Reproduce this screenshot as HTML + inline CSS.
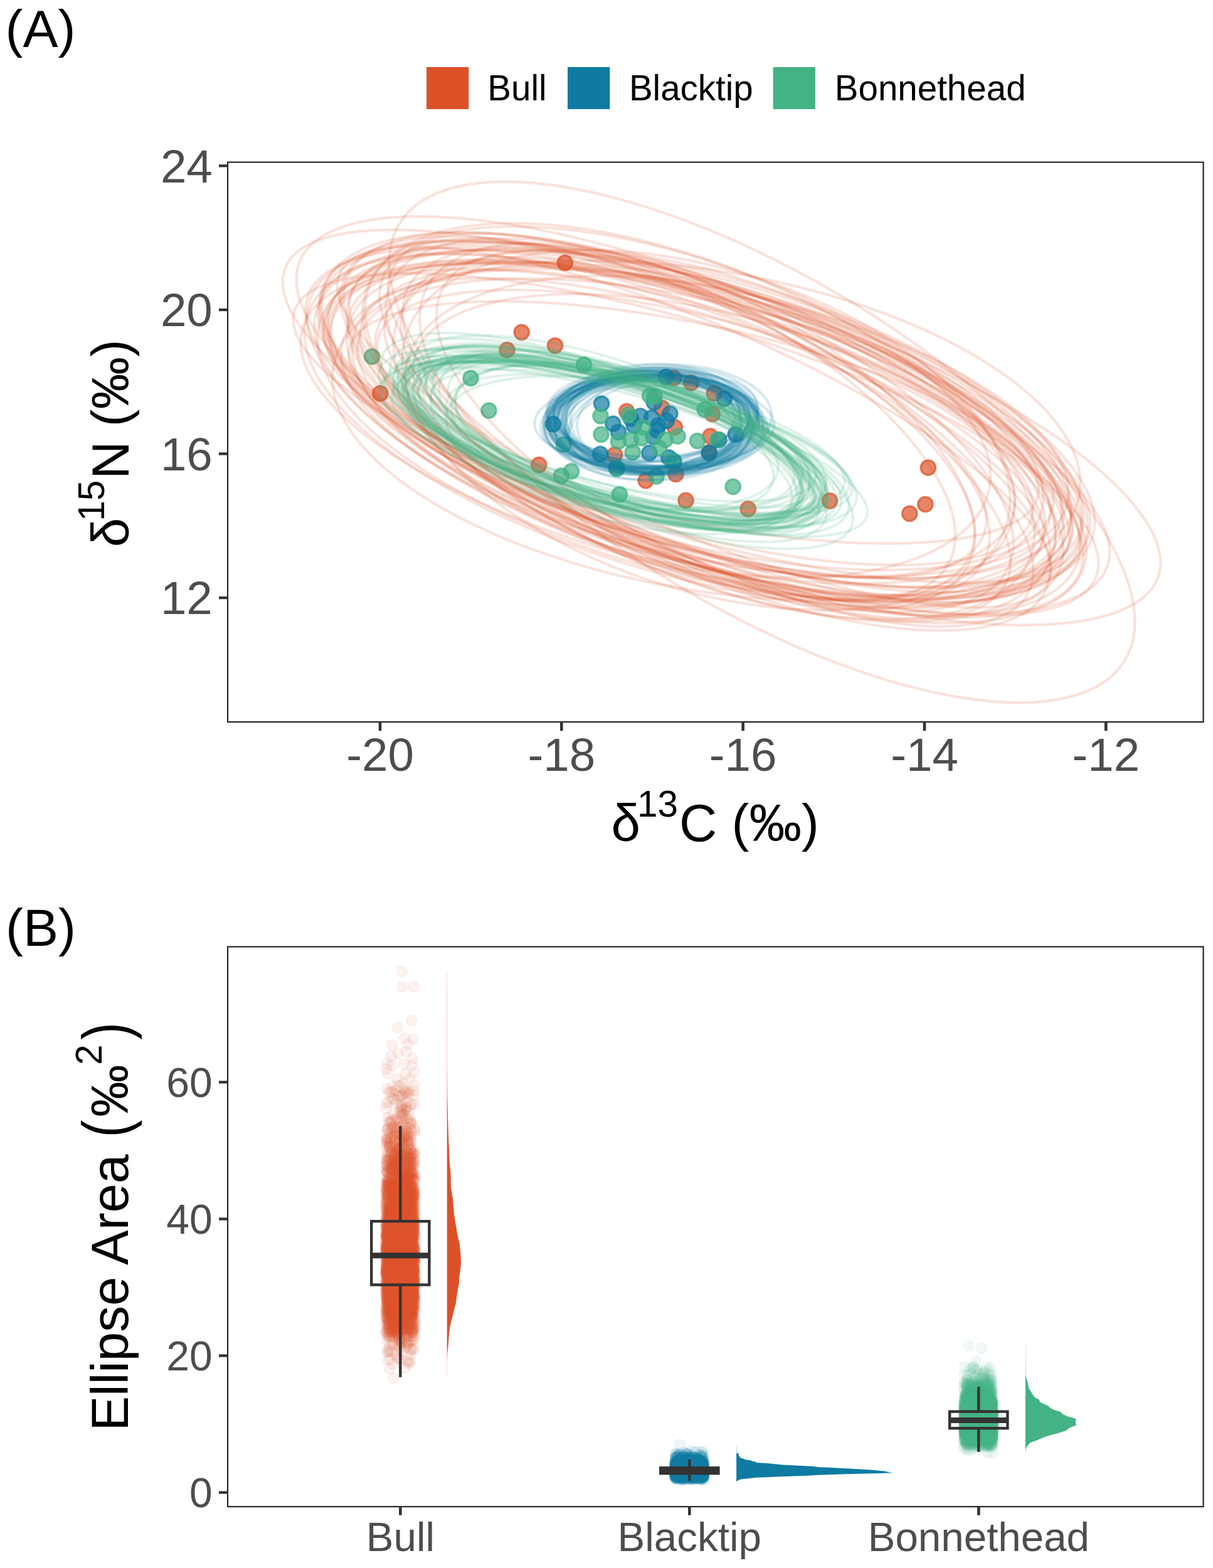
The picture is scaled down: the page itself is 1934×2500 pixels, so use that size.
<!DOCTYPE html><html><head><meta charset="utf-8"><title>Figure</title><style>html,body{margin:0;padding:0;background:#fff;overflow:hidden;}svg{display:block;}</style></head><body>
<svg width="1934" height="2500" viewBox="0 0 1934 2500" font-family="'Liberation Sans', Arial, Helvetica, sans-serif">
<rect x="0" y="0" width="1934" height="2500" fill="#fff"/>
<defs><clipPath id="clipA"><rect x="363.0" y="258.6" width="1555.6" height="892.4999999999999"/></clipPath><clipPath id="clipB"><rect x="363.0" y="1509.5" width="1555.6" height="892.6999999999998"/></clipPath></defs>
<g clip-path="url(#clipA)">
<g fill="#DD5129" fill-opacity="0.7" stroke="#DD5129" stroke-opacity="0.7" stroke-width="3.2"><circle cx="900.8" cy="419.1" r="11.8"/><circle cx="831.7" cy="529.8" r="11.8"/><circle cx="885" cy="551.1" r="11.8"/><circle cx="808.5" cy="558" r="11.8"/><circle cx="606.2" cy="627.3" r="11.8"/><circle cx="859.2" cy="741.2" r="11.8"/><circle cx="999.2" cy="655.8" r="11.8"/><circle cx="1055.1" cy="650.1" r="11.8"/><circle cx="1075.9" cy="681.3" r="11.8"/><circle cx="1074" cy="602.7" r="11.8"/><circle cx="1102" cy="610.3" r="11.8"/><circle cx="1138.7" cy="627.2" r="11.8"/><circle cx="1135.8" cy="660" r="11.8"/><circle cx="1132.5" cy="695.5" r="11.8"/><circle cx="1130.5" cy="721.5" r="11.8"/><circle cx="980" cy="725" r="11.8"/><circle cx="1029.6" cy="766.3" r="11.8"/><circle cx="1077.6" cy="756" r="11.8"/><circle cx="1093.5" cy="798" r="11.8"/><circle cx="1192.7" cy="811.5" r="11.8"/><circle cx="1323" cy="798.5" r="11.8"/><circle cx="1479.9" cy="745.6" r="11.8"/><circle cx="1475.4" cy="804.1" r="11.8"/><circle cx="1450.3" cy="818.9" r="11.8"/></g>
<g fill="#0F7BA2" fill-opacity="0.7" stroke="#0F7BA2" stroke-opacity="0.7" stroke-width="3.2"><circle cx="881.9" cy="676.2" r="11.8"/><circle cx="959.1" cy="643.6" r="11.8"/><circle cx="977.4" cy="675.6" r="11.8"/><circle cx="986" cy="688.9" r="11.8"/><circle cx="1021" cy="663.3" r="11.8"/><circle cx="1039" cy="666.2" r="11.8"/><circle cx="1010.6" cy="678.5" r="11.8"/><circle cx="1049.4" cy="678.5" r="11.8"/><circle cx="1047.5" cy="686" r="11.8"/><circle cx="1068.3" cy="659.5" r="11.8"/><circle cx="1062.7" cy="670.9" r="11.8"/><circle cx="1042.8" cy="641.6" r="11.8"/><circle cx="1061.7" cy="600.8" r="11.8"/><circle cx="1154.8" cy="635.8" r="11.8"/><circle cx="1172.8" cy="692.6" r="11.8"/><circle cx="1146.3" cy="701.1" r="11.8"/><circle cx="957.2" cy="724" r="11.8"/><circle cx="983.1" cy="746.7" r="11.8"/><circle cx="1035.3" cy="722.2" r="11.8"/><circle cx="1066.4" cy="729.6" r="11.8"/><circle cx="1074.3" cy="735.5" r="11.8"/><circle cx="1130.8" cy="722" r="11.8"/><circle cx="1041.8" cy="696.5" r="11.8"/><circle cx="1006" cy="667.4" r="11.8"/></g>
<g fill="#43B284" fill-opacity="0.7" stroke="#43B284" stroke-opacity="0.7" stroke-width="3.2"><circle cx="593.1" cy="568.6" r="11.8"/><circle cx="750.5" cy="603" r="11.8"/><circle cx="931.1" cy="581.7" r="11.8"/><circle cx="779.4" cy="654.6" r="11.8"/><circle cx="957.5" cy="663.3" r="11.8"/><circle cx="958.5" cy="692.7" r="11.8"/><circle cx="1002" cy="661.4" r="11.8"/><circle cx="986" cy="704" r="11.8"/><circle cx="1005.8" cy="701.2" r="11.8"/><circle cx="1024.8" cy="681.3" r="11.8"/><circle cx="1022.9" cy="698.4" r="11.8"/><circle cx="1036.1" cy="631.1" r="11.8"/><circle cx="1043.7" cy="632.1" r="11.8"/><circle cx="1008.7" cy="721.1" r="11.8"/><circle cx="1060.8" cy="701.2" r="11.8"/><circle cx="1051.3" cy="714.5" r="11.8"/><circle cx="1080.6" cy="695.5" r="11.8"/><circle cx="1111.9" cy="703.1" r="11.8"/><circle cx="1072.1" cy="735.3" r="11.8"/><circle cx="1046.6" cy="759.5" r="11.8"/><circle cx="898.8" cy="708.8" r="11.8"/><circle cx="911" cy="751.5" r="11.8"/><circle cx="895" cy="758.6" r="11.8"/><circle cx="987.8" cy="788.3" r="11.8"/><circle cx="1168.7" cy="776" r="11.8"/><circle cx="1144.1" cy="701.2" r="11.8"/><circle cx="1123.6" cy="652.8" r="11.8"/><circle cx="983.8" cy="747" r="11.8"/></g>
<g fill="none" stroke="#DD5129" stroke-opacity="0.17" stroke-width="4.2"><ellipse cx="1093.5" cy="684.5" rx="632" ry="219.6" transform="rotate(14.6 1093.5 684.5)"/><ellipse cx="1109.5" cy="678.4" rx="459" ry="195.2" transform="rotate(28.6 1109.5 678.4)"/><ellipse cx="1108.3" cy="683.3" rx="553.5" ry="197" transform="rotate(26.5 1108.3 683.3)"/><ellipse cx="1107.7" cy="669.9" rx="628.5" ry="219.4" transform="rotate(18.2 1107.7 669.9)"/><ellipse cx="1138.3" cy="694.6" rx="493.4" ry="195.2" transform="rotate(14.5 1138.3 694.6)"/><ellipse cx="1124.2" cy="681.6" rx="540.3" ry="172.1" transform="rotate(15.4 1124.2 681.6)"/><ellipse cx="1124.1" cy="680" rx="627.3" ry="215.5" transform="rotate(17.8 1124.1 680)"/><ellipse cx="1124.8" cy="676.5" rx="569.3" ry="194.1" transform="rotate(13.8 1124.8 676.5)"/><ellipse cx="1133.2" cy="685.6" rx="568.8" ry="197.8" transform="rotate(27.1 1133.2 685.6)"/><ellipse cx="1107.3" cy="674.6" rx="627.1" ry="191.9" transform="rotate(18.5 1107.3 674.6)"/><ellipse cx="1115.6" cy="682.5" rx="596.1" ry="184.5" transform="rotate(21.5 1115.6 682.5)"/><ellipse cx="1130.2" cy="676.2" rx="586.6" ry="245.1" transform="rotate(21.8 1130.2 676.2)"/><ellipse cx="1121.3" cy="675.6" rx="613.9" ry="213.1" transform="rotate(22.3 1121.3 675.6)"/><ellipse cx="1125.5" cy="684.9" rx="597.5" ry="199.5" transform="rotate(18.2 1125.5 684.9)"/><ellipse cx="1104.3" cy="671.3" rx="607.8" ry="199" transform="rotate(15.4 1104.3 671.3)"/><ellipse cx="1111.9" cy="679.9" rx="485.1" ry="214.4" transform="rotate(27.1 1111.9 679.9)"/><ellipse cx="1094.6" cy="668.8" rx="600.8" ry="199.3" transform="rotate(16.1 1094.6 668.8)"/><ellipse cx="1106.3" cy="678.3" rx="640.9" ry="241.9" transform="rotate(15.6 1106.3 678.3)"/><ellipse cx="1101" cy="673.8" rx="691.6" ry="197.6" transform="rotate(20.8 1101 673.8)"/><ellipse cx="1107.1" cy="678.4" rx="619.6" ry="237.3" transform="rotate(15.2 1107.1 678.4)"/><ellipse cx="1112.4" cy="674.3" rx="565.9" ry="221" transform="rotate(14.4 1112.4 674.3)"/><ellipse cx="1108.5" cy="691.1" rx="612.3" ry="209.7" transform="rotate(24.0 1108.5 691.1)"/><ellipse cx="1142.6" cy="689.4" rx="623.3" ry="225.4" transform="rotate(20.5 1142.6 689.4)"/><ellipse cx="1122.4" cy="675.5" rx="515.6" ry="237.7" transform="rotate(18.3 1122.4 675.5)"/><ellipse cx="1146.9" cy="686.8" rx="568.8" ry="215.1" transform="rotate(16.5 1146.9 686.8)"/><ellipse cx="1106" cy="673.5" rx="561.4" ry="156.6" transform="rotate(12.1 1106 673.5)"/><ellipse cx="1099.8" cy="664.8" rx="669.5" ry="217.6" transform="rotate(21.7 1099.8 664.8)"/><ellipse cx="1128.2" cy="687.4" rx="672.7" ry="208" transform="rotate(18.6 1128.2 687.4)"/><ellipse cx="1096.6" cy="683.9" rx="493" ry="202.1" transform="rotate(24.2 1096.6 683.9)"/><ellipse cx="1109.9" cy="676.2" rx="508.1" ry="200.9" transform="rotate(25.1 1109.9 676.2)"/><ellipse cx="1126.2" cy="674.7" rx="619.5" ry="204.2" transform="rotate(16.1 1126.2 674.7)"/><ellipse cx="1115.5" cy="677.9" rx="542" ry="213.3" transform="rotate(24.7 1115.5 677.9)"/><ellipse cx="1092.8" cy="675.8" rx="507.2" ry="182.3" transform="rotate(20.3 1092.8 675.8)"/><ellipse cx="1117.7" cy="676.6" rx="639.1" ry="224.3" transform="rotate(20.3 1117.7 676.6)"/><ellipse cx="1123.8" cy="674.3" rx="591.9" ry="215.1" transform="rotate(12.4 1123.8 674.3)"/><ellipse cx="1115.8" cy="671.8" rx="569.7" ry="245" transform="rotate(22.8 1115.8 671.8)"/><ellipse cx="1109.7" cy="689.2" rx="579.8" ry="218" transform="rotate(17.5 1109.7 689.2)"/><ellipse cx="1132.4" cy="676.7" rx="635.3" ry="223.2" transform="rotate(16.3 1132.4 676.7)"/><ellipse cx="1086.5" cy="677.5" rx="625.1" ry="225.5" transform="rotate(18.6 1086.5 677.5)"/><ellipse cx="1117.5" cy="678.9" rx="639.9" ry="228.3" transform="rotate(16.7 1117.5 678.9)"/><ellipse cx="1116.7" cy="683.6" rx="617.2" ry="191.3" transform="rotate(16.6 1116.7 683.6)"/><ellipse cx="1125.9" cy="685.7" rx="501.8" ry="255.6" transform="rotate(17.6 1125.9 685.7)"/><ellipse cx="1131.8" cy="684.9" rx="627.1" ry="215.5" transform="rotate(15.8 1131.8 684.9)"/><ellipse cx="1118.7" cy="690" rx="569.6" ry="182.2" transform="rotate(17.9 1118.7 690)"/><ellipse cx="1107" cy="680.8" rx="616.1" ry="164.9" transform="rotate(23.4 1107 680.8)"/><ellipse cx="1112.7" cy="680.3" rx="474.8" ry="223.2" transform="rotate(12.3 1112.7 680.3)"/><ellipse cx="1126.1" cy="686.6" rx="603.3" ry="254.6" transform="rotate(9.7 1126.1 686.6)"/><ellipse cx="1094.2" cy="682.5" rx="652.1" ry="168.4" transform="rotate(16.6 1094.2 682.5)"/><ellipse cx="1215" cy="705" rx="675" ry="265" transform="rotate(31.0 1215 705)"/><ellipse cx="1180" cy="690" rx="705" ry="215" transform="rotate(19.0 1180 690)"/></g>
<g fill="none" stroke="#0F7BA2" stroke-opacity="0.17" stroke-width="4.2"><ellipse cx="1042.6" cy="662.3" rx="152.6" ry="81.6" transform="rotate(-0.0 1042.6 662.3)"/><ellipse cx="1040.4" cy="667.4" rx="170" ry="76.4" transform="rotate(3.8 1040.4 667.4)"/><ellipse cx="1047.5" cy="680.5" rx="173.1" ry="77.6" transform="rotate(2.6 1047.5 680.5)"/><ellipse cx="1044.5" cy="682.2" rx="171.1" ry="73.9" transform="rotate(2.5 1044.5 682.2)"/><ellipse cx="1054.1" cy="675.5" rx="171.9" ry="68.2" transform="rotate(5.5 1054.1 675.5)"/><ellipse cx="1035.1" cy="673" rx="160.1" ry="72.7" transform="rotate(-4.6 1035.1 673)"/><ellipse cx="1031.3" cy="677.8" rx="165" ry="69.2" transform="rotate(-2.2 1031.3 677.8)"/><ellipse cx="1043.9" cy="679.5" rx="139" ry="76.7" transform="rotate(-6.7 1043.9 679.5)"/><ellipse cx="1045.4" cy="663" rx="162" ry="66.7" transform="rotate(-0.4 1045.4 663)"/><ellipse cx="1048.3" cy="677.4" rx="138.9" ry="77.1" transform="rotate(5.1 1048.3 677.4)"/><ellipse cx="1056.5" cy="667.9" rx="153.4" ry="79.3" transform="rotate(-0.1 1056.5 667.9)"/><ellipse cx="1035.8" cy="673.1" rx="156.8" ry="81.9" transform="rotate(2.1 1035.8 673.1)"/><ellipse cx="1034.7" cy="665.8" rx="173.8" ry="70" transform="rotate(-6.4 1034.7 665.8)"/><ellipse cx="1034.4" cy="685.6" rx="165.1" ry="71" transform="rotate(0.5 1034.4 685.6)"/><ellipse cx="1038" cy="667.5" rx="143.1" ry="65.2" transform="rotate(-3.9 1038 667.5)"/><ellipse cx="1039.3" cy="672.6" rx="166.5" ry="68.3" transform="rotate(6.3 1039.3 672.6)"/><ellipse cx="1053.2" cy="677.3" rx="165" ry="71.6" transform="rotate(3.2 1053.2 677.3)"/><ellipse cx="1049.1" cy="672.7" rx="167.8" ry="74.8" transform="rotate(3.4 1049.1 672.7)"/><ellipse cx="1044.1" cy="669.3" rx="148.3" ry="73.6" transform="rotate(-0.3 1044.1 669.3)"/><ellipse cx="1030.8" cy="682.7" rx="165" ry="82.9" transform="rotate(2.4 1030.8 682.7)"/><ellipse cx="1039.1" cy="677.6" rx="172.3" ry="74.6" transform="rotate(2.3 1039.1 677.6)"/><ellipse cx="1040.3" cy="672" rx="154.5" ry="81.7" transform="rotate(-1.5 1040.3 672)"/><ellipse cx="1041.5" cy="665.6" rx="166.9" ry="79" transform="rotate(-1.9 1041.5 665.6)"/><ellipse cx="1042.1" cy="674.4" rx="169.9" ry="76.8" transform="rotate(-0.4 1042.1 674.4)"/><ellipse cx="1049.4" cy="674.9" rx="147.9" ry="71.2" transform="rotate(-2.6 1049.4 674.9)"/><ellipse cx="1050.9" cy="673.9" rx="131" ry="74.1" transform="rotate(-3.3 1050.9 673.9)"/><ellipse cx="1042.7" cy="662.6" rx="159.6" ry="65.4" transform="rotate(-1.0 1042.7 662.6)"/><ellipse cx="1038.4" cy="680.2" rx="153.4" ry="84.5" transform="rotate(-3.3 1038.4 680.2)"/><ellipse cx="1043.7" cy="676.4" rx="158.1" ry="77.7" transform="rotate(3.1 1043.7 676.4)"/><ellipse cx="1041" cy="669.1" rx="157.8" ry="77.9" transform="rotate(-6.5 1041 669.1)"/><ellipse cx="1059.1" cy="674.2" rx="164.3" ry="70.5" transform="rotate(3.0 1059.1 674.2)"/><ellipse cx="1054.6" cy="675.1" rx="153.2" ry="75.7" transform="rotate(-2.6 1054.6 675.1)"/><ellipse cx="1040.3" cy="661.2" rx="138.2" ry="75" transform="rotate(-2.7 1040.3 661.2)"/><ellipse cx="1043.4" cy="664.6" rx="166.2" ry="78.8" transform="rotate(-5.1 1043.4 664.6)"/><ellipse cx="1024.9" cy="678.6" rx="156.6" ry="78.5" transform="rotate(-0.6 1024.9 678.6)"/><ellipse cx="1048.4" cy="675.6" rx="168.6" ry="77.6" transform="rotate(-0.9 1048.4 675.6)"/><ellipse cx="1043" cy="672.2" rx="146.6" ry="78" transform="rotate(0.9 1043 672.2)"/><ellipse cx="1046" cy="673.2" rx="163.1" ry="73.9" transform="rotate(-2.0 1046 673.2)"/><ellipse cx="1043.2" cy="676.1" rx="191.1" ry="69.9" transform="rotate(0.3 1043.2 676.1)"/><ellipse cx="1023" cy="676.9" rx="151.8" ry="71.3" transform="rotate(7.5 1023 676.9)"/><ellipse cx="1037.5" cy="676.7" rx="137.1" ry="77" transform="rotate(2.1 1037.5 676.7)"/><ellipse cx="1052" cy="668.1" rx="178.4" ry="87" transform="rotate(-2.1 1052 668.1)"/><ellipse cx="1048.9" cy="676.2" rx="150.1" ry="80.3" transform="rotate(4.3 1048.9 676.2)"/><ellipse cx="1036.7" cy="669.6" rx="164.7" ry="78.7" transform="rotate(-0.5 1036.7 669.6)"/><ellipse cx="1043.2" cy="661" rx="160.7" ry="74.4" transform="rotate(2.3 1043.2 661)"/><ellipse cx="1038.6" cy="673" rx="161.3" ry="79.9" transform="rotate(2.5 1038.6 673)"/><ellipse cx="1038.5" cy="664.1" rx="149" ry="72.1" transform="rotate(-1.7 1038.5 664.1)"/><ellipse cx="1039" cy="679.6" rx="133.1" ry="71" transform="rotate(-10.0 1039 679.6)"/><ellipse cx="1052.7" cy="671.4" rx="153.6" ry="73.7" transform="rotate(-1.4 1052.7 671.4)"/><ellipse cx="1035.6" cy="672" rx="143.1" ry="80" transform="rotate(2.7 1035.6 672)"/></g>
<g fill="none" stroke="#43B284" stroke-opacity="0.17" stroke-width="4.2"><ellipse cx="1009.2" cy="708.8" rx="359.2" ry="102.2" transform="rotate(17.2 1009.2 708.8)"/><ellipse cx="974.3" cy="703.6" rx="325.8" ry="99" transform="rotate(15.2 974.3 703.6)"/><ellipse cx="971.6" cy="703.7" rx="333.8" ry="86.9" transform="rotate(16.5 971.6 703.7)"/><ellipse cx="990" cy="700.6" rx="334.7" ry="101.5" transform="rotate(12.7 990 700.6)"/><ellipse cx="965.1" cy="691.8" rx="331.7" ry="107.4" transform="rotate(16.7 965.1 691.8)"/><ellipse cx="976.2" cy="691.5" rx="347" ry="114.9" transform="rotate(18.9 976.2 691.5)"/><ellipse cx="989.8" cy="702.4" rx="303.2" ry="112.3" transform="rotate(18.3 989.8 702.4)"/><ellipse cx="986.9" cy="701.4" rx="339.1" ry="97.5" transform="rotate(20.6 986.9 701.4)"/><ellipse cx="985.1" cy="699.5" rx="311.5" ry="90" transform="rotate(18.5 985.1 699.5)"/><ellipse cx="988.9" cy="703.4" rx="284.1" ry="88.7" transform="rotate(12.7 988.9 703.4)"/><ellipse cx="970.8" cy="704.2" rx="328.3" ry="110.3" transform="rotate(12.8 970.8 704.2)"/><ellipse cx="968.8" cy="694.4" rx="354.7" ry="105.2" transform="rotate(16.3 968.8 694.4)"/><ellipse cx="979.4" cy="698.7" rx="262.1" ry="96.5" transform="rotate(15.5 979.4 698.7)"/><ellipse cx="959" cy="699" rx="326.1" ry="79.9" transform="rotate(14.5 959 699)"/><ellipse cx="974.2" cy="695.9" rx="309.1" ry="92.5" transform="rotate(17.8 974.2 695.9)"/><ellipse cx="979.5" cy="700.9" rx="344.6" ry="102.2" transform="rotate(15.3 979.5 700.9)"/><ellipse cx="975.9" cy="706" rx="268" ry="97.9" transform="rotate(9.6 975.9 706)"/><ellipse cx="962.2" cy="688.3" rx="347" ry="80" transform="rotate(15.6 962.2 688.3)"/><ellipse cx="970.5" cy="699.4" rx="341.1" ry="82.4" transform="rotate(16.1 970.5 699.4)"/><ellipse cx="973" cy="702.9" rx="316.8" ry="113" transform="rotate(16.0 973 702.9)"/><ellipse cx="996.5" cy="705.4" rx="380.2" ry="100.5" transform="rotate(14.2 996.5 705.4)"/><ellipse cx="974.7" cy="690.2" rx="358.3" ry="86.9" transform="rotate(17.5 974.7 690.2)"/><ellipse cx="996.3" cy="697.4" rx="360.8" ry="98" transform="rotate(17.7 996.3 697.4)"/><ellipse cx="988.4" cy="702.7" rx="342.8" ry="93.8" transform="rotate(14.9 988.4 702.7)"/><ellipse cx="979.5" cy="696.6" rx="382.3" ry="92.3" transform="rotate(12.2 979.5 696.6)"/><ellipse cx="975.3" cy="696" rx="355.4" ry="113.1" transform="rotate(16.6 975.3 696)"/><ellipse cx="981.8" cy="709.5" rx="305.5" ry="119" transform="rotate(16.0 981.8 709.5)"/><ellipse cx="1000.3" cy="696.5" rx="322.3" ry="104.6" transform="rotate(17.6 1000.3 696.5)"/><ellipse cx="986" cy="694.1" rx="382.7" ry="92.8" transform="rotate(13.6 986 694.1)"/><ellipse cx="977" cy="706.7" rx="354.3" ry="91.9" transform="rotate(15.2 977 706.7)"/><ellipse cx="974.4" cy="692.1" rx="316.5" ry="94" transform="rotate(20.6 974.4 692.1)"/><ellipse cx="984" cy="709.1" rx="338.1" ry="102.6" transform="rotate(16.9 984 709.1)"/><ellipse cx="990.8" cy="707.4" rx="389.9" ry="111.5" transform="rotate(19.6 990.8 707.4)"/><ellipse cx="976.6" cy="695.6" rx="377.4" ry="98.7" transform="rotate(11.7 976.6 695.6)"/><ellipse cx="952.4" cy="694.4" rx="333.5" ry="102.4" transform="rotate(11.5 952.4 694.4)"/><ellipse cx="988.7" cy="707.2" rx="289.2" ry="93.6" transform="rotate(19.5 988.7 707.2)"/><ellipse cx="974.3" cy="697.4" rx="316.6" ry="103.6" transform="rotate(15.8 974.3 697.4)"/><ellipse cx="980.4" cy="698.8" rx="345.2" ry="91" transform="rotate(14.1 980.4 698.8)"/><ellipse cx="993.4" cy="706.6" rx="405.6" ry="97.1" transform="rotate(16.7 993.4 706.6)"/><ellipse cx="1005.6" cy="707.7" rx="292.3" ry="113.8" transform="rotate(13.3 1005.6 707.7)"/><ellipse cx="963.1" cy="697.5" rx="376.5" ry="110.2" transform="rotate(20.3 963.1 697.5)"/><ellipse cx="1000.8" cy="710.1" rx="284.4" ry="104.6" transform="rotate(16.1 1000.8 710.1)"/><ellipse cx="966.4" cy="707.9" rx="345.7" ry="100.2" transform="rotate(16.6 966.4 707.9)"/><ellipse cx="987.5" cy="691.3" rx="320.8" ry="83.4" transform="rotate(12.9 987.5 691.3)"/><ellipse cx="989.6" cy="701.6" rx="324.3" ry="89.9" transform="rotate(17.1 989.6 701.6)"/><ellipse cx="978.2" cy="708.7" rx="353.7" ry="97.2" transform="rotate(17.1 978.2 708.7)"/><ellipse cx="994.7" cy="708.6" rx="318.3" ry="89" transform="rotate(15.1 994.7 708.6)"/><ellipse cx="968.6" cy="701.4" rx="341.3" ry="103.2" transform="rotate(17.1 968.6 701.4)"/><ellipse cx="980.4" cy="705.5" rx="351.1" ry="107.8" transform="rotate(15.5 980.4 705.5)"/><ellipse cx="991.5" cy="708.4" rx="355" ry="95.6" transform="rotate(15.8 991.5 708.4)"/></g>
</g>
<g clip-path="url(#clipB)">
<path fill="#DD5129" fill-opacity="0.080" fill-rule="evenodd" d="M652.4 1748.7l-3.4-.6 -1.6 .6 -4.4-.4 -2.6-1.3 -2.4-2.6 -2 1.9 -2.6 1.4 -4 .3 -2.4-.7 -2.3-1.6 -2.5-3.2 -.7-2 .4-4.7 2.8-4.1 4-2 5.3 .3 2.4 1.3 2 2.4 3-2.4 2.6-1 4 .4 4-.7 2.4 .7 2.6-1 3-.4 4.7 1.7 2.5 2.5 1.3 3 0 4.3 -1.3 3 -2.5 2.5 -3 1.4 -3 .3 -2-.7zM660.7 2159.7l-3.7 0 -2-.7 -3.6-2.7 -3.7 1.7 -3 0 -2.3-1 -3 1 -3 0 -4-1.7 -3.7-4 -2.3 .4 -3 1.6 -4.4 0 -2.6-1 -3.2-3.1 -1-2 -.4-3.4 -1.9-2 -1-2 0-6.6 -2.7-7.7 0-4.7 1.6-4.3 -1.6-3.3 0-3.4 .9-2.6 -.9-2.4 0-3.6 .7-2.4 -1-3.6 .5-2.7 -.2-10 .6-5 .9-2.7 -1.6-8.6 .7-5 -.6-7 .7-2 -.8-5.4 .7-12 -.6-2.3 -.1-14.3 .8-7.7 -.7-1.7 .2-13.6 -.5-4 .6-14.7 -.4-12 .1-2 .9-2 -1-4 .1-5.3 .6-2 -.6-2.4 0-3.3 1-6 -.3-8.3 -1-4 .9-4.4 -.7-5.6 1.1-3.4 -.7-1.6 .6-4.7 -.7-2.3 .4-4.7 -.6-1.3 0-4 .6-1.7 -.3-3.7 1.3-3 -.6-4.3 .3-3.3 1.9-3.7 -2.9-7.7 0-2.6 .9-2.4 -.3-4.6 .7-2 0-2 -.9-2 -.4-3 .7-2.7 1-1.7 0-4 .7-1.3 -.1-4.7 -1.6-2.3 -.7-2.7 1.3-6.6 -1.3-3.4 0-3.3 2.7-5.3 -.4-4.7 -.9-2.3 0-3.4 1-2.6 2.2-2.7 -1.6-4.3 .4-3.4 .9-2 -.3-4.6 1.4-3 2.5-2.5 1.6-1 2.7-.7 4.3 .7 3 2 4.4-2.4 4.6 0 1.4 .7 2.6-.7 3 0 3 1.3 5-.3 2.7 1 3 2.7 2 .3 1.7 1 4.8 5.5 2 4.7 -.4 2.7 2.4 2.3 2.3 6.3 -1.3 8.7 -1.4 2.3 -2.1 2.2 -1.9 .8 1.4 4 -1.3 6.7 1.9 3.3 .5 2.7 3.2 4 1 3 -.3 4 -1.4 3 .7 1.7 .7 7.3 -.7 3.3 -2 5 2 8 .3 4 -.5 2.4 .9 3 -.4 4.3 -2.3 4 1.3 2 1.7 4.7 0 2.3 -.7 1.7 .7 6 -1 4.6 .7 2.4 -.6 5.3 .6 9 -.7 2.7 .7 3.3 -.6 4 .6 2.3 0 10.4 -.6 2.6 .2 8.7 -.5 1.3 .9 3 .1 4 -.1 3.4 -1.4 5.3 .2 5.7 1.2 3 .3 3.3 0 8.7 -.6 3 .6 10.3 -.3 7.3 -.6 1.4 .9 9.6 0 14 -.7 9.7 .7 1.7 0 2 -.9 2.6 0 2 .9 2.7 0 14.3 -.6 4 .3 2.4 -1.3 4.6 -.6 7.4 1.9 11 0 2.3 -.9 2.7 .5 3 -1.2 5 .9 4.6 1 2.4 0 2.6 -1.2 3.4 -.8 4.3 -3.6 5 1.9 2.3 1 2.4 .4 3 -.7 2.6 -1 2 -2.1 2.2z"/><path fill="#DD5129" fill-opacity="0.098" fill-rule="evenodd" d="M653.0 1748.0l-9 0 -3-1.4 -3.3-2.9 -1.7 1.9 -3.6 1.7 -3.4 0 -2-.7 -2.8-2.1 -1.6-2.7 0-6 1-2 2.1-2.1 1.7-1 3-.6 4.3 1 3.3 3.3 1 0 2.4-2.3 2.3-1 10.7 0 4-1 2.3 0 4.3 2 2.5 3.4 .6 3 -.6 3.3 -1.4 2.4 -4.1 2.8 -6.6 .1zM632.6 1746.5l2.8-1.1 2.1-2.2 -.9-4 1.2-4.4 -3.1-3.2 -3-1 -2 0 -3 1 -2.2 1.9 -1.7 3.3 0 4 1.3 2.7 2.9 2.6 2 .6zM661.2 1746.5l2.8-1.1 2.2-2.2 1.4-3.7 -.4-3.3 -1-2 -2.2-2.2 -3-1.4 -3 0 -1.3 .4 -.2 .5 2.6 2.3 1 1.7 .7 2 0 3.7 -1 2.6 -2 2.7zM646.9 1747.2l-2.7-2.4 -1.6-3.6 0-3.7 .6-2 1-1.7 2.4-2 -.2-.5 -1 0 -3.4 1 -2.6 2.3 .4 5.9 -1 3 2.2 2.6 2.7 1.3zM652.6 1732.5l.6-.7 -.2-.5 -2.5 .2 1.5 1.2zM653.6 1747.2l.8-.1 .2-.6 -1.6-1.1 -2.2 1.8zM661.0 2159.0l-5.3-.4 -2.7-1.6 -.6-1 -1.7 0 -2.7 1.3 -3.3 0 -1.7-.7 -7 .7 -2.6-1 -5-4.6 -6.7 2.3 -4.7-1 -3.1-2.8 -1.3-3 0-1.7 -3-4.7 -.7-2.6 .2-4.7 -2.8-9 .7-4.7 1.1-2.6 -1.2-3 0-3.7 .7-1.3 0-2 -.8-2.4 .4-6 -.6-1.6 0-15 .4-3.7 .8-2.7 -1.5-8.6 .7-5 -.5-7 .6-2 -.8-5.4 0-4 .6-2.3 -.3-4 .5-1.3 -.8-6 0-11 .8-6.4 0-2.3 -.8-2.3 .4-11.4 -.6-3.6 .1-7 .7-4.7 -.6-16 .9-3.3 -.9-5.7 .8-8 -.5-2 0-4.7 1.2-5 -.5-1.6 .1-3.7 -1.1-3.3 0-3.7 .7-2.7 -.7-5.6 1.2-3.7 -.1-6.3 -.8-2 .4-4.7 -.4-3.7 .6-7.3 .9-3.7 -.5-1.3 0-4.7 2-3.6 0-1.4 -2.4-6.6 .4-5.4 -.3-4.6 .7-2 -.8-7.4 1.2-3.3 .8-7 -.4-4.7 -1.6-3.6 .4-5.4 .5-.6 0-2 -.9-2 0-4 2.7-5.4 -1.4-6.3 0-2.7 .4-2.3 2.5-4.7 -1.2-3.3 0-2.3 1-4.4 0-4 1.7-3 1.5-1.4 4-1.7 2.6 0 2 .7 2.7 1.8 1.2 0 2.5-1.8 2.6-.7 3.4 .7 6.6-.3 2.4 .9 4-.3 3 .7 4.6 3.2 2.4 .8 4.1 4.1 2.6 4.3 .8 5.4 2.9 3.3 1 2.7 0 4 -1 5.6 -1.7 3 -1.4 1.5 -1.7 .7 -.8 1.2 1.3 3.3 0 2.7 -1 4.6 1.6 3 .5 2.4 2.5 2.6 1.7 4.4 0 3 -1.2 3 -.1 1.6 1.2 10 -2.6 7 0 1.7 .7 1 .7 4 .9 2.3 .1 3 -.6 1.4 1 4 -.3 3.3 -1.1 2.7 -1 1 -.4 1.6 2 2.7 .5 2 -.1 5 .6 4.3 0 3.7 -.9 4 .7 3.7 -.8 5.3 .5 2.7 -.3 7 .6 5.3 -.4 2.7 .2 5.6 -.5 1.4 .5 2.6 0 10.7 -.7 4 .7 2.3 .5 5 -1.6 8.7 .2 5.7 1.1 3 .4 3.6 -.6 11.4 .5 11.6 -.7 8.4 .6 8.6 -.3 27.7 -.4 2.3 .7 4.7 0 15.7 -.5 1.3 .2 5.3 -1.5 4.4 -.2 6 1.6 9.6 -.8 7 .5 4.4 -1.1 4 1.5 5.6 0 3.4 -.9 2.3 -.8 5 -1.4 2.7 -1.9 2 -.2 1 2.5 3.6 0 5.4 -2.4 3.8zM611.9 1783.5l2.8-2.4 2.9-.9 1.4-1.8 2-1.3 3.9-.9 -3.9-1.9 -3 0 -2 .7 -3.2 2.8 -1 2 -.3 3.7zM633.2 1777.2l2.2-2.6 -3.7-.3 -3 1 -1.2 1.2 2.5 .8zM641.2 1777.5l2.4-2.3 -1.2-.6 -3.7 0 -.2 .6 1.6 2 .6 .5zM649.6 1778.8l4-1.3 -2.2-1.5 -4.4-.7 -.2 .5 2 3zM660.2 1781.8l-2.5-2.2 -1.2-.1 .5 1.7zM664.9 1790.5l-.3-2.7 -1.2-1.8 1.1 2.8 0 1.7zM612.1 1793.2l1.1-1.4 -.1-1.6 -.4-1.9 -1.3-1.7 -.6 1.2 0 3 .7 2zM610.6 1809.5l.8-.7 -1.4-1.5 -.2 .9 .3 1.3zM663.2 1813.8l1.8-.7 2.2-2.3 1-2 -.2-.8 -1.3 1.3 -2.9 1.5 -1 2.7zM663.2 1816.2l-.4 0zM663.9 1819.5l-.5-2.5 -.6 .5 .7 2zM609.2 1832.2l.7-1.7 -1.9-2.9 -.2 1.9 1 2.7zM610.2 1835.8l-.2-.8 -.2 .8zM669.2 1841.5l-.2-.5 -.2 .5zM668.6 1843.2l.1-1.2 -.5 .8zM668.2 1847.2l-.2-.9zM608.2 1848.2l-.2-.9 -.2 .9zM667.2 1865.8l-.5-1.2 .1 1.2zM607.9 1890.5l-.4 0zM607.9 2097.5l-.5-2.1 -.3 2.1zM608.6 2115.8l.2-1.6 -1.1-4.2 -.2 4.5 .3 1zM668.9 2132.2l.3-4.4 -.5-.8 -1.5 2.5 1.3 2.7zM609.9 2132.8l-.5-.8 -.3 .5zM612.2 2143.2l.7-2.4 1.6-2 -4.5-3.2 -.5 .9 .3 3.7 1 2zM659.6 2158.5l2.4-.4 1.7-1 1.9-1.9 1-2 0-5.4 -2.2-3.1 -2.4 2.6 -4 1.7 -2.2 3.5 -3.2 3 3.1 2.6 2.7 .6zM622.2 2153.2l2.9-1 -2.7-1.2 -2.5-2.5 -.9-1.7 -3.6-.2 -2.3-.8 .4 2.4 2.2 3.2 3 1.7zM633.2 2155.2l-2.1-1.7zM648.2 2156.5l2.4-1 -5.9-.9 -1.5 1.6 1.2 .5zM636.6 2156.5l-3.1-1 2.2 1.2z"/><path fill="#DD5129" fill-opacity="0.133" fill-rule="evenodd" d="M648.7 1732.0l-.6-.5 1.2 0zM655.0 1732.0l-.6-.5 .9 0zM653.4 1744.6l-1 .2 0-1 -1.7-3.6 0-3 1.3-3.8 1 .2 0 .9 1.6 3.7 0 2.6zM653.1 1742.8l.6-2 0-3 -1.3-2.7 -.8 1.7 0 3.7 1 2.3zM638.4 1736.4l0-1.2 .4 .6zM638.0 1743.1l0-1.2 .5 .6zM656.4 1746.6l-.7-.4 .9 0zM649.7 1747.4l-1.5-.2 1.5-.3zM637.4 1775.4l-1.2-.2 1.2-.3zM645.4 1776.1l-.7-.6 .9 0zM642.0 2156.3l-1.9-.5 -.4-.3 .7-.4 -2.7-2.6 -1 .6 -4 .7 -4-2.3 .3-.9 .4 .2 -.4-.7 -.3 .3 -.3-.6 .2 1 -1.2 .2 0-.9 -1.7-1.3 -2 0 -2.7-1.4 -.3 .7 -1-1.3 -1.6-1 .3-.6 -1.3-2.4 -.4-2.3 -.6-1 -1.1-.1 0-.6 -3.3-3 .4-.3 -.7-2 -1-1 .3-1.3 -.3-1.1 -1.7-1.6 -.3 1.6 -.7-1.6 .4-3.3 -.4-1.1 .3 1.4 -.6 .6 -.6-2.3 .1-2.3 1.3-3 0-1.7 1.2-1.6 -.3-2 .6 0 -.3-.7 .6-.7 -2.3-3 1-3.3 -1-1.7 .3-1.6 -.3 .9 -.5-2.3 .1-1.3 1.1-2.3 -1.3-2.7 -.3-2.3 .6-6.7 -.3-4 1-6.7 -1.5-7.6 .8-5.7 -.8-3.7 .6-4.3 -.6-7 .6-9.3 -.8-11 1-13.4 -.7-5.3 .1-10.7 -.6-4.6 1-10.7 -.7-14.3 1.2-5 -1-3.7 -.2-3.3 .7-4.4 -.3-7.6 1.2-7 -1.6-11.7 .6-2 -.2-6.3 1.3-6.7 -1.1-5.7 0-4 .7-3.6 -.4-4 .7 0 .3-3 0-4.7 -.7-2.3 .5-3.7 .5-.9 0 3 1.7-4.1 -.6-1.3 .3-1.4 -2.2-4.6 -.3-2.7 .9-3.7 -.8-1.6 .7-6.7 -.5-3.3 .7-1.4 .3-3.3 -.5-1.7 .6-3.2 .7 .3 .7-.7 0-1 -1-.4 -.1-1.3 2.1-3 -.3-.7 1 0 .8-1.3 -1.2-2.1 -1 0 -.3-.6 -.2-.6 1.2-.6 0-1.1 -2.2-4.3 -.8-.7 -.3-4 .5-4.7 1.1-3.6 1-1.3 1-.4 0-1 -2.1-2 -.5-2.7 .6-.6 .3 1 .4-1 0-2.7 -.7-1.3 .7-3 1.3-2.5 1.7-1.2 .3-1.3 -.8-3 .7-2.7 3.1-4.3 2-1.3 4.4-.4 2.3-2 -.3-.3 .6-.8 5 1.5 1.7 .1 1.3-.6 .7 .8 2.3 .5 2.3 1.2 1.1-.4 0-1 .9 .1 0 1.2 2 3.1 4.1-2.1 1.3-1.2 1 .3 .3 .7 4 .1 .7 .5 1.6-.3 4.3 1.9 1.1 1.4 -.3-.7 .6-.3 1.5 4 -.2 3.6 .6 .4 -.2 .4 .6-.4 1.3 1.6 -.3 .6 -1-.6 1 .7 .3 1 -1.9 1.9 -.1 1.8 2.4 1 2.3 3 .6-.4 .4 2 -.6 1 -.4-.7 -.7 1.4 -3 2.3 -.7 1 .7 .7 -.7 1 -1.6 0 -1.4 1 1.7 1.3 .7 1.7 -.3 .9 -1.3 0 -.4 .8 1.4 .7 .4 1.9 -.1 .6 -.7 .1 -.7 4 .7 1.1 .7-.1 .4-1.7 .5 0 -.3 3.4 -.7 .3 .4 1 -.7-.3 -.3 2 3.4 1.7 2.4 3.3 1.2 3.3 -1 5 .3 3 -.3 .5 -.4-.5 -.1 1 .1 1.3 .4 .4 .4-.3 .5 1.6 .1 3.7 -.6 .9 -.4-.6 -.4 1 0 2.3 1 .4 0 1 -1.6 3.9 -.4-.3 .2 2.4 -.8 .3 0 .7 1.4 2.7 .6-.1 1 5.4 -.3 1.9 -.7-3.4 -.5 1.8 .5 1.7 .8 .6 .8 4 -.2 3.6 -2.6 4.8 .2 1.4 1 1.2 -.4 .4 .4-.3 .6 1.3 -.2 .6 -.8-1 .7 2 -.3 1 .4-.9 .4 1.3 -.1 3.3 .3-.3 .3 .6 .6 6.4 -1 4 .7 5.6 -1.3 5.4 1 2.6 -.3 5.7 .6 6 -.6 10.3 .6 5.4 -.7 11.3 1.1 7.3 -1.7 8.7 .3 6.3 1 2.4 .5 5 -.5 7.6 .6 14 -1 6.4 .7 20 -.1 13.6 -.9 3 1.1 15 -.7 12 .3 3 -1.4 5.4 -.3 6.6 .4 4 -.7 .7 .1 .7 .7-1.3 1.1 6.6 -.5 2.9 -.3-.2 -.1 3.6 -1 .4 .4 3 .4-2.4 .6 0 -.6 5.4 -.4 1.6 -.3-.3 -.1 1.3 1 1.7 -.2 .3 -.9-1 -.9 6 1 3.4 .4-1 .6 .6 -.6 2 -2.6 1.3 .2 .4 -.6 .7 .3 2.6 1.7-2.2 .3 .6 -3.3 4.9 -.6 .3 -.4-.6 -3 1.3 -3 4 -1.3 0 -.7 .7 -.7 2 .4-.2 .3 .6 -3 2.9 -1.6-.6 0-2.7 -1-1 -2.4 0 -1.4 3zM655.4 1779.1l-1-.6 .9 0zM639.1 1780.8l-.5-.3zM649.7 1781.8l1-.3 -1-.4zM645.1 1784.5l.9-2.4 -1.7 1.4 0 .7zM642.1 1783.8l-.1-1zM611.7 1785.6l0-1 .4 .6zM663.4 1789.8l0-1.2zM667.7 1796.4l0-.5zM668.0 1797.1l0-.5zM610.0 1797.8l0-.8zM669.0 1800.1l-.9-2.6 .3-.6 .9 2.3zM664.4 1806.8l2.7-2.3 .6-1.3 -.6-1.4 -3.1-2.7 1 2.7 0 3.7zM612.4 1807.8l0-2 -1.7-1.7 -.1 1.7zM668.7 1806.1l0-1.5zM661.4 1819.2l0-1.4 -1.4-1zM608.4 1825.4l0-1.8zM609.7 1834.1l0-1.2zM667.4 1839.5l0-3 -1-2.4 .9 2.7zM611.1 1836.8l.3-.4zM611.1 1839.5l1.9-1.3 -.3-1.4 -.7 0 -1 1.4 -.4 1zM609.4 1841.4l0-1.5zM667.4 1849.2l0-.4zM668.7 1857.1l-.3-.6 .6-2.3 .1 2zM608.7 1860.2l.4-1 -.4-1.1 -.4 1.7zM666.7 1860.5l.3-.4zM609.4 1861.5l0-.7zM665.7 1863.5l0-.4zM610.0 1876.4l-.6-.2 .6-.3zM609.4 1877.1l0-.9zM609.0 1877.8l0-.9zM668.7 1893.4l0-.8zM607.7 1902.2l0-.4zM669.1 1902.5l-.4-.7zM668.4 1914.8l0-1.4zM607.7 1917.2l0-1.4zM668.4 2087.2l0-.8zM608.4 2105.8l0-.6zM608.4 2119.8l0-.3zM608.7 2124.5l.4-2.3 -.4-1.4 -.7 1.4zM668.0 2123.8l0-.6zM607.7 2128.1l0-.9zM667.4 2132.1l0-.5zM667.7 2133.4l0-.8zM665.7 2136.2l1.4-1.4 -.4-1.4zM610.0 2134.8l0-1.1zM667.7 2137.4l0-.8zM667.4 2138.8l0-.9zM664.1 2141.8l.3-1.4 -.8 1.4zM618.1 2142.8l.3-2 -.7 0zM625.4 2147.8l-.7-2 .3-2.7 -1 1.3 -3.4 2.1 2.8 1.4zM613.0 2145.1l-.3-1.2 .6 .6zM621.0 2148.4l0-.5zM628.1 2149.2l-.5 0zM652.1 2153.5l1-.7 1-2.6 -3.1 .9 .3 2.1zM635.4 2152.5l2-1 -.7-.4 -4.3 0 -.8 .4 1.1 1.1zM626.7 2151.6l-.6-.1 .6-.3zM641.4 2154.8l2-1.3 -2-2 -1 0 -1.1 1.3zM642.1 2155.5l.3-.4z"/><path fill="#DD5129" fill-opacity="0.174" fill-rule="evenodd" d="M626.7 1777.7l-.7 0 0-.7zM630.0 1778.7l-1.9-.9 2.8 .4zM625.4 1779.1l-.6-.3 .9-.8 .2 .5zM638.7 2152.1l-1.7-1.7 -1.6 0 .4-.6 -.8-.4 -1.3 0 -.1 .8 -1.6 .4 -.5-.4 .2-.5 -1.3 0 -1.7-1 -2-6.3 -1.3 0 -1.4-1 -4.6-.3 -.7-.8 -1.3-.2 -1.9-1.3 -.1-1.1 -.7 .4 -1.6-1.6 -.1-1.2 .8 1.2 1.3 .3 -2-2.6 .1 .6 -.7 .4 -.4-1.4 -1.3-1.6 .4-.7 -.4-2 -1.3-2.3 .2-.6 .4 .2 -.3-1 -.6 .4 .2 .5 -.8-.5 .8-1.7 .1-2 -.4-3.3 -.6-1 2-4.4 -1.1-5.3 -.4 .6 -.8-1.3 .5-.3 0-1.2 .3 .2 0-1.7 -1.5-4 1.1-3.6 -1.5-4.7 .6-1.9 .4 .6 -.1-1.1 -.3 .3 -.4-.9 .7-4.3 -.7-3 1.1-3.4 -.5-.6 .3-3.4 -1.3-7.3 .7-6 -.7-4 .6-5.7 -.6-2 0-4.6 .8 .4 -.6-1.8 .3-5 .4-.6 -1.2-9 .1-8 .9-8.4 -.5-5.6 .6-.7 -.8-1 .1-7.7 -.5-5.6 1.1-12 -1-13 1.3-5 -1.1-7 1.1-10.4 -.6-3 1.2-5.6 -.4-1.7 .4-1.3 -.6-.4 .1-1.6 -.7-2 .4-.8 .3 .6 .1-1.8 .7 0 .4-1 -1.2-2.4 -.1 2.4 -.5-.5 -.4 .7 -.2-1.9 1.6-9 -.8-1 .9-5.3 -.9-3 .6-3 -.7-3 1.1-11 -.4-7.4 .5-.2 .4 .9 .7-3.7 1.6-2 -1-1.1 .1-1.9 -1.5-2 -.9-3 .6-5.8 1-1 .2-1.2 -.4-1.3 .6-3 -.4-.8 -1.2 1.1 -.2-1.3 .3-3.7 .4-.8 .4 .5 -.5-2.3 .6-2.4 -.5-4 .4-.5 .3 .7 .5-.2 -.6 1 .4 1.2 2.1-1.8 .6-.8 -1.3-.3 0-.6 -.4 .2 -.2-.5 .6-.8 1 .6 1.3-.4 .2-1.1 -.4-.7 .6-1.6 -1.9-1.4 1.2-1 -.2-1.6 -1.3-2 -.4-3.7 -1-2 .9 0 -.7-.4 -.3 .3 -1.9-3.9 .7-3 -.1-4 1.3-3.7 1.3-.9 0 .7 .4-.4 0-2 1 0 .3-.9 1.1 .2 -.5-1.1 -.3 .5 -.5-.4 -.7-2 .5-.4 -1.3-1.7 0 1 -.8-.9 .8-1.9 .4 .6 3.6-2.7 -.7-1.4 -2-1.3 -.6 .3 -1-.6 .5-1.3 1.1-.9 0 1.6 1.4-.7 -.6-.4 .3-.6 -.5-.7 .4-1.5 .7 0 .2-.8 -.5-1.1 -.4 .6 -.3-.3 -.3-1.2 .8-2.7 3.2-4.4 1.3-.7 1.7 .2 3-.9 0 .5 2.3 0 1-1 0-1.2 1.5 .8 -.3 1.7 1.1 2 3.7-3.5 2.2 .5 .3 .3 -.6 .4 1.6 2 .4 1.3 1.8 1.5 .6-.7 .4 .2 -.4-2.4 .4 .5 .5-.4 .4 2.6 .4-.2 .3 .6 1 0 .7-.6 .3 .6 .4-.6 1.3 .6 1.7 0 1.1-.4 1.5-2.5 .4 .7 .5-.2 -.9 1.5 4.4-2 -.6-.5 .6-.4 2 .5 1-.3 1.8 .9 -.8 .1 -.4 .9 4.2 4 .5 1.1 .2-1.4 -.4-1.4 .9 .2 .2 4.8 .5 1 -.1 .6 -.4-.2 .4 1.3 -.4 .7 .5 2.3 -.6 .7 .7 3 -.6-.4 -1 2.7 1.3 3.3 .9 .4 .1 1.3 -.5 1.1 -1.4 .5 .1-.6 -.4-.1 -1.1 1.1 1.3 .3 -1.7 1.4 -1.2 2.6 .9 1 -.2 .5 1.7-1.1 -.6-1 .2-.6 1.3 1.9 -1.6 .6 -1.2 1.4 1.7 4 -.1 2 -.4-.4 -.2 1.1 1 1.6 -.5 .5 .8 .5 -.9 1 0 1 1.7 2.4 2.7 1.3 1.3 1.7 -1.1 0 .3 1.6 -.8 1.7 1 1.8 .4-.3 1.2 3.5 0 1.7 -1.3 1.3 0 1 1.1 2 -.4 .6 -.4-.3 .6 3 -.6-.3 0 2.3 .6 0 -.2 1 .5 .4 -.1 2 -.8 1 0 2.3 -1.4 2 .4 1 -.7 .7 .1 .6 .9 .4 .1 3.3 .9 1 -.5 .6 -.4-.3 .4 2.8 .7-.8 -.3-2 .9-.2 .4 .6 -1.1 4.3 1.8 3.3 .5 3.4 -.4 3.3 -2.2 3.3 -.2 1.4 2.5 11.3 -.4 4 .8 .1 .2 1.6 -.8 5.6 -1 2 .2 2.8 .7 0 .4 .9 -1 3.7 .9 2.6 -.7 5.4 .8 3.3 -1.2 0 -.2 1.7 1.2 1.6 .2 1.4 -.6 4 .2 1.1 .4-1.1 -.3 4.6 .6 3.7 -.6 13.7 .9 6.3 -1.6 9 .2 5.7 1.6 7 -.6 7.3 .7 14.7 -1.4 5.6 .7 5 .2 6 -.5 4 .7 6.4 -.4 9.3 .3 4.3 -1 4.4 .9 7 -.1 11 -.4 2.6 .5 1.4 -.4 8 -1.1 4.6 -.2 7.4 -.8-.1 0 .4 .6 1 -.5 2 .5 1.3 -.6 1.4 .7 .1 -.2-1.1 .5-.2 1.1 3.2 -.7 3.5 -.6-.9 .8-2.3 -.6-1.7 -.1 1.7 -.9-.1 -.2 1.4 .2 1.2 .9 .2 -.2 .8 .3-.4 .4 .6 .1 2.3 -1.2 1 .9 6 -1.7 7.3 -.3 4 -.8-.4 -1.5 1.1 .1 1.7 .9 1 .2 2 -.5 1 -3.2 .9 -.8 1.1 .6 2 1.2-.2 .6 .8 -3.4 2.4 -1 0 -1.1 1.3 .1 1.7 -1.2 .1 -2 1.6 -.4-.5 -1.6 .7 -1.4-.4 -.1 .8 -.5 .2 -.7-1 -.9-.2 -.1-.8 -1-.3 -.7 .4 .6 1 -1.6 1.3 -1-1 -2 0 -.8 .4 .2 .6 -1.4-.4 -2 .7 .1-.6 -.4 0zM633.4 1778.7l-.5-.2 .5-.2zM637.0 1780.1l-1.5-.6 1.2-.1zM627.5 1781.2l-.5-1.1 -.8 .4zM640.7 1780.4l0-.4zM648.7 1781.4l-1.2-.2 1.2-1.1zM634.5 1784.2l1.5-.2 -.2-1.2 -1.8-2.4 -1 0zM641.0 1781.7l-1.2-1.2 1.1 .3zM617.8 1782.8l2.3-1.3 -2.1 .6zM631.5 1785.2l-.1-3.8 -1.8 1.4 0 .7zM647.4 1781.7l0-.4zM614.8 1788.5l1.9-5.4 -2.2 3.1 -.4 1.6zM659.0 1783.7l0-.4zM643.4 1784.4l-.4-.8 .6 .2zM659.7 1784.1l0-.5zM660.0 1784.4l0-.4zM661.4 1785.7l-1-1.4 1.1 .9zM638.1 1785.8l.3-.4 -.8 .1zM661.1 1790.5l.3-1 -.6-1.3 -2.4-2.5 .5 1.5 .1 3.3zM616.8 1789.5l-.8-2.4 -.4 2.1zM661.7 1792.5l0-.4 -.4 .4zM613.4 1793.4l0-.4zM663.7 1794.1l-.6-.3 .3-.5zM613.7 1794.4l-.6-.2 .6-.2zM615.8 1796.5l.2-.7 -.9-1 -1.2 .4 .8 1.1zM610.7 1798.4l-.2-.6 .9-2.2 .5 .9zM610.4 1799.1l0-.8zM661.1 1801.8l1-2.6 -.4-.7 -2.5 1.3zM613.5 1803.5l1.2-2.3 0-1.1 -2.4 1.7zM611.0 1802.1l0-.8zM612.0 1804.1l0-.8zM612.4 1804.4l0-.4zM610.0 1806.1l0-.8zM662.7 1807.5l-.7-2.1 -.1 2.1zM612.5 1812.5l.9-1 -.4-.7 -1.4 1 .4 .8zM610.1 1815.5l1.4-1.3 -.5-1.7 -.9 1zM610.8 1816.2l.9-1.5zM660.5 1820.5l-.1-.4zM659.5 1822.5l.2-1.8zM666.7 1833.9l0-.6zM613.0 1835.1l0-.5zM666.8 1841.5l-.6-.3zM613.1 1841.8l-.1-.4zM610.4 1842.7l0-.4zM667.4 1844.4l0-.8zM667.0 1846.1l0-.5zM609.7 1847.8l0-.5zM666.1 1850.2l-.1-.4zM668.0 1852.7l-.5-.2 .5-2.1zM666.0 1863.1l0-.5zM666.4 1863.6l-.5-.1 .5-.5zM609.5 1866.2l-.5-.8zM667.0 1868.4l-.3-.8zM667.4 1884.5l1-2 .2-2.3 -.6-1.5zM669.0 1915.4l0-1.8zM607.4 1928.1l0-.8zM668.7 1928.1l0-.5zM608.0 1928.4l0-.4zM669.0 1934.7l0-2.7zM608.0 1979.8l0-.4zM607.0 2006.7l0-.4zM669.0 2018.4l0-.4zM607.8 2067.8l-.1-.4zM608.4 2082.2l0-.5zM668.6 2087.5l.2-1.3 -.4-.9 -.4 1.5 .1 .7zM608.2 2092.8l-.2-.7zM666.8 2101.2l-.1-.8 -.4 .4zM610.0 2114.4l0-.4zM609.7 2115.4l0-.4zM664.7 2142.1l0-.5zM628.7 2146.2l.4-1.7 -.7-2.3 -.7-.1 -.1 1.7zM664.4 2142.4l0-.4zM630.1 2143.2l-.1-.4zM663.4 2143.6l-.9-.1 .5-.5zM620.0 2146.4l-1-1.1 .9 .2zM656.8 2147.5l-.1-.4 -.5 .4zM632.8 2149.2l.2-.5 -1.5-1.2 -.8 .2 .7 1.3zM627.0 2148.7l-.9-.5 .6-.2zM653.5 2148.8l-.9 0zM642.7 2149.5l-.7 0zM630.7 2150.1l0-.5zM649.7 2150.4l0-.4zM630.7 2151.3l-.2-.5 .5-.2zM644.7 2153.6l-.6-.4 1.6-2.2 .1 .8zM629.7 2151.7l0-.4z"/><path fill="#DD5129" fill-opacity="0.218" fill-rule="evenodd" d="M622.0 1781.1l0-.4zM640.7 2149.6l-3.3-.4 -.3-1.7 .6 0 0-.7 -.6-.3 .3-.4 -1 0 -1.4 1.2 -.6-1.1 -1.4-.9 -.6 1.2 -.4-.3 0 .6 -1-.3 .4-2 -1.1 1.3 -.5 2.4 -.4 0 -.5-.7 .5-.9 .3 .2 .2-3 .6 .4 0-1.7 -.8-1 -.3 .3 -1.3-.6 0-1.7 -.7 .8 -1-.8 -.7 .3 -.3-.7 -1 .5 -.7-.5 -2 0 -.4 .4 .3 .3 1.4 .4 -.3 .6 -3-.5 -.8-.5 .5-1.3 1 0 -.4-.7 -2.3 .3 -.3 .9 -1-.8 1-1 -.3-.7 .6-.3 0-1 -2-2 .3-.4 -2-.3 -1-1.2 -1 .8 -.3-.3 -.2-1 .5-.6 -1.1-1.7 .6-.7 -.3-2 .5-2 -1-1.3 .3-.7 -1.5-3 1.3-2 -.4-1.3 .7-1 -.6-4.7 -1.4-3 .6-3.3 -.3 .3 -.7-1.3 .2-2.7 -.8 0 .7-2.6 -.6-8 .5-2.4 -.7 0 .8-4 .1-2 -.5-.3 .5-2.7 -.5-.6 -.8-8 .5-.4 .2-1.6 -1-3 .4-2.7 -.3-5.9 .3 .2 -.6-8.3 .9-2.7 -.5-3 .7-3.6 -1.4-9 1.4-21.7 -1-5 -.3-15.3 .5-5.4 .9-2.3 -1.4-10 1.1-5.3 -.2-4 .6-.4 -1.2-3.6 0-2.7 .9-1.7 -.4-2.3 .7-3.3 -.3-6 .3-1.6 .5-.1 -.5-.3 .8-3.4 -1.1-4.6 .6-.7 -.3-.7 1.1-2 .2-1.6 -2.2-3 1.2-4.7 0-2.7 -.6-1.3 .9-2.7 -.9-5 .5-1.6 -.7-5 .6-5 .5 0 0 .7 .2-1.1 -.6-1.3 .5-4.7 -.5-2 .3-1.6 1.1-1.3 -.3-1.1 .5-2.3 2.2-4 -1.5-1.3 -2.4-4.7 .2-.6 2.3 3.6 1.1 0 .3-2 -.7-2 -.3 .3 -1-1.3 .3-1.7 -.7-1 .4-2.3 -.8 1.7 -.6-.4 1.9-3.6 -.5-2 .7-.7 -.4-1 .3-.3 -.6-.7 .1-1.3 -.8-.7 0-3 .7-.6 .6 1.3 .7 0 .7-1 -1-.7 -.3-1.3 -1 0 -.2-2.4 2.2 0 -.2-1.6 1.1-1.8 1.4-.9 -.3-1 .5-1 -.5-1 .9-.9 .4 .6 .4-.4 -.1-1 -.7 .7 -.3-.3 0-2 -.7-.1 -.7-2.3 .4-.3 -.7-.2 -1-2.5 -.4-2.6 .7-1.4 -1.4-1.6 .8-.7 -.3-.9 .6-.1 -.3-1 -1 .5 -.6-.5 1-.7 .3-.9 .3 .3 -.3-3 1-2 -.2-1.7 1.5-1 .7-1.3 .7 0 -.4-.7 -1.7-.7 -.3-1.2 1.7 .3 1.3-1 .7 .3 1-.4 0-.3 -1.7 .3 -.3-2 .6-.2 .4 .6 1-.4 -.7-1 -.6 0 0-2 1.3-.6 0-1.4 -.7 0 .4-1.6 1.3-.2 .3-.8 -1-.7 .3-.3 -.6 .6 -.3-.3 -1.1-2.3 -.9-.7 -.4-1.9 1.3 .4 2.4-.1 .5-1.4 -2.2-1 1.3-.6 1.7 .1 1-1.1 .7 .3 1-1 .7-1 .3-4.4 -2.3-1.3 .9-.3 1.4 .7 1.3-1.4 4 2.1 2.6 3.9 .3 1.3 1.4 1.1 1.4 .1 3-1.8 .3 .7 1-.2 .7-.5 0-1.7 .6-.6 .8 .6 -.5 1 1.7-.3 .6 1 2 1 .4 1.2 -.3-1.2 1.4-.7 .3-1.3 2.3-1 .9 .3 -.3 .7 .7-.3 .3 .9 2.3 2.4 1.7 .3 -.6 1.3 1.3 2.4 1.7-1 1.3-1.6 1.6 1.2 -1.9 .7 -.4 .7 .7 .3 -.4 .3 2.1-1.6 1.6 1.3 -3.3 1 0 .7 1.4 .7 1-.3 1.3 2.5 -5.1 2.4 .4 .3 -1 .2 -.2 .5 2.2 3 1.3 .7 -1.3 2 1.3 .6 -.3 .7 -.7-.3 1.6 2.6 -.5 .3 -1.1 2.7 .4 .4 .3 1 -.5 .3 .8 2.3 -.6 4.7 .5 1.3 -.3 1.4 1.5 1.3 0 1 -.7 .2 -.4 .8 1.4 1.4 .7-.3 .6 .6 1.2 1.6 -.5 .7 1.3 2.7 .8 0 .4 3 -.5 .3 -.7-.7 -.7 1 .7 1.4 .4-.3 .6 .6 -.3 .4 .6-.1 -.3 2 .7 2.4 -1.4 1 .3 1.3 -.6 1.3 1 .7 -.4 1.7 1.4 2 -.5 1 .5 3.6 -1 .3 -1 1.4 .4 .9 .6-.5 .5 .3 -1.2 2 .2 1.6 .9 1 .3 7.7 2.6 4 .2 1.3 -.1 .3 -1-1 .1 1.7 -1 2.4 -1.8 2 0 .6 .6 0 .4 2.7 -.4 .3 1.1-.8 .4 .2 -.7 2 1.2 4.6 1 8.4 .2 8.6 -1.2 3.4 .7 8 -.7 1 .3 1 1 .3 -.6 2.7 .1 2.6 -.9 3.4 .3 2 1.3 2 0 1.6 -.8 .7 .3 .3 -.6 1 .6 .7 .8 7 -.5 14.7 .8 6 -.4 1.6 -.7-1 .4 1.7 -.3 2.3 -.4-.3 .3 1.7 -.8 6.3 .7 4.7 1 2 .5 3 -.2 3.3 -.9 2.3 .7 4.7 .4 11 -1.2 6.3 .8 11 -.8 4.7 .6 1.3 .4 5.4 -.3 13.3 -.9 3.7 1.1 11.3 -.7 3 0 5 -1.1 2.7 .1 .7 1 .6 .3-.6 .1 2.6 -.1 1 -1 .3 -.3 1.4 0 2.3 .6 1.3 -1 5 .1 4.7 -.7 .1 -.8 2.9 .9 1.7 -.6 2.6 .1 3.7 .8 1.7 -.8 2 .8 1.6 -.4 3.7 .3-.3 .9 2.3 -.5 1.3 -.4-.6 -.4 4.6 -.2 .7 -.7-.4 -.4 .4 0 1 .7 .7 -.3 2.3 -2 1.3 0 .5 -.7-.1 .3 .3 -1.3 1.3 -2.3-.3 .6 .3 -.3 .3 -1-.3 0 1.7 1.6 2.3 -.2 1 -1.4-.7 -.7 .4 .4 1.3 -.7 1.4 .4 .7 1.2 .3 -.6 .6 .3 .7 -.7 .3 0 .7 -1.6 1.6 -.6-.3 .3-1.3 -.3-.4 -1 .4 -.4 .3 .6 .4 -1.1 1.3 .2 1.6 -.7-.3 -2 .3 0-1 -1 .4 -.3-1.7 1-.3 -1-.4 0 .7 -1.7-.8 -1.3 .8 -.4 1.7 -1.9 1 -.4 1 -2.3-.9zM625.7 1781.8l-.4 0zM621.0 1782.8l-.3-.6 .7-.3 .2 .3zM627.0 1784.8l.4-1.3 -2.4-1zM654.7 1783.1l0-.5zM650.7 1785.1l-.7 0 0-.5 2.7-1.5 1.3 .1zM655.4 1783.3l0-.4zM656.7 1784.8l-1-.6 .7-.6 .6 .9zM629.7 1786.5l-1-2 -.4 1.7zM657.0 1785.1l0-.5zM633.0 1786.1l-.6-.3 .3-.6 1-.3 .3 .6zM649.7 1785.5l0-.5zM624.1 1786.8l.3-.6 -.7-.7 -.1 1.3zM644.0 1786.1l0-.5zM646.0 1786.1l-.6-.3 .9 0zM633.4 1787.5l0-1.6zM651.7 1789.5l-2-2 1 1.7zM640.4 1788.8l.3-.7 -.7 .4zM643.0 1789.2l-1-1zM643.7 1788.5l-.4-.3zM641.0 1790.5l0-.7 -1.4-.3 .4 1.1zM645.4 1790.8l-.4-.6zM645.0 1791.5l-.3-.7zM615.4 1791.8l0-.6zM614.7 1792.5l-.3-.9 .9 .2zM660.4 1792.1l0-.4zM638.4 1793.8l.6-1.7 -.7 .7zM645.1 1794.8l-1-2.6 -.7-.1 0 1.5 .6 .9 .4-.6zM645.1 1792.8l-.1-.7zM646.4 1794.5l-.4-2.2 -.4 .2 0 2 .4-.8zM655.7 1794.2l.7-1.1 -1 .7zM661.7 1795.5l-.6-1.3 .9-1zM642.4 1794.8l.3-.7 -.7 .7zM656.7 1797.5l2-1 -2.3-.7 -.4 .7 .3 1zM659.7 1797.5l0-.7 -.7 .4zM616.7 1797.5l0-.6zM659.7 1797.5l0-.6zM618.4 1799.5l-.4 0zM616.0 1801.8l-.5-.3 .5-.6zM660.4 1803.1l-1.3-1.3 .3-.2 1.1 .9zM619.1 1806.2l-.4-2 -1-1.4 -.4 1.4zM660.7 1804.1l-.6-.3 .9-.9 .3 .6zM616.7 1806.8l-.4 0zM659.0 1809.1l0-.5zM657.7 1810.5l-.3-.4zM659.7 1810.5l0-.6zM610.0 1820.1l-.3-.9 .7-1.3 .6 .6zM609.7 1820.3l0-.4zM610.0 1823.8l-.9-1.6 .9-.6zM613.7 1831.8l0-.6 .7 .3 0-1 -1.4-1.4zM665.0 1832.3l0-.4zM613.7 1834.6l0-.4zM615.0 1839.2l0-.4zM665.7 1842.5l-.6-.3 .6-.6zM613.7 1844.5l0-.4zM611.7 1844.8l0-.4zM611.4 1845.1l0-.4zM611.0 1845.5l0-.5zM665.7 1846.1l0-.9zM666.0 1847.0l-.3-.8 .6 .3zM666.7 1847.3l-.5-.1 .5-.6zM612.0 1847.5l-.3-.4zM610.0 1850.1l-.4-.3 .1-1.2 .6 1.2zM610.7 1850.1l0-.5zM609.0 1855.1l-.2-1.3 .9-.2 .3 .9zM666.4 1854.5l0-.6zM611.4 1859.5l.7-.7 -.4-.3zM665.7 1858.8l0-.6zM666.4 1873.5l0-.5zM610.7 1875.1l0-.4zM668.7 1878.8l0-.6zM665.0 1883.5l0-.6zM664.1 1884.8l-.1-.3zM664.7 1885.8l0-.3zM668.0 1917.1l0-.5zM668.0 1917.8l0-.6zM609.4 1919.2l.3-.4 -.3-.3zM667.4 1926.2l-.4-2.4 -.2 1.4zM668.4 1929.8l0-.4zM668.7 1935.8l0-.4zM668.0 1940.0l0-.4zM667.4 1941.5l.3-.7zM668.7 1942.5l0-.7zM608.0 1942.8l0-.6zM668.7 1943.5l0-.6zM607.7 1959.6l0-.7zM607.7 1978.6l0-1.7zM667.4 1979.2l0-.4zM669.0 1996.1l0-.5zM607.4 2004.1l0-.5zM607.7 2040.1l0-.7zM608.0 2087.6l0-.7zM608.4 2095.1l0-.5zM667.4 2113.3l0-.4zM610.4 2121.8l-.7-1 .3-.6 .6 1zM610.0 2124.1l0-.5zM665.7 2126.6l0-.4zM664.4 2128.8l.3-.3zM663.1 2130.5l.6-1 -1.1 .7zM611.7 2132.5l0-.6zM612.4 2133.0l0-.8zM614.4 2133.8l-.7-.6 .3-.3 .6 .3zM619.0 2136.2l-.3 0zM664.0 2137.1l0-1.2 .4 .6zM664.4 2137.6l0-.7zM621.7 2138.5l-.4-.3zM660.4 2139.8l-1-.3 .3-.6 .7 0zM651.1 2140.8l-.7-.7zM657.4 2141.8l0-1 -.4 .4zM660.0 2142.6l0-.4zM658.1 2143.8l-.1-.3zM650.1 2144.2l-.4-.4zM660.0 2144.3l-.6-.1 .6-.3zM651.4 2145.8l0-.6zM652.7 2146.8l.7-1 -1.1 .4zM639.7 2148.2l0-1 -.7-.7 -.7 1.3zM644.4 2147.5l.6-.3 -.3-.7 -1 1zM653.7 2147.2l0-.4zM634.7 2148.8l-.7 0 -1.3-1.3 .7-.3 1 .7 .6 .6zM651.0 2148.1l-.6-.3 .6-.2zM655.4 2148.1l-.3-.3zM650.7 2149.1l-.3-.3 .6-.6 .3 .3zM654.7 2148.9l0-.3zM646.7 2150.0l-.7 .1 -.3-.6 .9 0zM637.4 2150.1l0-.4zM638.0 2150.5l0-.6z"/><path fill="#DD5129" fill-opacity="0.269" fill-rule="evenodd" d="M628.0 1783.4l0-.4zM628.7 1784.2l-.3-.8 .4 .1zM626.7 1787.9l-1.1-.7 1.4-.8 .7 1.1zM641.4 2148.9l-1.1-.4 .7-1.4 .8 .1 -.1-.6 -.7-.5 -.3 .8 -1-.9 -1.8-.2 -.6-1 1.3-.3 -.6-.9 -1 0 .1 .6 -.7 .7 -2.4-1.2 -.3 .7 -1-.1 .1-.8 -.8-.6 -.6 .7 -.4-1.4 .5-.4 -.1-.7 .4 .1 -1.1-1.9 -.7-.6 -.6 1.2 -1-.9 -1.1 .5 .4-1.4 1-.9 -.3-1.3 -1 1 -.7-1 -1 1.6 -1.7-.5 -3.3 .4 -.8-.6 .4-.6 -1.6-1.3 .2-1.1 -.9-.4 -.4 .4 -1.2-1.4 -2.4-.8 -.1-.8 -.9-.3 .3-1 .8 0 .4-1.7 -.5-.5 -.4 .2 0-1.3 -.5-1 -.4 .1 -1.1-2.8 .5-1.3 -.1-2 -.6 0 0 .7 -.8-.4 1-1 -.5-2.7 .3-5 -.8-1.6 1.2-.4 -1.1-2.3 -.3 .7 -.8-.7 .7-2 -.3-4 .4 .6 0-.9 -.4-1.8 -.6 0 -.5-.9 .7-3 -1-3.3 .6-2.7 -.3-2.7 1-2.3 -.8-4.3 .5-1.4 -1-1.6 -.4-6 .5-.4 0-2.6 -.5-2.7 .4-1 -.2-.5 -.4 .5 -.2-.3 -.1-3.4 .6-4 -.7-7 .8 1.5 -.5-2.1 .5-1.7 -.1-3.3 -.5-1.4 .6-4.6 -.7-2 -.7-6 1.5-22.4 -1.2-6 -.2-13.6 1.7-8.7 -1.6-8.7 1.5-10 -1.3-4.6 1.4-6 -.8-.3 .4-1.5 .7 1.1 -.5-1.3 .5-2.4 -.4-.6 .7-.4 .2-1 -.2-1.5 -.7-.1 .7-1.1 .6 1.3 .1-.6 -1.1-3.6 .9-3 -1-3 1-.4 .6-2.6 -.1-1.5 -.5-.2 .4-1.7 -.6-2.5 -.7-.7 -.3 1.3 -.8-1.4 .6-1.3 .9-.1 .9-1.6 -1.3-2.7 .8-2 -.3-1.3 -.4 0 -.1 1.1 -.4-.4 .8-2.4 -.4-3 .5-1.3 -.2-1.3 .4 0 -.7-1.4 .5-4.3 -.7-2 1.6-2.7 -.7-.2 -.3-2 -.4 .2 -.2-2 1-2.3 -.6-1.7 .2-2.4 .7-.6 .4-2.6 .5 .2 1.6-2.6 -.2-.4 -1 .8 -.4 1.7 .3-2.1 .9-2.3 .9-.7 -1.7-2.4 1.4-.9 .6-2.1 .3 .1 0 1.3 1.5-1.3 -1.4-2.3 -.8 0 -1-1.7 -.6 .1 -.5-.8 -.1-1.3 .7-1.3 -1-1.7 .8-1.3 2-1.7 -.7-1.7 -.8-.6 .9-.7 .1 .7 .9 .2 .2-.9 -.2-.6 -.4 .3 -.3-1.6 -.8-.4 .3-2 .6-1 -1.1-1.4 .8-1 .6-2.4 1-1.2 0-.9 -1 .3 -.1-.4 2.2-2 -.8-.7 1.3-1.1 0 1.1 .9-1 -.6-.3 .3-1.7 -1.8-2.7 .7-.6 -.4-1.4 .9-1.6 -1 0 -.6-2.4 -.6-.6 0-2 -1.1-.4 .5-2.3 -.9-3.3 2.1-1.1 .6-1.7 .7 0 .2-.6 -.5-.5 -.8 .2 -.3-1.7 1.6 0 -.2-.4 -.8 .1 .3-1.3 -.6-.4 1.3-2 -.9-1 3.3-1.6 .6-1.7 .5 .3 1.6-.8 -.3-.5 .9-2 -.6-1.9 -1.5-.8 -.2-1.6 1-.4 .2-.6 -2.1-1 -1.7-1.7 -.1-.7 2 1 0-1 -.6 .5 -.4-.5 2.1-3.4 .7 .4 -1 1 1 1 1.5-.3 -.1-1.7 -2-1 1.2-.8 2 .1 1-1 .4 .5 .7-.1 -.7 .7 1.2 1.3 .8 .5 .3-.6 .7 .4 .2-1 -.9-1.2 -1.4 .2 1.1-.3 .6-1.4 .7 0 .3 .7 1.3-.3 .7-1.7 1.8 2 -.9 .7 .5 .6 1-1.1 2 1 1.3-1 3.7 1.8 -1.4 .5 -1.3-.8 -1.5 1 -.3 1.3 .8 .6 .4-.2 0 1 -1.3 .3 -.2 .7 .4 .8 .9 .2 -.3 1.3 .8 1.2 1.2-.5 .3-1.7 -.6-.7 1.1-1 1 .7 -.6 .7 .2 2.2 1-.4 .4-.9 3.3 0 .3 .5 1.4-.5 -.4-.9 -.3 .4 -.7-.3 -.1-.8 .5-.4 .6 .7 1.4-.6 .3 1.4 1 .2 .3-1.7 1 .9 .4-.6 .6 .9 .7-.3 1.7 1 .9-.8 -.9-.3 .5-.4 -.3-.3 1.8-1.1 .3 .1 -.3 .9 2.4-.3 -1.8 1.7 -.6-.3 -.8 1.3 4.2 2 -3.7-.7 1.7 .7 -.7 2 2 4.7 -.6 .6 .4 1.7 1.5 1.3 -1-.5 -1 .9 .6 1.4 .4-.1 -.3 1.3 .9 0 -.4 2.7 .8 .5 .3 1.2 -1 .4 -.3-.3 -.4 .6 -.6-.3 -.3 .6 .6 .6 .7-.3 .2 2 .4 .6 .4-.3 0 4.4 1.6 1.9 -1.2-.3 .1 2 2.1 2.3 1.1 .4 -.5 .3 1.4 2.4 .1 1.6 .3 .6 .7-.6 .3 1 -1.3 1 -.3 1.4 2.1 5 -.5 1.6 -.8 .7 .2 1.3 -.7 1.7 2 5.7 -.1 1 -1.2 1.6 -.4 2 .7 1.4 -1 4 1 1.3 -.1 1.3 1.3 2.7 -.2 1.3 1.6 3 -1.3 2 .4 1.7 .8-.3 .1-.8 .2 .4 -.5 2.8 -3 3.2 -.2 1 2.7 3 -.4 .4 .4 1.3 -.8 0 .3 .3 -.5 .7 1.2 .3 -.1 2.7 1 1.6 .7 3.1 -.6 2 .7 .6 .3 1.7 0 6.3 -1 3.7 .3 2.3 -.5 2.7 .8 3 -1.6 3.7 .8 3 .9 .3 -1.2 3.3 .5 3 -.2 4 .8 1.4 -.7 1.6 .1 1.4 1.2 2.3 .1 1.8 -.9 .9 1.3 3.6 -.7 5.4 .4 1 -.4 .3 .6 9.3 -1 1.4 0 9.6 -.8 2.4 1 2.6 .2 3.4 1.3 3.3 0 3.7 -.5 0 -.5 1.6 .7 5.7 .3 12.3 -1.2 4.4 .9 7.6 -.1 3 -.8 3.4 .1 3.3 .4 0 -.2 1.7 .7 2 -.1 7.3 -.4 7.7 -.3-1.3 -.6 .9 .6 1.7 -.5 3.7 .6 3.3 -.5-.2 -.1 1.2 .7 1.3 .5 4.7 -.9 3.7 -.1 5.3 -.8 1.3 .4 4 .7-1.5 .3 .5 -1.3 2.7 .5 5.3 -1.4 5.4 .5 1.6 -.4 0 -.8 4 .3 3.4 -1.2 2.6 .4 1 .7 .3 .1 2.7 -.4 .6 -.7-.5 -.3 .6 .7 .9 .3-.3 0 1.4 .8 1.3 -.6 4.4 .8 4 -3.3 6 -.7-.1 -1.3 1.5 -1.7 .3 -.3 .9 2.4 .4 -.4 .6 -2.7 .2 -.6 2.2 .3 .3 -.7-.3 -.8 1 .2 .6 -1.4 .5 -1 1.3 .7 .9 0 1.7 -1.7-1.7 -3.3-.2 -.9 .9 .3 1.3 -.8 1.4 -.3 .4 -.3-.6 -.7 .6 -.1-1.8 -.6-.8 -.8 2.8 .6 0 .1 .7 -1.1 1 .2 .9 .9 .1 -.2 1.1 -.8-.1 .1-.9 -.3 .3 -.7-.7 -1.6-.3 -.3 1.6zM630.1 1788.5l-.3 0zM636.7 1788.9l-.6-.1 .6-.5zM646.0 1790.3l-.7-.8 1.1-1.2 .4 1.2zM630.1 1789.5l-.1-.6 -.6 .3zM647.7 1789.5l-.4-.3zM648.7 1789.9l0-.5zM643.7 1791.2l-1.5-.7 1.8-.9zM650.0 1795.3l-3.2-3.5 .2-.7 .7 .7 .7-1.7 .7 1.1 .9-.1 -.3-1.3 2 1 .7-.3 -1.7 1.8 -.3-.7 -1 .6 -.2 1 .9 1zM622.6 1791.2l1.7-.7 -.6-.6 -1 .3 -.6 1zM633.1 1792.8l.8-1 -1-.3 .5-1.5 -1.3 1.2 0 1.6zM647.4 1790.6l-.4-.5zM653.0 1790.3l-.4-.1zM646.4 1791.9l0-.5zM637.4 1792.6l0-.5zM621.4 1792.6l-1.1-.1zM631.9 1793.2l-.2-.5 -.3 .5zM636.7 1793.3l.3-.5zM642.4 1793.3l0-.5zM637.7 1794.9l-.9-1.1 .6-.7zM647.7 1793.5l-.3-.4zM654.0 1793.9l0-.5zM624.3 1794.8l-1.6-1.2 -.5 .6 1.2 .8zM620.6 1796.5l.1-1.9 -1.3-.3 -.3 1.9zM651.0 1794.9l-.4-.4 .5 0zM624.9 1795.8l.1-.4 -.4 .4zM631.6 1796.8l-.9-1.1 -.9 1.1zM639.7 1796.3l0-.5zM638.5 1796.5l-.1-.6 -.3 .6zM640.4 1796.6l-.5-.1zM619.8 1797.2l-.4 0zM626.8 1797.5l-.4-.6 -.6 .6zM654.0 1797.6l0-.5zM642.9 1797.5l-.3 0zM646.6 1799.8l.4-.7 1.4-.2 -.1-.7 .6-.4 -.9-.5 -1.6 0 -.5 1.9 .5 .9zM645.5 1797.8l-.4 0zM623.6 1798.2l-1.8 0zM644.6 1799.8l.3-1 -.5-.9 -1.3 .9 0 1zM660.0 1798.2l-.4 0zM650.9 1799.8l1-1 -.5-.4 -1.7 .4 0 1.3zM629.1 1798.8l-.3 0zM639.6 1798.8l-.4 0zM652.9 1800.2l.4-.4 -.6-.4 -.3 .4zM654.3 1799.5l-.4 0zM652.3 1799.8l-.5 0zM635.1 1800.5l.3-.6 -.6 .6zM621.3 1800.5l-.5 0zM650.3 1800.5l-1.2 0zM633.8 1802.5l.5-.3 -.3-.5zM651.8 1803.5l0-1 -.8-.2 -.2 .2zM619.7 1803.9l-.3-1.1zM656.6 1805.5l-.4 0zM619.3 1808.2l-.3-.6 -.2 .6zM616.0 1808.9l-.4-.1zM656.3 1810.5l-.3-1.2 -.9-.1 0 1.3zM658.7 1812.3l-.7-.9 1 0zM656.6 1812.8l-.2 .3zM615.6 1815.8l-.5 0zM612.4 1817.6l.3-.8zM633.3 1819.5l-.9 0zM627.5 1819.8l-.4 0zM656.8 1821.5l-.4-.9 -.5 .6 .5 .6zM612.7 1827.6l0-.8zM612.7 1829.3l-.4-.1 .4-1.2zM662.8 1837.2l-.1-.9 -.3 .9zM618.5 1838.8l-.7 0zM617.5 1839.5l-.4 0zM663.3 1841.2l-.7-.4 .1 .5zM663.1 1841.8l-.3 0zM613.0 1846.3l0-.5zM611.0 1847.5l0-.4zM663.5 1853.5l-.5-.6zM612.6 1861.8l.5-.3 -.7-.4 -.2 .7zM611.8 1864.5l-.1-.8 -.3 .8zM664.7 1866.3l.3-.5zM613.0 1870.3l0-.5zM612.4 1880.8l.9-1.3 -.3-.6 -.9 .9zM666.0 1890.2l0-.6zM666.4 1891.6l0-.5zM667.0 1893.9l0-.5zM666.4 1915.5l0-.5zM610.1 1921.8l-.1-1.5 -.6 1.2zM609.4 1929.2l0-.4zM608.7 1943.6l0-.5zM668.7 1948.6l-.7-1.5zM608.0 1949.7l0-.4zM668.8 2012.5l.2-1.6 -.3 1.9zM666.8 2089.5l-.1-.6zM609.0 2098.9l0-.5zM609.4 2102.3l0-.5zM665.9 2110.2l-.3 0zM666.4 2111.9l0-.5zM666.4 2125.2l0-.4zM612.0 2127.5l0-1.1 .4 .8zM614.8 2126.8l-.1-.4 -.3 .4zM613.4 2128.2l-.4-.4zM612.7 2130.2l0-.4zM615.3 2130.8l-.3-.5 -.4 .5zM662.7 2132.2l-.7-.4 .7 0zM620.8 2132.8l-.7 0zM624.6 2135.2l1-1 -1.2-.8 -1 1.4zM619.6 2133.8l-.5 0zM623.1 2136.2l-.7-2.3 -1.4-.3 -1.6 .9 1 1.3zM656.3 2135.5l0-.7 -.9-.2zM623.1 2135.2l-.3 0zM626.3 2135.8l-.3-.5 -.2 .5zM625.3 2136.2l.3-.4 -.8 0zM655.1 2136.5l-.7-.3zM619.0 2137.5l-1-.3 1.8 0zM635.9 2138.5l-.8-.3zM650.3 2138.5l-.4 0zM657.7 2139.9l-.3-.5zM648.8 2140.2l-.1-.7zM629.4 2140.9l-.4-.5zM655.4 2143.5l-1.5 0 1.5-1.7 .6-.2 .9 .9zM653.4 2144.9l-1.4-.4 .7-.1 .3-.6 .6 .4z"/><path fill="#DD5129" fill-opacity="0.324" fill-rule="evenodd" d="M630.4 1791.4l-.5-.6 .5-.5zM629.0 1793.9l.2-1.1 .5-.2 -.1 .9zM626.7 1794.4l0-.6zM631.0 1795.2l-3.3 0 .3-.9 1 0 .7-.8 1.8 1zM626.0 1794.6l-.5-.1zM624.4 1797.4l-.7-.6 .6 0zM622.0 1797.3l-.9-.1zM650.0 1797.9l-1-.6 1-.3 .6 .5zM652.7 1798.6l-.6-.8 1 .4zM644.4 2144.2l-.8 0 .1-.7 -1.3-1.8 -1.6 .8 .3-1.7 -1 0 .3-.5 -1.4 .6 -.6-.4 2-.4 2-1.8 .3-1 .4 .2 -.3-2 -.8-.4 -1 .6 .5-1.2 -.8-.6 -1.7 .1 -2 1.3 -1.3 0 0 .4 1-.4 0 .8 -1 .6 -1.7 0 -.6 1.7 -1.4 .3 .4-1.5 -.6-.7 -4.7-1.7 -.7-1.9 -1.7 .3 -2.7-.4 -2.3-1.4 -1.3-.2 -2-1.8 -.6 .1 .6-.9 .3 .2 -.1-.6 -.6-.7 -.4 .3 0-1 -1.4-1.6 .3-.4 -.9 0 .8-.8 .3 .2 -.1-1 -.8-1.7 -.9-.7 .5-1.3 -.7-1.7 -.7-.3 -.4-2 .4-1.9 1.4-1 .3 .6 .1-.4 -.8-1.4 -1 1.1 -.1-2.3 .6-1 -1.2-3.7 -.7-.7 .2-1.6 1.1-1.4 -.2-1.3 -1.1-1.3 -.5-1.4 .3-.3 -.7 .2 -.4-.9 .1-.4 1-.2 -.6-4.4 -.4 .1 -.4-1.7 .8-.7 .2-1.7 -.5-1.3 .9-3 -.4-1.8 -.3 .5 .5-6.4 -.7-1 -.8-3.6 .4-4 .8-1 0-1.4 -.8-.6 -1-3 .5-1.4 -.3-2 .7-1.6 -.9-3 1-3 -.5-5.4 .4-2.6 -.1-6 -1.5-4.7 -.1-2.7 .4-2.6 -.2-3.7 1.5-8 -.6-1 .5-7.7 -1-4.3 -.1-10.3 -.5-2.7 .9-2.7 0-4 .9-3.3 -.1-2.3 -.6-1 -.9-4.7 1.5-10 -.7-3.3 .4-.6 .2 .9 .3-.3 -.7-5.4 1.1-3 -.4-3.6 1.6-4.7 -1-2.7 .6-.6 -.2-4.7 1.2-.7 -1.1-1 .8-2.3 -.6-2.3 .1-2 1.1-2.7 -1-2.7 .4-4 -.5-1 .5-2.3 -1.1 .1 .5-1.8 -.8-1.3 .8-4.3 -.6-4.4 .8-2 -.2-2 .5-2.3 0-.4 -.3 .7 -.8-.6 .7-2 -.7-1.4 .3-3 .5-.3 0-3.7 3.4-3 1-1.6 -.3-.7 .7-.7 -1.1 .3 -.7 1 -.7 0 -.4-.9 1.5-2.4 2-1 -.3-1.3 -.9-.7 .9-1 -.1-1 -1.6-4.6 -1-1.4 2.6-3.6 -1.2-1 .4-1 -1.2-1 2-1 -1.2-1 .5-.6 .4 .4 .1-.8 -.7-2.7 -.7-.3 0-1.7 2.5-.3 .5-1.4 -.6-.6 .9-.1 .1-1.6 .6 0 -1.1-1.7 -.4 .4 .4 .9 -2 0 -.4-.6 .4-2 1.1-1 1 0 .3-.9 .5 .6 -.3 .3 .5 0 .3-1.6 1.3 .7 -.2-.4 .7-1.4 .9-.3 0-1.3 -.4 .2 -.3-.6 1.1-.3 -.1-.8 -.7 .7 -2-.7 0-.4 .7-.1 -.9-1 .2-.6 -1 1.3 -.5-.4 .5-.8 -.7 .4 -1.1-.6 .5-.5 .6 .3 1.4-.8 1-1.7 -.7-.6 .3-1.1 -.9-.6 .6-.7 .1-1.3 1.6 .2 2-1.2 -.7-.4 -3 1 -3.3-.4 -.6-.5 .2-1.1 -.6 1 -.7-.7 .8-.2 -.9-1.7 2.8-1.3 -.9 0 2.2-2.5 1.8 .8 0-1.7 1.2-1.2 3.7 2 -2.3-2.4 -1.4 .2 -1.6-.9 1.4-1 .1-2.7 .4-.2 .4 .9 .4 0 .2-1.2 1.6 .9 .8 2.3 1.2 1.3 -.4 1 1.3 1.4 -.3 1.6 .5 1.4 1.7 0 .1-1.7 -.8-.7 .1-1 .6-.5 1 .3 .3-1.3 1.3 .9 .2-.7 -1.2-1.8 -.7 .5 .3 1 -.6 .5 -1-1.6 0-1.1 -1.6-1.3 -.8 .1 -1.8-2 .1-1.3 -1.5-.2 -2-1.8 .6-.4 1.4 .8 .6-.9 0-.6 -.3 .7 -.6-.3 0-1.3 1.6-.9 0 .6 .5-.4 -1-2 .9-.3 0-.7 1.4-.3 -.1-2.4 .9 .4 .1 1.1 1.3-.3 .3 .5 .1 1 -.7 .3 .1 .7 -.8 1.7 .3 1.1 1.5-.8 -.8-1.2 .7 0 .3-.6 1.8 .2 -.6-1 .5-.6 1.6 1 -.2-.4 .8 0 0 .6 .8 .4 1.6-.2 1-1.1 .6 .9 -1 .7 .3 .7 1.5 2.1 1 .3 .1-.8 -.7-.3 .5-.7 -.7-.6 1.1-1.7 0-1 -2.3-1.7 .3-.4 2 1.3 .7-.1 1.2 1.2 -1 1 .4 .8 .7-.5 1.5 1.1 -.3 .3 1 .3 -.6 .4 .6 .3 -.3 .3 -.9 .1 -.3 .8 -.5-.2 .1 1.1 .7-1 .7 .2 .6-1.3 1.7 .9 1.3-.1 -.5-.5 1.1-.3 1.1-2.1 1.3 1.1 3.4 .3 0 2.5 -.7-.6 .2 .5 -.5 .4 -.4-.9 -.3 .2 -1-.8 -.5 .7 .8 1.4 1.1 0 .1 1.3 .8 .8 .5-.8 -.4-1.3 .7 .3 .7 2 -.9 .3 1.4 .5 .2 .9 .7 .3 -1.9 0 .2 1 1.8 .5 .7-.4 1.4 .9 -.1 .8 -1 1 .1-1.8 -.4 .6 -1-.3 -1 .6 -.2 1.1 2 .7 -3.8 1.9 .5 1.4 -.7 2.7 .1 .6 1.1 .3 3-.2 1-.6 .4 .2 -.4 .6 .7-.2 .3 .6 -2 1.8 -1.7 .4 -1.6-.3 -.5 .8 1.1-.6 1.8 .2 -.6 .7 .4 .7 -2.1 .3 .7 1 -1 .3 .5 .5 3.3-.4 1.6-1.4 -.6 1.3 .6 .4 -.4 1.3 .5 .5 .7-.7 .4 .9 -.8 .9 -1.6-1.5 -1.2 .9 1.5 .1 0 1 .5-.1 .5 1.3 1.3 .8 0-.6 1 0 -.1 .8 1.2 1.7 -.6 .7 .1 1 1.5 3 -.1 .5 -.8-.2 -.5 1.5 1 .9 1-.9 .3 .8 .4-.2 .4 .6 -1.3 2 .7 .6 -.9 2.4 .5 1.3 -.9 1 .4 1.3 -.7 1 0 1 1 .7 -1.9 .9 -.4 1.1 1.4 .9 1.3-1.2 .3 .3 -2 2.7 1.1 1.1 .6-.3 -.7 2.8 .9 3.7 -.7 .3 1 2.7 .9 1.1 .3-.4 .8 1.6 -.7 3.7 -1.8 2 -.5 2.3 1.1 .4 -.9 1.3 -.1 1.7 2.3 2.6 -.6 2.4 .5 2.3 .7 .7 .1 2.3 .4 .4 .7-.4 0 5 .3 1.5 .4-.5 .3 3 -.7 1.3 -.3-.7 -.1 .4 .1 2.1 1 0 0 1.2 -.6 .4 .1 1.6 -.5 .7 .3 .7 -.3 1.3 -.9 1 -.3 2 .9 .5 0 2.1 .3-.4 .4 .5 -1.4 2.5 .6 .1 -.1 .7 -.5 .2 -.6 1.8 .7 1 -.2 2.7 .8 2 -.3 1.3 .7 2.3 -.5 3.4 .5 3 -.2 1 -.6 0 2 4 -.8 0 .2 3.6 -.5 1 .5-.6 .3 .6 .1 2 -.6 0 .9 1.4 -.6 5.6 .7 3.4 -.4 3.6 -.8-.3 .5 7.7 -1 1 .6 .6 .2 2 -1 2.7 .6 2 -.2 1.8 .7 .2 .6 4.3 1.1 2.4 -1.3 0 .6 .6 -.8 2.4 .8 2 .4 5.3 .2 8 -1.4 4 .4 7 .8 5.3 -.9 9.4 1.2 5 -.1 .4 -.5-.1 .2 7.3 -1.3 6 .7 3.4 -1 4.3 .6 .3 0 2.4 .9 4.6 -.5 3.7 -1.6 2.7 1.1 0 0 2 -.2 .9 -.4-.4 -.6 .5 .7 1.6 -.6 3 .6 2 0 2.7 -1.1 2.3 -.1 1.7 .7 1 -.6 7.7 -.9 4 -.4-.1 -.1 .7 .8-.5 .1 .5 -1.9 5 1 1 -.6 .3 -.1 .7 2.2 4.7 -.8 3.3 .3 2.4 .8 1.6 -.4 .6 -1-1 -.3 .3 -.2 1.1 .8 0 -.9 .9 -.4-.2 0 1 -.6 .5 -.7-.7 -1.8 .5 .7 .4 -.6 .3 .4 .1 1 0 .3-.6 .4 .5 -.4 .9 -4 .7 -.1 .7 .8 .5 1.5-.1 -.9 .7 -1-.1 .6 .4 -1.2 1.2 -.7-.7 -.3 .4 0 .5 .8 .2 -1.6 .7 .4-.2 .4 .8 -3.4 .1 -1.6-.7 -.8 1 .4 .7 -1 1.2 -.3-1.1 -.7-.3 -1 .7 -.3-.8 -.7 .2 .4 2 -1 0 -.8-1.6 -.6-.1 .6 .8 -.1 .6 -1.5 .9 -.3-.2 1.7 1.4 1.3-.3 .6 1.2 -.3 .6 -.6 0 -.7-1 -1.3 .2 -.7-1.3 -.3 .6 -.7-.2 -.2 1.5 1 1.3 -.4 .7 .7 1.6zM642.0 1800.4l-.3-.5 -.8 .3 1.1-1.3 .4 .3zM636.4 1800.4l0-.4zM648.4 1800.2l-.4 .2 0-.4zM628.4 1800.7l0-.4zM635.4 1802.1l-.3-.6 1.1-1 0 1zM640.7 1801.1l0-.7zM654.4 1800.9l0-.5zM644.7 1801.3l-.5-.1 .8-.6zM652.4 1801.2l0-.5zM642.7 1802.2l-1-.1 -.3-.8 1.2-.1 -.2 .3 .8 .3zM645.4 1801.4l0-.4zM646.4 1801.4l-.4-.3zM647.0 1803.1l-1.2-.3 -.1-1.2 1.7 .3 0-.7 .6 .3zM652.7 1801.7l0-.4zM629.4 1802.7l-1.3-.2 .6-.5zM650.0 1802.3l-.3-.3zM653.0 1803.7l-.3-1.7 .5 .5zM639.1 1803.8l-.1-.4zM644.7 1803.7l0-.4zM652.4 1804.1l0-.7zM632.4 1804.8l.3-.7zM644.4 1804.4l-.4-.3zM627.7 1804.6l-.3-.3zM640.4 1804.5l-.5 0zM634.8 1806.5l.1-1.3 -1.9-.3 -.2 .9zM641.2 1804.8l-.4 0zM627.4 1805.4l-.6-.2zM643.7 1805.7l-.6-.2 .6-.4zM644.4 1806.1l0-.8 1.2 .2zM651.7 1805.8l-.7-.3zM629.2 1813.5l.9-.7 .1-1 -.4-.3 1 0 .9-1.8 .7-.4 .6 .8 1-.2 1.7-.6 .7-1.2 -1 0 -.6-.3 .3-.3 -.4 .2 -1.3-1 -1 .4 -1-1.2 -1.4 .6 -.3 1.1 -1.1-.8 .1-.5 .5 .2 -.2-.7 -1 .8 -.6-.3 0 .8 -2-.7 -.5 1.8 -.5-.5 -.5 .5 1.5 1.3 .5 0 .1-.5 .9 1.2 -.2 .4 1 0 .7-.6 .4 1.2 .3-.7 -1-2 .6-.5 .1 1.2 .6 .4 .6-.3 -.1 .5 1 .7 -1.5 .6 -1 1.3 -1.5-.6 .1-.4 -.6 .3 .6 1 .7 .2 .3-.6 .2 .9zM638.0 1806.4l0-.4zM655.0 1806.9l-1-.6 1 .1zM647.7 1806.8l-.4 0zM622.0 1807.4l0-.4zM626.4 1807.4l0-.4zM626.4 1809.1l-.7-.9 1.3-.9 .2 .9zM643.1 1808.8l.3-1.4 -.8 .8zM628.0 1808.4l-.3-.8 .5 .2zM638.7 1808.5l.3-.8 -1.1 .8zM645.7 1810.2l0-2 -.7-.4zM652.0 1808.1l0-.5zM640.7 1809.2l0-.9zM621.4 1809.0l0-.4zM621.4 1811.3l-2-1.1 2.6-.9 -.5 .5 .4 .4zM622.7 1809.7l0-.4zM644.4 1810.5l-.7-1.1 -.1 .4zM622.7 1810.4l0-.4zM635.5 1812.5l-.1-1 -.7-.2 -1.1 .9zM632.1 1812.5l-.4-.7 -.3 .8zM638.7 1812.8l.4-1 -.4-.1 -.4 1.1zM655.0 1813.3l0-.7zM655.4 1813.7l0-.4zM626.4 1814.7l0-.4zM631.7 1823.5l1.5-2 .9-.3 .5-.7 -.7-.7 .3-.6 1.4-1 -.5-2.4 -1-.3 .3-.4 -.7 0 -.7 .7 -.4 .7 .5 .3 -1 .7 -1.1 2 -1.3 .2 .2 1.5 .7 .3 -.1 1.3zM626.0 1816.1l0-.8zM629.2 1815.8l-.4 0zM626.4 1816.6l-.6-.1 .6-.5zM637.8 1818.5l.7-.3 -.1-.6 1 .3 .4-.7 -.9-.4 -1.3 1zM630.1 1818.5l.3-1 -.4-.4zM655.0 1818.1l0-.5zM621.5 1818.5l-.5-.5 -.8 .2zM630.9 1818.5l.1-.4 -.5 .4zM619.4 1818.7l0-.4zM616.0 1820.1l-.4-.3 .4-.3zM617.1 1820.8l.6-.3 -.3-.6 -.8 .6zM640.1 1822.2l0-1.7 -.7-.4 -3.9 1.1zM629.5 1824.8l.4-2 -1.2-.5 -.6 1.5 1.3 .4zM650.2 1823.8l.9-.3 -.7-1.1 -.9 .8zM640.6 1823.5l-.9-.7 -1.1 0zM624.1 1823.5l.3-.3zM648.0 1824.8l-.6-1.1 -.1 .8zM617.5 1824.8l-1.6-.3 .1 .4zM626.8 1826.2l1-.7 -.1-1.1 -1.2 .8 -.2 1zM646.4 1826.5l0-.7 -.7 .3zM644.4 1829.2l.7-1.4 -2.1-1.7zM625.8 1828.8l.8-1.6 -.9-.6 -.7 2.2zM623.4 1827.8l.3-.7 -.7 .7zM644.0 1827.7l0-.4zM625.4 1829.5l-.4 0zM653.4 1830.1l0-.5zM659.4 1830.2l-.6-.4 .6 0zM618.0 1830.7l-1-.4zM621.5 1833.5l-.1-.8 -1.8-.2 .4 1.1zM623.1 1833.2l.3-.8zM620.8 1835.5l.3-.3 -.5 0zM622.1 1835.2l-.5 0zM620.4 1837.7l0-.4zM662.0 1839.1l-.4-.3 .1-.5zM619.0 1840.1l0-.5zM616.5 1843.2l-.1-.4 -.6 .4zM662.4 1843.7l-.4-.7zM614.7 1845.4l0-.4zM616.0 1845.4l0-.4zM614.4 1845.7l0-.4zM662.4 1845.5l-.5 0zM614.4 1847.1l0-.5zM614.4 1848.1l-.6-.3 .6-.5zM661.4 1849.2l-.5-.7 0 .7zM614.7 1854.7l-.8-.5 1.1-.6 .2 .6zM612.7 1860.2l-.4-.4zM663.0 1861.7l0-.4zM664.4 1880.6l0-1zM663.4 1880.9l0-.6zM609.4 1891.9l0-1.5zM666.5 1899.2l-.1-1.1zM667.4 1907.4l0-.4zM666.7 1908.5l0-.4zM610.4 1916.1l0-.5zM611.0 1922.1l0-1.1zM611.0 1932.1l0-.5zM608.7 1955.1l0-.5zM608.4 1956.7l0-.4zM608.7 2014.7l0-.4zM610.1 2048.8l-.4-.4zM608.0 2060.4l0-.4zM667.4 2090.4l0-.7zM667.0 2091.9l-.6-1.1 .6-.5zM609.7 2096.4l0-.4zM664.7 2109.4l0-.4zM664.9 2115.8l-.2-.4zM665.7 2122.2l-.3-.5zM665.0 2123.1l0-.5zM665.4 2123.7l0-.4zM613.4 2124.6l-.4-1 .6 .6zM664.0 2125.4l0-.5zM663.7 2126.4l0-.4zM616.0 2128.7l0-.4zM649.8 2133.2l1.7-1.4 -.5-.5 -1 .1 -1 .7 -.2-1.6 .9 .1 .3-.4 -1.6-1.1 -1.3 .4 .3 .9 -2.1 1.4 .4 1.2 2.3 .2 1-.9 -.1 .5zM630.2 2134.8l.2-.7 -.4 .3 -.3-.7 -1.7-.4 0 .8 1.7 .2 -.2 .5zM641.0 2133.5l-.4 0zM627.1 2133.8l-.3 0zM628.1 2134.5l-.5 0zM650.4 2135.9l-1.2-.4 .8-1.2 .6 .9zM632.1 2135.8l1.1-.6 -.8-.4 -.9 .4 -.1 .4zM629.4 2136.9l0-.6zM648.4 2138.3l-.3-.5 .6-.2zM652.7 2138.7l-.6-.2zM639.0 2140.1l-.4-.3 .4-.5zM634.4 2141.4l-1-.6 .3-.8 .8 .5zM635.7 2140.9l-.6-.1zM633.0 2142.3l-.6-.5zM643.4 2143.7l0-.4zM641.0 2145.4l0-.7zM641.7 2145.1l0-.5zM645.0 2145.1l-.3-.5z"/><path fill="#DD5129" fill-opacity="0.391" fill-rule="evenodd" d="M626.0 1804.8l-.6 0 -.4-1 1-.8zM631.7 1803.8l-.4 0zM635.7 1805.2l0-.4zM630.0 1805.2l-.7 0zM630.7 1805.5l-.5 0zM624.4 1805.8l-.5 0zM649.4 1810.2l.6-1 .2 .6zM637.0 1815.8l-.6-.3 -.4 .3 -.8-1.3 0-1 1.1-.3 .6-2 -.9-.9 -1-.1 2.7-.9 1.3 .5 -1.8 1 .2 2.7 .6 0 .2 .7 -.8 .8 -.9-.8 .5-.4 -.3-.3 -1 1 .7-.2 0 .5 .8 .4zM633.7 2135.2l0-.7 -.8-.7 1-1 -.1-1 -1.1-.7 -1 .1 0-.9 -.7 .7 -.6-.2 -1.7 1.7 -1 .1 -.8-.8 .4-.6 -1.3-.7 -4 .2 -.6-1.3 -1.7 .9 -.4-.1 .7-.4 -.6-.1 -1.5 .5 -.4-.7 1.2-1.3 .3 .8 1.5-.5 -4.5-2 -.8-1 .5-3.3 -.4-2.4 -2.1-2.6 .1-.7 .4 .3 1-1.3 .6 0 -.8-.7 1.3-.3 -.8-2.1 -.3 .4 -.7-.6 -.7-1.7 .4-1.3 -.7-.4 -1.1-3 .1-1 -.7-.6 0-.7 .7 0 .4-1 -.2-2.3 .5-.4 -.8-1.3 -.7 0 .2-1.7 -.8-2 .7-1.3 -.5-1 .9-1.7 -.3-1 -.4 .5 0-.5 -1-.3 .7-2.3 -.5-.7 .7-4 -.1-1.3 -.5 0 .4-4.4 -1.4-6 1.3-6.3 -1.2-1.2 -1.1-2.1 .6-.4 .1-1.4 .7 .4 .4-.6 -1.1-4.7 .4-1.3 -.5-1.4 .5-1.6 1.3-1.7 -1.6-2 -.1-1 .3-.7 -.3-1 1.2-2.6 -1.2-5.4 .4-1 -1.4-3.3 -.4-2.7 1-9.3 .5-.3 -.3-1.4 .9-2 .2-4.3 -.2-3.7 -1.1-4.3 -.1-2.7 .4-.3 -1-4 .6-8 -.5-.3 .9-1.7 -.3-3.3 .9-4.4 -1.5-8.3 1.1-2.3 -.7 .8 .9-10.2 .7-2.3 -1-4.7 1-2.3 -.4-3.7 1.9-6 -.6-.6 .6-1.7 -.5-.3 0-1.4 .8-.6 -.6-1.4 .5-2.6 -.4-.7 .8-.7 -.7 0 -.5-5.3 1.4-3.3 -1.1-2.4 2-4.3 -1.2-1.3 0 1 -.3-.4 .1-1.6 -.9-2.4 .3-2 .5-.3 -.7-.7 -.7 1 .7-1.6 0-4 .7-1.7 .4 0 -.8-2 .5-2 -.6-1.3 .8-3.4 -.3-2.6 -.3-.5 -.4 1.1 -.4-1.6 .6-.4 0-4.3 4.7-4 -.3-.3 2.1-2.4 -2.8-1.3 3.1-.9 .9-.8 -.9-1 .5-.3 -.9-.7 .6-.3 -.8 0 -1.4-1.7 -.5-4 -.5-.6 1-.4 -1-.3 -.2-1 .8-2 1.9-1.7 -1.5-1 -.3 .4 1.5-1.4 -1.2-.6 1-.5 .7 .3 1-.8 .1-.7 -1.1-1 -.7-1.7 .7 .2 .3-.8 .4 .5 .6-.9 -3.3-1 3.8-4.6 -1.2-2.7 -.8-.7 1.5-1.6 1.7 .3 1.8-.7 0-.6 -.9-1 .4-2 .9-.7 0-2.3 .8-.4 2.2-2.6 .8-2.7 .3 .7 1.1-1 -.7-1.4 2.3-1.3 .3 2.7 -.6 1.3 1-.7 0-2 .6-.5 .4 .7 .8-.5 -.5-1.3 -1 .3 -.4-1.7 1.7 0 1.5-1 .9-1.3 1.6 .7 0 .6 4 1.7 1.2 0 .6-5 -.9-1.3 .4-.7 -1-1 1.1 0 .3-.7 -.4-.6 1-2 -.9-1.9 -1.2-.1 .8-1.4 .4 .9 .6 .2 .7-.4 1 1.6 1.7-.4 .3 .3 3-1.8 .7 .6 .3 .7 -.7 .3 0 .7 -1 .2 0 .8 -2.3 1.7 .7 .6 1.3-.4 1-1.2 1 .3 -.5-.3 .5-.4 .7 .7 2-.5 1.6 .5 -1.3 .3 0 .7 -1-.8 -1.3 .3 -.4-.5 0 1 2.4 .7 .3 1 -1.7-.5 -1 .5 1 .6 -.3 2.2 -1.7-2 -1.1 .8 .1 1.7 1-.3 -1 2 .4 .6 -.7-.7 -1.7 .1 0 .5 -1 .5 1 .3 -1.6 .8 -.4 .9 -2-.9 .4 3.4 -.4 .1 .3-.6 -.6-.5 -1 .1 -.3 1.4 -1-.2 -.7 1.3 -1.4-.1 0-.7 -.6-.4 -.9 1.1 .2 1.3 2 .3 .7-.6 .9 .3 -1.2 .7 .6 .3 -1.6 .3 1.4 .7 .6 .8 1.3-1.5 -1-.6 .8-1 .2-1.7 1 2 .8-.7 -.5-.6 1-.5 .4 .8 1.2 .7 -.7 1.3 .8 .3 .7-2.1 1 1.1 2-1.3 -.1-1.3 -.8 0 -.1 .6 -.7-.6 .3-1.4 .7 .6 .3-.6 .4 1 .6-.4 2.1 .8 -.4 .6 -.3-.6 -.6 .3 -.7 2 .6 .3 -1 .7 -1-.1 -.3-.6 -1 .4 -.2 1 .6 .6 -.4 1 1.6 1.4 .5-.7 -.5-1.3 1.7 0 2.3-1.2 1.7-.1 -.5-.4 .8 0 0-.7 2-.5 .7 .5 -2.2 1 -.1 1.4 2.3 1.2 2.3 2.4 .7 0 -.3 .4 .8 3.3 -.5 .8 -1.3-.2 -.9 .4 1.2 1.1 1.3-.4 -.1 4 1.9 .3 -.1 1 -.7-.3 -.3 .5 -1 0 -.7 .8 .4 1 1 .3 0 .5 .6-.1 -.9 2.3 .1 2 .6 .7 -1.2 3 .6 2.3 1.5 2.3 -.6 1.4 .7 2.3 -1.6 0 .6 .3 -.6 1.4 1.2 1.3 -.7 .3 -.3-.3 -.8 1 .8 0 .3 .9 1 .5 1.4-.1 .5 2 -.2 .5 -.6-.1 -.1 1.3 .5 0 .5-1 .7-.3 .2 .3 -.9 3 -2 2.7 .3 3 -.7 1 1.4 2.3 .7 0 -.7 .7 1.4 1 -.7 .9 -.6-.3 -.1 1 .7 .7 -.5 .3 .3 2.7 1.5 1.3 .5 1.7 -.8 1.7 2 2 -.1 3.3 -1.3 1.7 1.7 4.3 -.7 4.3 -.4 0 -.8 2 .8 2.7 -.8 1.3 .2 1.7 -.8 .3 1.3 5 -.3 2.4 .6 1 -.5 .6 1.1 3 -1.2 2.4 1.2 2.3 -.8 2.3 .5 2 -.5 .7 .6 2.3 .5 .4 -1.1 4.3 2.1 3.7 -.7 1.3 -.1 2 .8 6.3 -1.1 2.4 .2 6.3 -.8-.1 -.2 .4 .9 2.4 -1.5 3 .8 1.6 -.9 2 .3 .8 .6-.4 0 2 1.1 1 0 2.3 -.7 .5 -.3 1.2 .2 1.6 1.5 3.7 .7 6.3 -.5 2 .7 3.7 -1.7 6.7 .7 3 -.4 2.3 .9 2.7 -.3 1.6 .6 3 -.5 2.4 -1.1 2 .8-.5 .3 7.1 -.4 2.4 .8 3 0 2 -.9 1.3 .5 2 -.4 1 .4 .3 -1 2.7 .2 2.7 -.6 1.3 .8 .7 0 .6 -.5 0 .3 .7 -.7 2.3 .9 2.4 -.4 2 .5 .6 -.1 4.4 .4 1.3 -2.3 5.3 1.2 3.4 -.8 3 .9 3.6 -1.9 5.4 .3 3 .5 .3 -.6 6.7 -2.4 3.3 1.1 2.3 -1.4 2.7 2 3 .4 1.7 -.8-1 -1.3 1.6 1.8 2.4 -1.7-.4 .9 .7 -.2 2 -.8 .3 -2 3 .3 1 1.4-.3 0 .7 -3.7 1.6 -.6 .7 .3 1 -2 .7 -1.4 2.1 -1.6 .2 0 1.2 -3.1-.9 .3-1 -1.2-1.4 -1-.8 -.4 .6 -1.3-.8 -1 1.3 -.8 .1 .8 .4 .3-.5 .2 .5 -.5 .3 -1.3 0 .3 .7 -1-1.1 -.7 .7 1.2 .7 -.8 1.2 -1-.4 -.4 .9 -1-.2 -3.6 2.2 .3-1.5 -2.7 .3 .4 .5 -1.7 1zM625.4 1811.3l.4-.8zM632.7 1811.5l-.4 0 .7-.3zM652.4 1812.6l-1-.9 -1.1-.2 1.4-.5 1.7 .8zM637.0 1813.2l-.6 0zM624.0 1816.3l-1.3-.6 -.7-1.2 1 1 1-.3 .4 .3 -.7 .3zM629.0 1814.8l0-.4zM641.9 1816.8l-.2-.3zM642.9 1818.8l1.6-1.6 -.1-.6 -1 .2 -.9 1 0 1zM625.4 1819.8l.1-1.3 -.5-.7 1 .4zM636.7 1818.5l0-.3zM646.9 1819.2l-.2-1 -.5 .6zM621.0 1823.8l-.3-.3 .6-1 -2.4-2 4.1 0 0-1.3 1.2 .6 -.5 .7 .6 0 .4-.7 .3 .4 .4 .6 -.7 .9 -1 .5 .4-.7 -.4 0 -1 1 .3 .3 -.3 .4 -.3-.5zM637.0 1819.8l-.3-.3 .3-.1 .4 .1zM649.7 1819.8l-.4 0zM651.0 1821.2l0-1zM623.3 1821.5l-1.3-.3 .4 .5zM629.4 1821.5l-.4 0zM625.7 1822.2l-.5 0 .2-.6zM620.0 1823.5l-.3 0 .3-.3zM622.0 1824.2l0-.5 .7 .1zM625.0 1824.2l0-.4zM626.0 1824.7l-.3-.9 .7 .4zM634.1 1825.2l-.4-1 -.9 .6zM649.4 1827.3l-1-1.3 -.7 .7 -.6-.2 2.6-1.7 .7 1.4zM651.7 1825.2l-.4-.4 .5 0zM625.4 1826.2l-.5 0zM649.9 1826.2l-.2-.4zM650.7 1826.8l.3-.7zM635.2 1829.5l.5-1.3 -.7-1 -1.6-.4 -2 .7 0 1.8 3.3 .5zM650.4 1827.2l-.4 0zM624.4 1831.7l-.7-1.9 .7-2.3zM640.3 1827.5l-.5 0zM631.3 1827.8l-.3-.1 0 .5zM636.2 1828.2l-.5 0zM642.7 1828.2l-.4 0zM652.0 1830.8l-.3 0zM638.0 1831.2l-.8 0zM653.0 1831.2l-.7 0zM632.0 1831.5l-.3-.3zM647.0 1832.5l0-.3zM642.0 1833.5l0-1.2 -1 1.2zM645.0 1833.8l-.6-.5 0 .7zM648.9 1833.8l-.2-.3 0 .7zM653.7 1834.8l-.7 0zM623.8 1835.5l-.1 .3zM644.9 1835.8l.1-.4 -.9 .1 .6 .7zM644.2 1837.2l-.2-.5 -.3 .5zM625.3 1837.5l.1-.7 -.6 .7zM643.7 1837.2l-.3-.3 0 .6zM622.5 1838.2l-.5-.4zM626.5 1838.2l-.9 0zM618.2 1849.5l-.2-.3zM617.5 1850.5l-.3 0zM616.4 1853.5l-.4-.3 .4-.9 .3 .2zM659.7 1855.5l-.3-.9 -.4 .9zM660.3 1856.2l-.5 0zM659.9 1863.2l.1-.8 -.5 .1zM616.0 1863.5l0-.7 -.6 0 .3 1zM614.4 1863.8l0-.3zM616.4 1865.5l-.4 0zM616.2 1866.2l-.2-.4zM617.7 1868.8l-.7-.8 -.3 .8zM612.8 1883.8l-.1-.3 0 .7zM662.2 1886.5l-.4 0zM663.7 1897.2l0-.8 -.4 .8zM665.7 1897.5l0-.3zM610.7 1900.9l-.3-1.4 .8 .7zM610.7 1908.5l0-.3zM664.6 1915.5l-.2-.7 -.4 .7zM613.3 1919.2l-.6 0zM665.5 1934.5l.2-2 -1.1 1 .2 1zM610.7 1935.7l0-1.2 .5 .7zM666.7 1943.8l0-.3zM609.1 1967.5l-.1-.3zM667.8 2021.5l-.1-.3zM608.3 2028.5l-.6 0zM667.9 2044.2l-.2 .3zM610.2 2046.2l-.2 .3zM667.0 2070.8l0-.6 -.4 .6zM612.2 2092.2l-.2-.7 -.3 .7zM665.3 2096.5l-.5 0zM665.1 2097.5l-.1-.7zM664.9 2099.5l-.2 .3zM613.9 2103.2l-.5-.5 -.4 .5zM613.5 2106.5l-.2-1 -.6-.4 .1 1.1zM662.9 2106.8l-.5 0zM614.3 2109.5l-.6 0zM614.7 2109.5l-.3 0zM612.7 2115.5l-.5 0 .5-.7zM665.4 2115.3l-.4-.1zM614.5 2117.8l-.1-.3zM664.0 2122.5l-.8 0 .5-1.2 .7 .5zM616.4 2122.8l0-.3 0 .7zM649.2 2127.8l-.2-.9 -.2 .9zM652.3 2129.8l-.3-1.1 -1 .1 .4 1zM650.8 2129.2l-.1 .3zM623.0 2129.8l-.5 0zM640.4 2130.5l0 .3zM637.5 2132.2l.2-1 -1.9 0 .2 1zM640.5 2131.5l-.5-.7 -.3 .4zM639.7 2131.5l-.5 0zM625.0 2132.6l-1-.4 .7-.4 .7 .4zM654.4 2131.8l-.7 0zM626.4 2132.2l-.4 0zM632.7 2134.2l-1.3-.2 -1.5-1.2 .8-.6 1 .6 -.2 .7zM644.0 2136.3l-.4-.5 .3-1.6 -.5-.2 0 .5 -.7 .2 -1.4-1.5 1.7 .6 .7-.6 -.4-.7 1.2 .3 -.5 .4 0 1.3 .9 .7zM636.7 2133.2l-.4 0zM633.0 2137.2l-.4-.7 .8-.7 .3 .7z"/><path fill="#DD5129" fill-opacity="0.464" fill-rule="evenodd" d="M644.0 1814.6l.4-.6zM648.4 1816.9l-.5-.1 .8-.4zM645.7 1817.7l0-.6zM645.0 1818.2l0-.4zM646.7 1821.2l-1.2-.4 1.2-.1zM635.7 1826.7l0-.8zM642.0 2130.3l-.6 .2 -.4-1.2 -1.6 .4 -1.4-.9 -1.3 .2 .9-1.2 -.6-.6 -1 .7 -2.3-.6 -1.3 .9 -1.4-.4 -.2 1 -.8-.1 -.9 1.1 -.7 .2 -.5-.8 1.6-.7 -.5-.9 -1.6 1.1 -1.4-.8 -1 .4 -1.6-.6 -.4 .6 -1.3-.1 -1-2.5 -1.2-.2 .4-.7 -.5-2 -1-1.4 -2-.6 .3-1 1.2 0 -.7-.3 -.6-2.7 .9-.3 0-1.3 .6 0 .1-1 -2.2-1.3 -.9-1.7 1.3-.8 -1.2-1.6 1.1-1.3 -1-1.3 .3-1.4 -.7-1 .1-.7 -.9-1.9 -.8-.4 -.9-3.6 .3-.7 -.7 0 0-.5 .7-.1 1.2-3.1 -2.6-5 -.4-3 .8-4.6 -.6-2 .4-3 -.6-.4 -.8-2.6 1 0 -.4-.7 .4-1.3 -.4-2.7 .3-3 -.8-2.7 .3-3.3 -.8-2 .5-2 -.3-3.7 1.5-3.6 -1-1.9 0-1 -.5 .2 1-3.7 -.5-2.6 -.7-1 -.5-4.4 0-1.6 .5-.4 -1.1-.6 .2-2.4 -.6-2.6 1.2-3.4 -.2-1.6 1.3-3 -.5-.5 .1-1.9 .7-4.6 -.3-2.7 -.8-.9 -.4-2.4 -.1-1.7 .6-.3 0-1.4 -.9-2.6 -.6-6.4 .3-2.3 1-2 -.6-4 .4-.5 .6 1 .8-1.5 -.1-1.2 -.9 .2 .5-1.7 -1.3-6.6 .8-3.4 -.4-3.6 -.4-.4 1-1 -.7-.3 0-1.3 .8-1 -.6 0 .1-2.7 .8 0 .3-5.3 -.4-3.7 .4-1.3 -.4-.4 0-1.6 1.1-2 -.4 0 0-1 1.1-2.7 -.8 0 1.1-2.7 -.5-.3 1.5-2.7 -.4 .3 -.3-1.8 -.8-.1 .4-3.4 .6 0 .3-1 -.7-1 .8-1.6 -1-1.7 1.8-2 -.2-1 .6-.7 -.7-.3 -.4-1 1.4-.7 -1.3-2 1.6-1.6 -.4-.9 -.6-.1 .7-1.4 -1.2-1 -.1-.6 .9 .4 .1-.8 -.9-.6 .5-.7 -.9-1 1.2-1.5 -1.4-.8 -.8-1.4 .7-.6 -.2-1.1 -.6-.3 .9-1 -.4-.3 .3-2.3 .5 .4 .1-.8 -1-.6 -.1-1.8 .3 .6 .4-.2 -1.5-3 .8-1.3 .6 .1 .9-1.1 -1.3-1 -.1-1 .6 0 .1-1.3 -.5 .1 -.5-1.1 .2-.8 1-.2 .6-2 -.2-1.4 .9-2.2 1.7-1.8 3.8-.3 -.3-.7 -.6 0 0-.6 -1.3 0 2.1-1.7 0-1 -1.7 .4 -1.3-.4 2.8-.7 0-1.3 .6-.3 -.5-.6 .4 .2 .6-1 -1.4-1.6 2.2 0 -1.1-.9 -2 .3 -.1-.8 1.8 .1 0-.9 1 .6 .5-1.4 -.9-.2 -1 1 -3-1.1 .4-1.2 1 .7 .5-3.2 -.8-1 .3-.4 -.7 .5 -.8-.8 1.4-1 -.3-1.3 1.3-3.4 -.1-1.6 1.3-1 -.3-1 .5-.4 -.6-.6 .1-1 .6-.4 0-1 -.9-1.3 .5-.6 .8 .3 -.3-2 .8 .2 .8-.6 -.5-.3 1.2-1 -.2-.5 .8 .2 -.4-1.2 .6 .6 .4-.8 2-.5 1 .3 .4-1.1 1.7-.7 -.1-1.3 -2-.5 .5-1.5 -.3-.3 -1.2 .1 -.6-.5 .4-4 .8-1 .4 .5 1-.3 -.7-.3 .3-.8 1.4 .2 .5 .7 -.4 1 -1.1 .4 0 .5 -.6-.2 .6 2.4 .7-.1 -.1-.8 -.6-.2 1-.5 1.3 1.3 1.3-.2 .7-1 .7 1.1 -.5 1 1.1 .2 1.3-.5 .1-1.5 1 .4 1.3-.4 .6 .8 -.3 .4 2-1.1 .7 1.6 .5-.2 -.2-.5 2.7-.1 .4 .2 -1.6 2 -.1 1.6 -.6 .1 .6 1.4 .5-.4 -.2-.8 1.1-.2 1.3 3 1.6 1.1 .3-1.1 -.6-1.7 .9-.6 0-1 -.5-.4 .6-.4 .6 .8 .7 0 .7-1 2-.7 1.4 .3 -.1 .5 -.3-.3 -.8 .5 .1 .4 1.5-.1 .8 1.8 2.5 .6 .6 .6 -2.8 2.4 .1 1 1.6-.2 -.2 .8 .6 .8 2 .5 .8 .7 -.8 1.1 -1.4-.5 0-1.1 -1.1 .5 1.4 1 .5 1.7 -1.8 .3 -.5 1 1.2-.1 .3 1 1.5 .5 -1.7 1.6 .6 1.4 -.8 .6 .1 .5 -1.1 .2 0 .7 1.1 .8 1.3-1 .8 .5 -1.5 1.3 1.7 1.1 .5 1.3 -1.3 2 1 1.6 -1.2 .9 -.3-.5 .1 .6 -.7 .7 1.3 .2 .7 .8 -.8 .7 .3 .6 -.8 1.7 3 1.7 .7 1.3 -.5 1.3 -.5 7 -1.6 1.7 .8 .7 1-.6 -.1 .9 .8 1 -1.4 2 .4 .7 1-.8 .1 1.1 .5 0 -.5 2.7 .5 .3 -.5 .3 .9 .6 .4 1.4 .3 2 -.6 1.4 2.2 2.3 0 .4 -.7-.1 -.6 3.4 1.7 3.3 .4 2.3 -.4 1 .3 2 -.9 2 -1.2 1 .1 1.7 -.5 0 .5 1.7 -.8 1.3 .4 .9 .7-.1 0 .4 -.6 .1 .4 1.7 .9 .8 -.1 2.5 .4 0 .2 1.4 -.3 2.3 .4 2.2 -.7 .8 -.5 3 1.6 6 0 1 -.8 1 .9 1.3 .4 2.4 -.8 3 .8 1.6 -.9 1.4 .7 1 1-.2 .1 .5 -1.4 3.3 .6 .9 .5-.5 .4 1.6 -.9 2 .6 .7 -.5 3.3 .2 2.7 -.3 1.5 -.7 .5 1.1-.4 0 .7 -1.4 2 .6 1.7 -.6-.1 -.4 1.1 .5 1.3 -.5 2 .6 1.4 -.4 2.3 .9 1.3 .4 2.4 -1 2 1.8 5 .5 2.6 -.4 2.4 .8 1.6 -.6 4.4 .1 2.3 .5 0 .1 .7 -1.2 3.8 -.4 6.5 .8 2.3 .4 3 -.3 1.7 .6 2.3 -1.1 2.7 .7 2.3 -.3 6.4 .5 3.6 -1 2 -.1 5 .5 1.4 -.8 1.3 .6 2 -.8 2.3 .5 2 -.6 1.7 1 3 -.6 1.7 .6 5 -.6 1 .3 2.3 -1.7 2.7 .8 4 -1.2 2 1.3 4 -1.1 1.3 0 1.3 .7 .4 -.6 1.6 -.9 .4 .8 2.6 -.1 .7 -.8 .3 0 5.4 .7 2 -.5 .5 -.3-.4 -.3 1.5 -1.7 1.3 .1 1.4 -.8 0 -1.5 2 .3 .7 1.2 .6 .2 1 -.6 .4 .9 .3 -.2 1 -1.8 .3 1.3 .4 .2 1.6 .8 .7 -1 1 1 2 -1.1 1.1 -.7-.3 -.8 .5 -.1 1.4 .7 1 -1.5 1 -.4 .6 .5 .4 -1.3 1.3 -.1 1.5 -.6-.4 -.6 .2 -.1 1.1 -1-.8 -2.7 .8 -.6-.6 -1.4 .6 -.6-1.2 -1.4 1 -1-.7 -1.3 1 -.7-2.2 -1.2 1.4 .2 1.5 .8 .1 -2.3 1zM635.0 1833.2l-1.7-.4 1.7-.8 .5 .5zM643.4 1833.6l0-.5zM625.4 1834.5l.3-.5zM646.7 1837.7l0-.3zM643.0 1838.4l0-.5zM627.0 1839.1l0-.4zM626.7 1839.7l-.4-.5zM625.7 1840.3l-.5-.1 .2-.5zM627.0 1840.2l0-.5zM626.4 1840.7l-.5-.2zM625.7 1841.4l0-.7zM642.2 1842.5l-.3-.3 .6-.7 -1 0 .2 1.1zM649.5 1842.2l-.5-.8 0 .8zM622.0 1843.2l-.4 0 .4-1.1 .6 .4zM657.0 1842.7l-.4-.2zM657.7 1843.3l-.3-.6zM623.9 1844.8l-.2-.5 -.2 .5zM622.4 1846.2l.8-.4 -.5-.1zM638.7 1846.5l-.5-.7zM655.4 1846.5l-.5 0zM654.5 1846.8l-.3 0zM644.1 1849.2l.7-1 -1.8-.8 -.4 .4 .2 1zM653.1 1848.5l.4-.3 -.1-.8 -1.5 1.1zM646.8 1850.8l.1-.6 -1-.4 .5-.8 -.5 .2 -.2-.7 -.7 .2 -.6 .8 1.6 .8 0 .7zM620.9 1850.8l-.5 0zM621.5 1851.5l.4-.7zM645.1 1850.8l-1.2 0zM649.2 1852.8l0-.6 -.8 .3 .3 .6zM644.2 1852.5l-.4 0zM646.2 1853.5l1-.3 -.5-.9 -1 .9 -1-.5 -.5 .5 .8 .5zM641.1 1853.5l-.1-.4zM642.1 1855.5l.9-1 -.6-1.1 -.8 1.8zM645.8 1855.5l-.4-.5 -.6 .2zM646.5 1856.2l.2-.4zM658.4 1860.5l-.5 0zM658.5 1861.2l-.3 0zM657.5 1863.2l.2-.6 -.5 .2zM618.8 1866.8l-.6 0zM623.1 1867.5l-.6 0zM625.4 1874.5l-.8-.3zM661.0 1882.9l-.4-.7 .4-.5zM615.2 1885.2l.1-.7 -.6-.2 0 1.1zM664.7 1901.2l-.3-.5zM665.7 1902.7l-.3-.3zM612.4 1910.2l-.4-.6zM613.0 1918.1l-.3-.4 .6 .1zM613.0 1922.9l-.1-.7 .8-.5zM612.0 1925.2l-.3-.4zM612.7 1928.3l-.4-.1zM613.1 1932.8l-.6 0zM610.4 1946.7l0-.6zM666.7 1962.3l0-.8zM608.7 1997.2l0-.5zM666.7 2007.8l0-.8zM666.2 2049.8l-.2-.5zM610.0 2072.1l0-.4zM665.4 2080.3l0-.4zM663.6 2099.5l-.2-.5 -.2 .5zM617.2 2111.5l-.6 0zM663.4 2112.1l-.5-.3 .1-.6zM662.4 2114.2l-.5 0 .5-.4zM616.4 2115.7l0-.7 .4 .2zM662.0 2118.1l0-.4zM658.4 2120.2l0-.6zM635.1 2126.5l.2-1 -1.1-.3 -.3 1.3zM619.4 2126.9l-.4-.1zM641.7 2127.8l-.6 0zM637.0 2128.3l-.3-.3zM634.7 2129.7l-.2-.5 .5-.2zM637.0 2130.5l-.7-.3 1.1-.3zM628.7 2131.2l0-.5zM628.0 2131.7l0-.6z"/><path fill="#DD5129" fill-opacity="0.567" fill-rule="evenodd" d="M639.4 1839.5l-1.4-.9 -1.1-.1 .5-2 .8-.3 .2-.7 1-.1 1.7 1.1 .2 1.3 -.6 .6 -.7-1.1 -.8 .5 .7 .4zM631.7 1840.0l-1 0 -.7-2.3 3-.5 -.2-.4 .6-.3 .7 1.7 -.4 .3 -.3-.7 -.7 .3 -.4 .7 .2 .7zM636.7 1839.1l0-.4zM632.0 2126.8l-1.1-1 .7-.6 -.2-.7 -1-.1 -.7 1.2 -2.3 .3 -1.4 .1 -1-.9 -1.3 .5 -.7-1.5 -1-.7 0-.8 .5 .2 -.9-.3 .2-.7 -2.1-1 .8-.6 -.7-1.7 -1.5-.3 .1-1.3 1-.4 -.3-2.7 -.7-1 .2-1 -.7-2.3 -1.6-.3 1.5-1 -.4-2.7 -.8-1 .6-1.3 -.8-.9 -.7 .4 -.6-.9 .8-.3 -.2-1.8 -1.4-.2 -.2-.7 1-.6 -1.1-.7 1.2-2.3 -.6-.7 -.5-3.3 -1.1-1.4 -1.7-5 1.8-3.6 -1.2-3.7 .5-.3 -.1-1.4 .5-1.6 -.5-1.4 .8-1.6 -.7-1.4 -.2 1 -.5-.3 .7-2 -.9-1 -.3-4 .8-1.3 .4 .3 -1.1-2 .1-.8 .6-.5 -1-2 .4-1.4 -.8-.3 .3-3.7 1.1-1.6 -.5-1.4 .7-2 -.7-2 .3-2 -.5-2 .5-.6 -.8-.2 -.1-1.2 .5-3 -.4 .2 -.9-1.8 .3-4.4 -1-1.5 -.4-1.8 .9-5.7 .8-1 -.2-1 .8-1.3 -.7-2.7 1.3-1.6 .2-1.7 -1.1-2.6 -.2-2.7 -.8-.4 .4-.6 -.4-1.4 .8-.3 0-2.7 -1-1.6 -.8-5 .8-1 -.1-2 -.6 0 0-.7 .9-2.3 0-2.4 1-1.6 .4-2.4 -1.1-3.3 .8-2.7 -1.3-3 .5-2 -.2-3.3 .4-1 -.4-3 .6-2.3 -.3-.5 .7-.9 -.1-3.6 .9-1.4 -.3-.3 .4-1.3 -1-1.7 .9-1 -.5-1.3 1.5-3.4 .6-.3 -.9-3.3 .8-1.7 -.9-.7 1.8-4 -.8-2 .6-1.6 .2-5.4 -1-1 1.1-1.7 2.1-1.3 .4-.6 -.6-.4 .1-.6 .8-.4 -.2-.5 -1 .5 -.5-.6 .9-1.4 -1-.2 0-1 3.1-1.8 -1.5 0 -.6-.6 .4-1 -.6-1 1.2-2.7 -.4-.7 -1.9-.6 .3-.5 2.3-.2 -.5-.7 .6-.3 -.9-.3 -.2-1.7 -1.7-1 1.3-1 -2.9-.7 .3-.9 2.5-1.4 -1.2-.7 .3-.6 -1.2-1.7 .6-.3 -.6-.4 .4-1.3 -.6-1.7 1.1-.8 .7-1.5 -1.4-3 .2-.7 1.5-1 -.4-1 1.6-2 1.3-.6 0-1 .7 0 .2 .5 1.2-1.5 -.1-.7 1.9-.3 1.3-1.4 -1-1 -.9 0 -.1-.7 -.3 1.3 -.6-.6 0-1.6 1.6 .4 .6 .8 2.4 .2 .3-.5 3 1.5 0-.7 1.4-.4 -.4-1.7 -1.1 0 .3-.3 -.6-1.3 .2-.4 -.5 .1 -.3-.8 -1.3 .4 -1-.6 -2.7-.1 .7-.8 3-.4 1.4-2.1 1.2-.4 .4-.9 -.7-1.5 -1 .3 .3-.1 .1 .9 -1.4 .2 .5-2.5 -1.2-.8 -.6 .2 .8 2.6 -1 1 .8 1.5 .4-.3 .4 .5 -.4 .6 -.4-.6 -1 .5 -.3-2.9 -1.2-1.3 .9-.2 -.3-1.1 -.7-.6 -.7 .2 .3 1 -1 .2 -.8-1.5 .2-.4 .3 .6 .1-.9 -1.1 .3 -.9-.9 .2-.6 1 .3 .4-.7 -.9-2.4 .9-.4 1 .3 -.1-.9 -.9-.2 -.7 .7 -.7-.5 .2 .4 -.8 .4 -.7-.8 .7-1.1 1.6 0 -.1-.9 -.7-.3 1.6-1.7 -.9-.6 1.2-.4 -.6 0 .1-1 1.4-.7 .4-1.3 1.2-.3 1.4-1.4 .4 .8 1.6-.7 -.7-.7 .4-.3 -.7-.2 -1.5 .8 -.4-1.3 .5-1 -.2-1.7 .7 0 -.2 .7 .5 .1 -.3-.4 .9 .1 1-1.1 .7 .7 .3-.3 .8 .2 .6-.6 .5 1.3 -.6 .3 1.1-.5 .6 .9 1 .2 .4-.7 -.4 .2 -.8-1.1 .5 .3 .3-.4 .4 .6 1-.1 0-1.4 -1.1-1 1.2-.6 0-1 .9-1.3 .3 .5 .7-1.4 1 .8 -1.3 1 2.8 1.4 -.5 1.1 -1 .5 -.4-.4 .3 1.8 -1 1 1.7 1.5 -2.6-.2 -.1 .3 1.9 2.4 .6 0 .8 1.6 1.3 .4 .1 .8 -1 0 -.3 1.1 2 .3 1 2.1 1.8-.7 -.6 1.4 -.5-.7 -.4 1 -.3-.2 -1 .8 -1-.4 -1.7 2.5 .3 .6 -.7 1 1.2-.3 -.3-.3 .5-.5 1.1 .8 0 1 -.8 1 -.6-.2 -2.3 1.1 -.6 .8 5.9 .5 .7 .3 -.1 1.5 .4-.3 1.3 1.6 .4-1.4 .3 .5 .3-.7 .8 .6 0-.6 .7-.7 -.3-.3 1.2-.4 -.4-1.1 -.6-.3 -.3-2.9 .9-.4 .4 .8 .3-.2 .7 .7 2.1-1.2 -.1-.8 -1.5-.6 .5-.3 0-1.7 -1.8-1.6 .1-.5 .4 .1 -.1-1.1 2.6 1.8 0 1 1.3 1 -.2 .5 -.3-.4 -1.1 .9 .7-.2 1.6 1.5 -.9 1.5 -1.3-.2 -.1 .7 1.1 .5 .6-.3 1 1.6 .7-.9 .7 .3 -1.5 2.5 .1 1 1.8 1 -.6 .7 .1 1 1.4 .8 .3 1.2 2 .1 .7-.5 1 .7 -.7 .7 1.1 2.6 -.9 1 .2 .6 -1 .5 -.7-.6 -.5 .5 .9 .4 .2 2.6 -.6 1.7 .9 3 1.5-.7 0 1 -.7 .2 -.8 1.5 1.6 1.7 -1.7 .3 -1.2 1.7 3 1 -.4 1.3 1.2 .7 -.8 1 3.2 3.3 -.8 2.9 -.8-.6 .6 1.7 -.9 1.7 1.9 .6 -.4 4.7 1 1 -1.8 2.3 .7 .7 -.7 .7 .5 .3 -.2 .7 -.9 .3 .6 2.3 -.5 2 .7 2 -1.4 .7 .5 1.3 1.7 1.7 .4 2 -.7 0 .7 2.7 -.4 2.3 .3 1.3 -1 1.7 .4-.2 .4 1.2 -.7 1 0 1.7 -.4 .3 1.1 1.6 .9 .4 -.5 .7 0 4.6 .5 1.4 -.3 1.6 .8 1.4 -.8 3.3 .9 1.7 .1 4.3 1 0 -.5 1 .2 1.7 -1.1 1.3 .2 2.3 -.8 1.4 1.1 .6 -1.2 3 .7 1 -1.3 6.7 .1 1 1 .7 0 2.8 .3-.4 .3 .2 -.1 1.4 -.7 .3 -.2 1 .7 1 .3 3.3 1.6 2.7 -.5 1.7 .3 3 -.6 1.3 .7 1 -.2 1.7 .7 1 -1.1 4.6 .5 3.6 -1.5 3.8 .9 1.3 .1 3.7 .7 1.6 -.1 2.7 -1.1 3.3 1.1 1 -.7 2.7 .9 3 -.5 .7 .6 1.6 -.1 4.7 -1.1 1.7 .5 3.6 -.7 .7 -.2 2 .6 2.3 -.6 1 .5 3.4 -.8 1.3 .6 2 -.5 1.7 1.1 2 -.2 1.3 -.7 .7 1.2 1.5 0 1.5 -.9 4 .1 1.6 -1.3 1.4 .5 2 -1.8 2.6 .5 1.4 -.5 3.6 .4 .1 .6 2.3 -.4 .3 .6 .7 -1.1 1.3 .5 3 -.6 1.7 .5 1.6 -.8 1.7 -1.1 .7 -.1 2.6 .8 1.4 -.9 .3 .4 .7 -2.8 3.5 -1 .6 -1.3-.4 -.7 .3 .9 .3 .8 1.2 .9 .1 -2.2 .4 1.6 .7 .7-.6 1.4 .2 -.7 .3 .6 .5 -1-.4 -1.4 .9 .3 .4 -.6 1 1.6 1.6 -.2 .5 .3-.3 .1 1.2 .9 .3 .1 1.3 -1 1.4 -1.4 .8 -.5-.2 .2-.4 -1.4 0 -.7 1.4 .7 .7 -.3 .9 -1.3 .1 -.8 .7 .4-.2 .4 .7 1.3-.5 .5 1 -.4 1.6 -1.8 .9 -2-.2 -1-1.8 -1.3 .3 -.3-1 -1.7 .2 -.7 .8 -.4-.2 .1 .5 -.7-.5 -1 .5 -1.3-1.3 -.7 1.1 -1-.1 -.6 .9 -4 .7 -.6-.4 .9-.5 -3.7-1.2 -1.3 1 .5 .7zM640.7 1841.0l-.2-.8 .5-.2zM629.4 1844.0l-.8-.5 .8-1.8 .7 1.1zM632.0 1844.0l-.4-1.5 -1.4 0 .8-.9 1.3 .9zM626.0 1843.3l-.6-.4 -.4 .4 0-.5 .7-.3zM632.7 1843.1l0-.5zM630.4 1843.7l0-.6zM646.0 1843.3l-.7-.1zM649.4 1843.7l0-.5zM650.7 1847.9l-.9-.1 .7-.3 -.2-1.3 .5-.4 -.9-1 1.1-1.4 1.4 1.2 .3-.3 .2 .9 -1.2-.4 -.6 .4 1.1 1.6zM628.4 1844.4l0-.7zM631.4 1844.0l-.6-.2zM636.4 1845.2l0-1.5 -.6 .8zM646.0 1844.4l-.3-.7 .6 .1zM647.7 1846.4l-.9-.2 .2-1.6 1.1 .6 -.5 .3 .7 .3zM641.7 1847.9l-.7 0 -.1-.7 .3-1 .5 .4 .3-.6 .3 .5zM645.7 1847.6l-.6-.8 1.4-.6 .2 .6zM649.7 1848.4l0-.5zM640.4 1849.0l0-.7zM648.7 1850.2l-.2-1.4 1.2-.1 -.3 1.1zM625.4 1849.4l0-.4zM637.0 1849.2l-.6 0zM652.0 1850.2l-.6 .2 0-.7zM638.4 1850.9l0-.8 1 0zM642.4 1851.9l-1.2-.4 .8-1.5 .7 .8zM636.8 1852.2l.3-.4 -.8 .4zM653.0 1852.8l-.5-.3 .2-.8 .8 .5zM624.5 1853.2l.2-1.1 -1 .1 0 1.3zM655.4 1853.4l-.9-.2 .5-.9zM652.7 1854.0l-1-.1 -.5-.7 2.2-.6 .5 .6zM630.5 1853.5l-.5-.5zM632.2 1854.2l-.2-.9 -1.1 .2zM637.8 1854.5l.2-1 -.6-.3 -.2 1.3zM653.7 1857.3l-1.2-.5 -.1-1 -1-1.4 1-.3 1.3 1.1 .1 1 .6 .3zM638.8 1855.8l.4-1 -.6 .4zM647.4 1855.2l-.4 0 .4-.5zM643.7 1855.7l-.4-.5 .4-.2zM619.7 1856.6l.5-.8zM651.4 1856.6l-.6-.1 1-.3zM620.0 1857.0l0-.3zM650.7 1857.0l0-.3zM647.0 1857.6l-.6 .1 -.3-.5zM648.0 1857.4l0-.4zM654.4 1857.4l0-.5zM654.0 1857.7l0-.5zM637.3 1859.2l.4-1.4 -1.1 1.4zM647.4 1858.3l0-.7zM648.0 1858.0l0-.3zM647.0 1860.3l-.7-.8 .1-1.5 .8 1.2zM653.4 1859.7l-1.4-.1 -.2-.4 .6-.4 -.3-.3 2.7 0 -.8 .1zM655.7 1858.6l-.4-.1zM645.0 1860.2l-1-1.5 .4-.1zM638.7 1860.6l-.6-.1 .6-.5zM619.7 1861.6l-.3-.8 .3 0zM649.0 1861.0l0-.3zM649.7 1861.4l0-.5zM652.7 1861.4l0-.4zM653.0 1861.9l-.2-.4 .9-.3 .2 .3zM643.0 1862.7l-.3-1 1.3 .1 .1 .4zM620.7 1862.4l-.5-.2 .7 0zM647.9 1862.8l-.5 0zM643.0 1863.9l0-.9zM643.7 1863.4l0-.4zM648.4 1864.2l-.9-.7zM650.7 1865.5l.5-1 -1.8-1 -.5 1.7 .8 .5zM643.7 1864.0l0-.3zM644.4 1866.9l-.7-1.9 1.7-.1 .4 .3 -.8 1.6 -.3-.7zM641.4 1865.7l0-.4zM646.0 1866.0l0-.6zM637.0 1865.8l-.8 0zM647.0 1866.1l0-.5zM623.4 1866.4l-.6-.2 .6-.3zM640.8 1867.8l-.4-1.1 -3 .6 -.7-.9 -.8 .4 .8 1.3 1-.8zM643.4 1867.7l0-.4zM647.8 1869.5l.6-2 -.4-.3 -1.1 .6 .4 .7 -.8 .3 .2 .6zM633.1 1874.8l.3-1.6 -1-.1 0-1.2 1-.8 1.3 .5 .7-.4 .3 .7 1-.7 -.7-.6 -.6 .4 -1-.5 .2-.7 -.4-.3 .6-.7 -.8-.3 -.6 .3 1 2.2 -1-.3 -.7 .8 -1-1.4 -.6 .7 .9 .5 -1.6 .1 -1.2 .8 .2 1 1.1 0 .9 1 .6-.3 .7 1.1zM630.8 1870.8l-.4-1 -.6 1zM625.1 1872.2l-.5 0zM622.7 1873.2l-.4 0zM628.4 1876.4l-.6-.2 .2-.5zM624.4 1877.4l-.4-1.1 .4 .2zM621.7 1878.9l-.7 0 0-.5zM631.1 1879.2l-.7-.5zM624.1 1880.5l-.5 0zM659.4 1881.3l0-.6zM614.7 1886.7l-.3-.4zM614.7 1887.4l-.3-.4zM615.4 1895.5l0-.4zM612.7 1895.8l0-.6zM661.7 1895.9l0-.6zM617.9 1906.5l-.5 0zM616.7 1912.0l0-.3zM664.0 1912.9l-.6-.1 1-.8zM618.1 1914.5l-.4-.5zM618.4 1915.2l-.7 0zM662.4 1916.0l0-.3zM615.7 1921.6l0-.7zM664.4 1931.5l0-.6zM664.4 1942.1l0-.5zM665.7 1956.3l-.5-.1 .2-.8zM665.7 1964.9l-.5-.1 .5-.4zM665.4 1965.7l0-.4zM610.7 1976.8l0-.7zM609.4 1993.4l0-.4zM611.7 2011.8l0-.5zM666.7 2031.7l-.3-.4zM665.5 2066.2l-.5-.5zM665.8 2068.8l-.1-.7zM664.7 2078.9l-.4-.1zM614.0 2094.8l0-.5zM662.4 2095.8l0-.3zM614.0 2098.8l0-.5zM662.7 2102.5l-.3-.2zM660.0 2114.3l-.8-.5 .8 0zM658.8 2117.2l-.4-.4zM657.0 2119.4l0-.5zM645.9 2123.2l-.2-.5 1 .1 1-1.1 1.3 .4 0-.5 -1-.7 -.6 .8 -1-1.2 -.7 .2 -1.2 2.1zM638.1 2123.8l.6-.7 -1.9 .1 .9 .9zM628.5 2124.2l-.1-.8 -1.1 .4zM621.7 2125.4l0-.6zM641.0 2125.7l-.3-.4zM636.7 2126.0l0-.3zM626.7 2126.3l0-.4zM628.7 2126.5l-.3-.5zM641.0 2126.5l-.3-.5zM642.7 2127.2l-.4-.4 .6 0zM638.4 2127.2l-.4 0z"/><path fill="#DD5129" fill-opacity="0.846" fill-rule="evenodd" d="M627.7 1850.9l0-.4zM624.4 1856.7l-1.1-.5 1.7-.6zM624.7 1858.9l-.7-1.8 .9 .7zM631.7 1858.3l-.5-.1 .9-.4zM627.7 1859.6l-.7-1.1 .7 .3zM628.7 1861.6l-.4-.1 .4-.3zM631.7 1863.3l-1.7-1.1 .4-.9 .7 .2zM627.7 1862.5l-1 0 -.1-.3zM626.0 1862.8l0-.3zM626.7 1863.3l-.3-.2zM632.4 1866.3l-.4-.1zM644.0 1870.8l-.5-.6 .5-.7zM632.4 2122.7l-1.1-1.2 .9-1.3 -.6-.7 -1.2 1 0-.9 -1.1 .2 .9-.6 -.5-1.1 .2 .7 -.5 .5 -.1-.5 -1.9-.6 -1.7 1 .2-.7 -.8-1 .5-.7 -1.6-1.3 -.3 .7 -.5-.7 .3-1 -.8-1 .4-.3 -.2-1 -1.9-2.7 .4-1 -.4-.3 -.3 .7 -1.7-2.1 .1-1.3 -.8-1 .7-1.2 .6-.1 -.8-.7 0-2.7 -2.3-2.3 .2-.5 .7 .8 .5-.3 -1.2-1 .5-.3 .3-2 -1.7-1.7 .5-1.7 -1.8-1.6 0-1 .8-.7 -1-2 .8-1.3 -.6-1.7 .8-1.3 -1.6-1.7 .3-1.7 -.7-1 .6-1 0-2.3 .5-.3 .6-2 -1-2 .5-1.4 -.4-1 -1.7-2.3 1.5-2 -1.2-4.3 .8-1.7 -.6-1.7 .3-2 .9-1.6 -1.4-2.4 .4-.3 -.1-2.7 .6-.3 -1.1-3.3 .5-.4 -.8 0 1-2.6 -1-1.4 .5-.6 -.8-1.7 .6-1 0-2.3 -.7-.7 -.2-1.7 -.9-1.6 .1-1.7 -.5-1.3 .8-1.4 .2-1.3 -.3-.7 .8-4.3 .6-.7 .9-5.6 -.8-1 .6-1.7 -.5-.3 -.2 1.2 -.8-1.6 .9-4.6 -1.6-4 .4-4.4 -.4-2.3 .7-1 0-2 -1-2.3 .4 .1 .4-.8 .5 0 -.2 .5 .3-.4 1.1-3.1 -.9-1.3 .6-1 -.5-.7 .9-1.7 -.5-.3 .2-1.7 -1.3-1.6 .3-3.7 -.6-1 -.1-2.7 1.4-2.3 -1.3-1.3 .8-1.4 -.2-3.3 .5-.7 1 .2 .3-.8 -.3-.5 -1.1 .5 .9-2 .6 0 -.3-.7 .5-2.7 -.6-1.6 .9-.4 -.9 .2 -.7-1.2 .3-1.4 .7 .3 .5-.5 .8-3 -.4-.7 .6-.3 -.6-.4 .5-2 -.8-1.3 1.3-1.3 -.9-1.4 .7-1 .6 .5 .2-.5 -1-2.3 .9-3.7 -1.1 .4 -.1-1.4 1.1-3.8 .5 .2 -.4 .3 .6 .6 1.1-.9 -1-.7 -.1-1.3 1-.6 1.7 .1 .5-.5 -.4-.7 .8-.7 -.7-.3 .7-1.3 -1.3-1.1 .7-.3 0 .6 .3-.5 1 .6 .8-1 -1-1 1-1 -.6-2.3 -1.3-1.7 -.4-1.7 -1.1-1 .8-3 -.5-2 .6-1.6 -.8-1 .2-1.7 .5-.7 -1-2.3 -.9-.3 .8-1.4 -.5-.6 .5-.7 -1.3-2.3 1.5-2.7 -.3-1.3 1.2-1 -.4-.7 1.8-.7 .8-.8 -.1-.8 1-.7 -.3-1.4 2 .5 1-.9 .7 1.2 2-1.7 2.3 2.3 .4-.7 1.6 .7 .4 1.6 .6 0 .1 1.1 .8 .3 -.3 .3 .9 .4 -.1 1 2.3 .6 1-1 .8 1 -.8 1 .5 .7 -1.8 .6 -.8 1.1 2.1 .3 -.3 .3 1 .4 -.2 .6 .5 .4 -3.3-.4 1.1 1.7 .1 1.7 1.8 .9 1.3 1.4 1.2 0 -.9 .3 .4 1.4 .8-.4 -.5-.6 .7-1.2 2.6-.8 -.2 .6 .5 .4 -1.7 1.3 1.3 1.7 -.4 .3 .9-.1 1.3 1.1 .7-.2 -.3-2.8 .9-.9 .5 .2 -.1 .6 .6-.6 -.8-.6 1.1-.7 -.6-.8 -1.6 1.1 -.6-.6 -.3-1 .5-.5 .3 .2 .4-1.1 -1.4-2.6 -1.1 1 .1 .4 -1.5-1.1 .9-.7 .6 .6 1-.3 .6-1.9 -1.6-1.7 1-.9 1.4-.1 .8-1.3 -2.8-.6 -.7 1.1 -1-.2 -.3 .3 .8 .4 -.5 0 0 1.3 -.5 .3 .5 1 -.7-.5 .3 .5 -.6 .3 -.7-.6 1.2-2 -.6-1.3 -1.9-.3 0-1.3 -2-1 -.7 1.1 -.6-.6 -1 .3 -.7-.6 .3-1.6 -.7 .3 -.9-1.4 -.7 .5 -1.1-.4 1.4-2 1.7 .5 .3-1.7 1.6-.2 -.2-1 .9 .4 -.1 .6 .5-.1 .4 1.1 .9 .2 .4 .8 .3-.9 .4 .3 -.1-1.1 1.2 .4 -.6-.7 -.1-1 1.5-.2 1-1.5 1-.2 .4 1.1 1.6 .1 .7-1.4 .8 .8 .2 1 1.3 .1 0-1.1 -1.5-.3 -.2-1 .9-.7 -1.3 0 .6-1 -.4-1.3 1.6 .2 .7-1.3 0 1.1 .6 .6 0-.8 1.1 .2 .3 1.3 -.6 .3 .2 .3 1.4 .2 1.3 1 .7-.6 .3 .5 -.6 .3 -.4 2 .3 1 .9 0 -.5 1 1.3 .3 -.7 .5 -1-1.4 -.8 .3 .3 1 -.6 1.6 .8 .2 -.2 .5 .5 .3 -.6 1.7 1 .5 .6-.6 1.8 .4 .3 .7 -.5 .7 .4 1 -1 1.3 -2 .1 -.7 1.6 2.4 .3 -.6 1.3 1.3 .7 -1.4 1.3 0 1.7 1.4 1 1.6-.3 -.2 1 .7 .3 -.4 1.3 1.6 1.5 -.7 1.9 -1.1 1 .8 .9 1.7 .1 1 1.3 -1 2 .7 1.3 .1 2 -1 .7 .2 .7 1 0 -.8 1 .6 1 -.2 2.6 -1.2 1 1.3 2.7 -.4 .9 0-.9 -.7 0 -.2 .7 .8 .3 -.6 1.3 .4 .7 -.5 .3 .8 2.4 -.4 .6 1.4 2 -1.2 .4 .7 1.3 -.7 1 1.1 1 -.7 2 .5 3 -.5 2 1.3 1.3 -.3 1.4 .8 1 0 .7 -.5-.4 -.9 1.3 .3 1.4 .8 .3 -.6 1.3 .3 .7 .9 .7 .6 1.3 -.4 1 .5 1.7 -1 2.6 1 .7 .2 2.7 -.9 2 .4 1 -.4-.3 -.5 .6 .6 1 -.6 1.3 .5 .7 0 2 -1 1 1.6 4.7 -1.4 3 .5 .6 -.3 1.7 .4 2 -.6 2.7 1.6 4.6 -1 1.7 1.2 1 .1 3.3 1.2 3.4 -.7 1 .4 .6 -.3 2.4 1.7 3.3 -1.4 3.3 .2 3 -1.2 2.4 .5 3.6 .7 1.7 -.6 .7 .1 2 -.7 1 1.4 .5 .1 1.1 -.9 4.4 1.2 1.6 -.7 2 .4 3.7 -.9 1.3 .8 3.4 -.9 1 .6 4 -.6 1.6 .1 3.7 -.2 1 -.5 0 .7 1.3 -1.4 1 .6 1.7 -.4 2 .6 2 -1 .7 1.5-.4 -.9 2.7 .8 3.3 -.8 1 .1 1 .8 2 -.6 1.7 .2 1.7 -.6 .6 .5 .4 -1.4 1.6 -.8 2.4 .4 .3 .1 2.7 -.6 1 -1 .1 .7 1.2 -1.1 1.3 .6 3 1.2 2.4 -.3 2 -.7 1 .6 .3 0 .7 -1.1 1 .3 2.6 -1.5 .8 -.9 1.2 .2 1.4 -.6 .6 .3 .4 -1.7 1.3 -.7-.4 -1 .4 -.8 2.3 -1.5 .9 -1 1.2 -.8-.7 .5-.4 .3 .7 .3-1.7 -1.6 .7 -1-.3 0 1 1 .8 .6-.2 .2 .7 -1.5 1.4 -.5-.1 .2-.6 -1.2-2 .6-.4 -.4-.6 -1.7 1.4 -1.7-1.5 -1-.1 .4 1.2 -1 .4 -1-.7 -.4-1 -1.3 .6 0 1.2 1.4 .1 -.7 1.4 -.4-.8 -1 .4 1.1 .7 -.4 1 -.9 0 1.2 1.5 -.2-.5 1.2-.1 .4 .9 1.6 0 .4 .8 1.3 .6 .8-.5 -.9-.7 .4-1.3 -.7-.7 .7 .3 1-.4 2 2.1 .7-.5 .5 .5 -.1 1.3 -.5-.3 .1-.9 -1.3-.2 -1 2.1 -.7-.2 -1 .9 -1 0 -.3 .9 -2.4-1.2 -1 1.9 1.7-.4 .7 1.1 -.7 .3 -1.7-1 -1 1.2 -.9-1.8 -.4 0 .3-1.2 -.6 .6 -.7-.6 .2 .5 -1.2 .5 -.7-.9 -.2 .7 .6 .4 -.7 .3 1 .3 .7 1.7 .3-.3 -.5 .6 .4 1 -1.6 .1 -.6 .8 -.7-.5 .7 1.3 -.4-.3 -1.3 .2 -.3-.9 -.5 0zM649.9 1873.2l-.5 0zM650.5 1873.8l-.4 0zM654.0 1874.5l-.5 0zM637.0 1875.5l0-.3zM637.7 1876.5l-.7-.3 .4-.6zM644.4 1876.0l0-.3zM649.5 1876.2l-.5-.7 0 .6zM652.5 1877.5l-.2-1 -.9-.1 -.4-.7 -1 .5 1 1.6zM654.4 1876.9l-.4-.1 .4-.3zM640.4 1877.5l.2-.7 .5 .4zM636.5 1881.2l1.4-.7 -1.5-.1 -.3 .4zM656.0 1881.3l-1.5-.5 1.2-.5 .7 .5zM642.3 1881.2l-.4 0zM642.8 1881.5l-.4 0zM655.0 1881.5l-.7 0zM639.5 1884.2l-.3 0zM652.8 1885.5l-.2-1 -1 .3 .1 .8zM644.4 1886.2l.3-.9 -1-.1 -.6 .6zM651.2 1885.8l-.3-.3zM642.2 1887.5l.3-.3 -.8 0 .3 .6zM633.8 1888.2l-.4-.5zM638.7 1888.2l-.5 0zM639.0 1889.0l0-.6 .4 .1zM649.0 1889.2l-.3-.7 -.6 .7zM645.8 1889.8l.2-.4zM640.0 1890.0l0-.3zM639.7 1890.9l0-.6 .3 .2zM655.0 1891.5l-.6 0zM646.8 1894.2l.8-.7 .1-1 -.7-.8 -.8 .5zM652.6 1893.5l.8-.4 1.3 .4 0-1.3 -2 .5 -.3 1.1zM649.1 1892.8l-.4-.5 0 .5zM641.4 1894.2l-.8-1 .4-.4 .7 1zM636.5 1893.2l-.4 0zM656.2 1897.2l.2-.7 -.7 0 -1-1.2 -.6 .2 .3 1.4 .6-.2 .4 .6zM617.7 1896.0l0-.3zM657.1 1896.5l-.4 0zM635.8 1897.5l.2-.4 -.6 .1zM636.0 1898.8l-.6-.8 -.6 .8zM636.5 1898.8l-.4 0zM644.7 1898.8l-.4 0zM646.7 1899.7l-.4-.5 .4-.4zM638.5 1900.5l.8-1 -.9 .2 -.4-.6 -1.8 .4 .5 .3 -.3 .4zM642.9 1899.5l-.4 0zM640.0 1899.8l-.5 0zM619.6 1901.8l-.2-.5 -.3 .5zM642.5 1903.5l.5-.3zM619.8 1908.8l-.1-.4 -.6 .1zM620.2 1909.5l-.5 0zM619.6 1909.8l-.4 0zM620.7 1917.2l0-.4zM620.0 1917.9l-.3-.1zM619.0 1918.8l-.3-.6 .5 0zM617.0 1926.4l0-.4zM616.7 1926.7l0-.4zM616.1 1933.8l-.4 0zM612.8 2004.8l-.6 0zM664.4 2053.9l0-.6zM662.0 2082.8l-.3 0zM614.4 2089.0l-.4-.6zM661.6 2093.8l-.4 0zM656.4 2104.2l-.4 0 .4-.4zM655.0 2105.8l-.4 0 .8-.8zM653.0 2109.0l-1-.8 .7 0zM644.7 2110.5l-.7-.7 .4-.8zM637.8 2111.5l-.5-1 .5-1 -1.1 .1 -.5 .9zM639.5 2110.2l.2-.5zM638.2 2110.5l-.5 0zM629.3 2112.5l-.3-.9 0 1.2zM629.8 2112.2l-.1-.6zM634.8 2111.8l-.4 0zM641.7 2113.5l-.7-1.1 -.9 .4 .3 .8zM652.7 2112.5l-.4 0zM630.6 2113.5l-.9-.8 -.5 .5 1.2 .6zM642.9 2113.5l.2-.3 -.4-.2 -.3 .5zM652.7 2115.5l-.7-.3 .4-2.1zM638.6 2114.8l-.6-1.4 -.6 .8zM624.8 2114.2l-.4-.7 0 .6zM630.0 2113.8l-.4 0zM645.1 2114.8l-.7-1.2 -.8 1.2zM648.7 2115.2l-.3-1.1 .7 .4zM639.1 2114.5l-.4 0zM633.9 2116.5l.1-.7 1.5-.6 -1.8-.3 -.6 .6zM651.0 2116.2l-.5-.4 .9-.6zM627.8 2115.5l-.1-.3zM629.7 2116.5l.7-.1 .5-.9 -1.5 0 -.4 .7zM623.4 2116.7l-.7-.3 -.7 .3 -.6-.5 1.3-.4zM652.0 2116.6l-.5-.4 .9 0zM624.4 2118.2l-1.1-1 .4-.5 1.3 1.1zM645.0 2118.5l-1.2-.7 .6-1 1.4 1zM644.8 2117.8l-.1-.5zM626.6 2117.8l-.4 0zM633.3 2119.2l.3-1 -.6-.4 -1.2 1zM640.4 2118.8l0-.7zM652.0 2118.7l0-.5zM635.6 2118.8l-.4 0zM638.4 2119.0l0-.3zM640.7 2120.3l-.9-.5 .9-1 .4 1zM639.4 2119.9l-.7-.1 .3-.3zM644.7 2119.5l-.4 0zM650.7 2122.3l-.4-.1 .1-1.4 .6-.9zM627.4 2121.5l.2-1 .9 0zM637.7 2121.2l-1-.3 .3-.6 .9 .5zM633.0 2121.1l0-.5z"/><g fill="#DD5129" fill-opacity="0.075" stroke="#DD5129" stroke-opacity="0.075" stroke-width="1.2"><circle cx="634.3" cy="1747.8" r="8.6"/><circle cx="625.6" cy="1751.2" r="8.6"/><circle cx="623.2" cy="2155.2" r="8.6"/><circle cx="626.6" cy="1776.6" r="8.6"/><circle cx="643.0" cy="1726.9" r="8.6"/><circle cx="617.5" cy="2154.3" r="8.6"/><circle cx="639.3" cy="2166.3" r="8.6"/><circle cx="648.0" cy="1742.6" r="8.6"/><circle cx="637.4" cy="1764.7" r="8.6"/><circle cx="631.1" cy="1759.2" r="8.6"/><circle cx="660.5" cy="1710.0" r="8.6"/><circle cx="637.0" cy="1748.2" r="8.6"/><circle cx="641.1" cy="1774.3" r="8.6"/><circle cx="638.6" cy="1768.8" r="8.6"/><circle cx="621.5" cy="2154.5" r="8.6"/><circle cx="617.4" cy="1695.4" r="8.6"/><circle cx="644.0" cy="1696.4" r="8.6"/><circle cx="651.1" cy="1771.4" r="8.6"/><circle cx="646.2" cy="1712.3" r="8.6"/><circle cx="619.6" cy="1757.8" r="8.6"/><circle cx="653.5" cy="1719.5" r="8.6"/><circle cx="655.3" cy="2151.4" r="8.6"/><circle cx="619.0" cy="2168.0" r="8.6"/><circle cx="656.1" cy="1760.7" r="8.6"/><circle cx="658.6" cy="2153.0" r="8.6"/><circle cx="643.1" cy="1776.5" r="8.6"/><circle cx="640.2" cy="1746.9" r="8.6"/><circle cx="641.8" cy="1777.6" r="8.6"/><circle cx="626.8" cy="2175.2" r="8.6"/><circle cx="654.0" cy="2169.4" r="8.6"/><circle cx="615.8" cy="1758.3" r="8.6"/><circle cx="652.7" cy="2172.6" r="8.6"/><circle cx="627.0" cy="1752.8" r="8.6"/><circle cx="640.9" cy="1746.6" r="8.6"/><circle cx="649.0" cy="2170.2" r="8.6"/><circle cx="652.1" cy="1780.3" r="8.6"/><circle cx="647.3" cy="1763.9" r="8.6"/><circle cx="648.6" cy="1756.7" r="8.6"/><circle cx="640.2" cy="1764.3" r="8.6"/><circle cx="648.0" cy="1766.6" r="8.6"/><circle cx="635.8" cy="2166.7" r="8.6"/><circle cx="637.1" cy="1731.0" r="8.6"/><circle cx="652.1" cy="2174.2" r="8.6"/><circle cx="625.6" cy="1732.0" r="8.6"/><circle cx="617.3" cy="1735.9" r="8.6"/><circle cx="643.4" cy="1771.4" r="8.6"/><circle cx="633.7" cy="2164.2" r="8.6"/><circle cx="622.0" cy="2166.5" r="8.6"/><circle cx="625.0" cy="1698.1" r="8.6"/><circle cx="643.4" cy="1745.6" r="8.6"/><circle cx="631.5" cy="2159.3" r="8.6"/><circle cx="659.4" cy="1746.5" r="8.6"/><circle cx="654.4" cy="1763.8" r="8.6"/><circle cx="625.0" cy="1740.9" r="8.6"/><circle cx="653.7" cy="2151.3" r="8.6"/><circle cx="654.6" cy="2158.9" r="8.6"/><circle cx="633.8" cy="1719.7" r="8.6"/><circle cx="649.3" cy="1744.1" r="8.6"/><circle cx="622.6" cy="1740.6" r="8.6"/><circle cx="619.7" cy="2150.9" r="8.6"/><circle cx="638.8" cy="1779.3" r="8.6"/><circle cx="618.4" cy="1711.7" r="8.6"/><circle cx="618.4" cy="2155.9" r="8.6"/><circle cx="633.8" cy="1731.2" r="8.6"/><circle cx="645.4" cy="1778.5" r="8.6"/><circle cx="652.0" cy="1744.7" r="8.6"/><circle cx="644.1" cy="1735.4" r="8.6"/><circle cx="631.2" cy="1745.0" r="8.6"/><circle cx="615.7" cy="1767.2" r="8.6"/><circle cx="641.3" cy="1765.0" r="8.6"/><circle cx="620.0" cy="1742.1" r="8.6"/><circle cx="646.1" cy="1769.3" r="8.6"/><circle cx="640.2" cy="1760.5" r="8.6"/><circle cx="636.8" cy="1774.9" r="8.6"/><circle cx="615.4" cy="1704.3" r="8.6"/><circle cx="656.7" cy="1698.8" r="8.6"/><circle cx="660.8" cy="1730.4" r="8.6"/><circle cx="660.6" cy="1760.6" r="8.6"/><circle cx="640.5" cy="2155.0" r="8.6"/><circle cx="641.0" cy="1548.7" r="8.6"/><circle cx="641.0" cy="1573.5" r="8.6"/><circle cx="659.4" cy="1573.3" r="8.6"/><circle cx="656.5" cy="1627.4" r="8.6"/><circle cx="633.9" cy="1638.0" r="8.6"/><circle cx="645.0" cy="1654.6" r="8.6"/><circle cx="659.0" cy="1656.7" r="8.6"/><circle cx="625.2" cy="1666.3" r="8.6"/><circle cx="650.0" cy="1665.0" r="8.6"/><circle cx="648.0" cy="1677.0" r="8.6"/><circle cx="634.5" cy="1679.5" r="8.6"/><circle cx="623.5" cy="1684.2" r="8.6"/><circle cx="658.0" cy="1687.8" r="8.6"/><circle cx="621.0" cy="2181.9" r="8.6"/><circle cx="627.7" cy="2197.3" r="8.6"/><circle cx="645.6" cy="2181.0" r="8.6"/></g>
<path fill="#0F7BA2" fill-opacity="0.080" fill-rule="evenodd" d="M1083.2 2369.0l-3.3-.7 -7.7-3.3 -3.4-3.5 -1.7-3.7 -.3-18 1-17.3 -.4-6.3 .7-2 2.5-3.2 3-1.6 4-1 2.6 0 3.4 .9 3.6-2.3 3.7-.3 2.3 .6 1.7-1.6 4.7-1.7 3 .4 3 1.6 2.6-.6 3 0 3.4 1.2 2-.9 4.6 0 3 1.3 5.9 7.2 1.3 3.6 -.3 3.7 -1 2 1.3 5.7 0 31 -1.3 4 -2.5 2.8 -3.7 1.7 -6.7-.4 -5.3-1.5 -3 1.2 -17-.3z"/><path fill="#0F7BA2" fill-opacity="0.098" fill-rule="evenodd" d="M1119.2 2368.2l-7.3-1.5 -5 1.2 -3.3-.6 -5 .3 -4.7-.6 -5 1.2 -6.7 .1 -7.3-2.1 -2.7-1.5 -3-2.9 -1.3-2.3 -.7-3 -.2-24 .7-4.3 -.2-4 .6-2.4 0-6 1.4-2.6 2.1-2.1 3.6-2 5.4 0 1.6 .5 2.4-.3 1.6-1.2 2.4-.7 5 .3 2-1.6 3.3-1.4 2.3 0 4 1.6 6-.2 2.4 1 6.3-1 3.7 1.3 1.9 1.4 3.9 5.4 1.3 3.3 0 2.7 -1 3.3 1.3 5.7 -.1 9.6 .6 6.7 -.5 14 -1.6 4.7 -2.5 2.4 -3 1.4zM1100.1 2309.8l4.4-3.3 -2.9-1.2 -3 0 -3 1.3 -1.2 1.2zM1112.8 2307.8l.4-.5 -1.6-.7 -.9 .2zM1088.5 2310.2l3.3-2 -3.6-.2 -2.5 1.2 .2 .5zM1080.8 2309.8l-.4 0zM1070.1 2313.8l.9-1 -.1-.5 -1.2 1.5zM1129.8 2321.5l.3-4.3 -1.9-3.6 -.2 3.9 1.2 3.9zM1069.5 2315.2l.1-.9 -.6 .5zM1069.1 2315.8l-.4 0zM1083.5 2367.5l-1.9-.9 -1.2 .6 1.5 .5z"/><path fill="#0F7BA2" fill-opacity="0.133" fill-rule="evenodd" d="M1121.6 2367.6l-4-.2 -3.7-.9 -5 .3 -2.3-.5 -.7 .2 3 .3 -1.7 .5 -4.3-.3 -3 .4 -6.7-.8 -2.3 .8 -5.7 .4 -4.3-1.6 -2.3 .6 -4.4-1.2 -4-2.8 -2.2-4 -.9-4.6 0-20.4 .9-5.6 .3-8.4 .9-1.2 .4 .3 .7-1.4 0-1.3 -.4 .6 -.3-.3 .2-1 2.2-3.3 1.6-1.3 .6 .7 1.4-.7 3 0 .3-.7 .7 .3 2.6-.6 2.4 0 3.3 1 6-3 .3 .6 3 .5 2.4 1.2 1.3 0 .7 .7 1.4-1.7 -.7-.4 1.3-1.1 1.6-.5 -.4-.4 .4-.2 2 .6 -.3 .6 2 3.7 0 2.7 .3-.6 .4 .6 2.3-5.6 3-1.5 1.3 .7 -.7 .4 2.1 2.4 6-.4 1.6 .7 -.2-.4 .6-.6 1.3 1.3 1 1.6 -.1 5.7 1.7 4 .1 2.7 1.3 6 .5 14.3 -.4 12 -1.1 3.3 -6 4.7 -.7 .7 .7 .3 -.3 .3 -2.4 .4zM1108.0 2313.2l0-1.7 -1-2.3 -1.1-1.4 -1 .4 -1.7 1.6 -.7 1.7 2.7 .4zM1116.3 2310.2l-1.4-1.4 -.7 .4 1 1zM1102.2 2309.4l0-.5zM1075.6 2310.4l-1.3-.2 1.6-.6 1 .2zM1124.9 2310.4l0-.5zM1074.2 2310.8l0-.6zM1126.6 2314.8l-.3-2.3 -.7-.7 -1.7-.7 -3.7 0 4.4 1.8zM1071.3 2316.2l5.7-4.4 -1.8 0 -2.6 1.3 -1.4 2.1zM1129.9 2361.4l0-.5z"/><path fill="#0F7BA2" fill-opacity="0.174" fill-rule="evenodd" d="M1105.9 2307.4l-.3-.3zM1087.2 2367.4l-3-.3 -2.3-1.1 -5 .1 -3.7-1.2 -3-2.5 -2-3.6 -.9-4.6 -.1-20.4 1.2-8.3 .7-1.3 -.6-2.7 2.1-4.1 2.4-2.2 4.7-3 .7-1 5.8-1.1 1.6 1.1 -.2 1 .3-.6 .7 .3 2.6-1.2 .8 .5 3.2-2.6 4.4 .9 2.9 1.3 .4 .8 1 0 .3 .6 3.4 .5 3.6 1.8 2.4-3.5 0 1.3 2.3-1 .3-.7 1.6 .6 -.3 .6 .7 .3 .8-.3 -.1-.8 1 0 5.2 2.2 1.4 1.6 .4 .4 .7-.2 1 1.3 .6-.7 3.5 15.9 .5 14 -.4 12 -.6 2.1 -2.1 2.6 -5.5 3.9 -1.1 .1 -.3 .6 -3 .3 -4.3-.8 -7.3-.4 -3 1 -3.4-.8 -1 .7 -6-.5zM1113.2 2309.7l-.7-.5 .4-.5 .6 .5zM1091.2 2310.1l-.4-.3zM1112.6 2310.1l0-.5zM1090.6 2310.4l-.5-.2zM1112.2 2310.4l0-.4zM1089.9 2310.7l-.4-.2zM1111.9 2311.1l0-.8zM1084.7 2312.2l-.7-.7 -.9 0zM1086.2 2311.7l0-.4zM1126.6 2312.3l0-.6zM1119.4 2312.2l-.9 0zM1126.9 2312.7l0-.4zM1105.0 2313.8l-.9 0zM1106.4 2314.2l-.9 0zM1124.2 2314.4l0-.4zM1124.6 2314.7l0-.4zM1124.9 2315.1l0-.5z"/><path fill="#0F7BA2" fill-opacity="0.218" fill-rule="evenodd" d="M1094.9 2309.5l-.6-.3zM1092.6 2310.1l0-.4zM1095.9 2310.5l-.9-.7 1.7 0zM1096.9 2310.5l0-.5zM1083.6 2311.0l-.4 .1 0-.5zM1118.9 2366.6l-12.3-.9 -4 .8 -1.7-.8 -3.3 .8 -6-.5 -4.4 .8 -6.3-1.3 -3.9 .3 -2.8-.8 -3-1.9 -2.3-3.1 -.9-2.8 -.8-11.4 .5-14.6 1.4-5 0-4.4 1.7-4 4.4-3.8 3.4-1.9 1.4 .1 -.7-.7 .6-.3 .7 .5 1.6 0 2 1.5 1 0 3-1.9 3 .6 -.2-.4 1.6-.9 .3 .2 -.5 .4 .7 .6 -.5 .4 1 .4 3 0 .6-.7 1.4 .7 .6-1.4 .7 0 2.6 1.6 .4 1.1 1.7 .7 2.6 .4 1-.5 2 .4 .7-1 .3 1.3 1.4 0 2-1.4 .6-1.3 2.7-.3 1 1 2.6 .6 -.3 .4 1-.3 1.3 .6 3.1 2.9 .3-.5 1.7 4.9 .6 5.7 1.4 5.3 .4 19 -.6 5.7 -1.3 3 -2.5 2.7zM1080.9 2311.5l-.6-.3 .6-.3zM1096.9 2311.8l-.6-.6 .3-.3 .6 .3zM1079.2 2312.0l0-.4zM1117.6 2312.5l0-.5zM1097.0 2313.5l.2-.4 -1 .4zM1110.9 2313.8l0-.6zM1117.3 2313.5l-.7 0zM1110.6 2314.1l0-.5z"/><path fill="#0F7BA2" fill-opacity="0.269" fill-rule="evenodd" d="M1087.9 2312.6l-.5-.1 .5-.4zM1082.6 2312.9l-.8-.1 .4-.4zM1118.6 2366.2l-1.4 .2 -2.3-.8 -16.3 0 .2-.4 -.6-.2 -1 .9 .3-.7 -.9-.2 -.7 .5 -1.3-.4 -1 .8 -3-.2 -2.7 .7 -1.7-.2 .7-.4 -3-.4 -.7 .4 -3.6-.7 -2.7 .2 -2.7-.8 -3-1.8 -2-2.9 -1.5-4.6 -.4-9.4 .3-11.3 .6-4.7 1.4-3.3 .3-5.7 .9-2.3 2.8-2.2 .3-.8 2.3-1.7 2-.7 4.7 1.1 .7-.6 1 .2 .6 .5 2-1.5 -.1 .7 .8 .5 .6-.5 -.6-.4 2-.6 1 1.3 3.7 0 2.6 .7 .7-.7 1 .5 1.3-.2 .3-.6 -.3-.3 .7-.9 2 2 2.7 1 2.3 0 .7-.5 3 1.1 2.6-.8 1.4-1.5 1.3 1.2 1-1 1 .7 2.3-.1 5.5 3.4 1.5 3.4 .7 6.3 1.4 4.3 .6 20 -.7 5.8 -1.1 2.2 -2.5 2.9 -1.7 1.2 -3.9 1.3 .2 .3 -1.3-.1 -.6 .1 .7 .3 -1.1 .1 -.6-.4zM1099.9 2313.0l0-.4zM1099.6 2313.6l-.4-.5zM1079.2 2314.5l-.9 0zM1127.4 2322.5l.4-1 -1.2-1.9 -.3 1.6zM1117.4 2365.8l-.4 0z"/><path fill="#0F7BA2" fill-opacity="0.324" fill-rule="evenodd" d="M1113.6 2365.5l-3-.4 -9.7 .2 -4-.8 -4.3 .9 -11.4-.3 -2.3-.6 -3 0 -2-.9 -3.1-2.4 -2.1-3.4 -1-4 -.3-8 .5-13.6 1-3.7 1.5-2.7 -.5-2.5 .7-.3 .6 1.1 1-3.8 1.5-1.8 -.3-.3 1.9-1.4 -1.1-.1 .3 .5 -1.3 .9 .7-1.7 3-1.2 4.3 0 -.2-.4 .6-.4 3.6 .5 1-.8 1.4 .4 1.3-.6 1.7 .7 3-.2 1.6 .7 2.7 .1 1-.5 2.7-.1 -.4-1.3 1.4 1.3 3 1.4 3.3-.6 2.3 1 4.4-.6 1 1.1 1.9-.4 2.6 1.3 -2.5-.4 0 .8 2.3 1.7 4 .7 .7 1.5 1.6 1.5 .4-.4 .6 3.6 .4 .2 1.5 4.8 .7 18 -.8 7.4 -2.6 3.6 -1.6 1.4 .2 .6 -1.1 .8 -4.3 1.3 -2-.2 -1.7 .8zM1073.2 2318.7l0-.4zM1070.9 2320.4l0-.8z"/><path fill="#0F7BA2" fill-opacity="0.391" fill-rule="evenodd" d="M1112.2 2365.2l-1.6-.5 -4.4 .3 -3-.4 -1.6 .4 -5-.9 -4.7 .9 -6.3-.5 -4 .2 -7.7-1.5 -4.3-4.2 -1.5-3.8 -.5-4.7 .6-19.3 2.4-5.7 1.2-1.3 .4-2 2.7-1.4 .7-2.3 1.3 0 2.5-2 -.2-.7 -2 .4 -.3-.4 1.7-.3 1.3 .5 6.7-1.3 2 .4 0 .5 3.6-.9 1 1.7 5.7-1.1 1.3 .7 1.7-.2 .3-.7 1 .7 -.3 .4 .7 .8 1 .3 -.2-.5 1.2-.6 1.5 .3 -.5 .3 .3 .4 1.7-.7 .3 .5 1.7-.6 2.3 .6 1.3-.4 .4 .7 3 .5 -.3 .4 1.5 1.6 5.9 1.7 .6 2.7 1.9 1.6 1.7 3 1 3.7 .8 13.7 -.5 9.2 -2.1 4.1 -4.2 4.1 -3 .9zM1076.6 2316.2l-.5 0zM1075.9 2318.1l-.7-.3 .7-.8 .5 .5zM1106.4 2317.5l-.8 0z"/><path fill="#0F7BA2" fill-opacity="0.464" fill-rule="evenodd" d="M1115.6 2364.5l-18.7-.6 -7 .7 -4-.6 -5 .2 -3-.7 -6.7-3.3 -2-2.5 -1.3-4.1 0-15.8 .7-5.9 .3 .3 .3-.6 1-4.4 2-3.2 3.7-3.4 4.9-2.4 1-2 2.4-.6 3.7 .3 1 1.1 2.3 .3 .7-.5 1.3 .3 4.7-1.1 .7 1.2 2-.1 0 .4 1-.7 3.3 1.7 1.5 0 -.2-.3 2-.5 1 .8 1.4-1 3 .1 .8 .6 -.6 .3 .4 .3 1.4-.8 .6 .5 -.6 .7 4.7 1.3 3.5 2 -.3 .3 .6 0 4.2 5.7 .9 4.3 .4 0 1 14.7 -.5 7.7 -1.9 3.7 -3.6 3.6 -2.4 1.4zM1098.9 2316.3l-.5-.1zM1086.8 2316.8l-.2-.4 -.4 .4z"/><path fill="#0F7BA2" fill-opacity="0.567" fill-rule="evenodd" d="M1089.9 2364.2l-10.3-.6 -7.4-3.2 -2.6-2.7 -1.7-5.3 0-11.7 .3-5 2.7-8.9 5.2-5.6 3.8-1.3 2-2.2 .5 .5 -.2 .7 1.7 .3 1.7-1.3 2 .4 1.6-.5 1.3 .4 -.3 .8 .7-.9 1 .2 .7-.6 1 .2 3-.8 2.3 1 3.3 .1 4.7 1.3 1-.5 2 .5 .7-.5 -.3 .5 .6 0 .7-.8 7.6 2.1 2.4 1.2 1.3 1.9 .9-.1 2.3 2.4 1.5 2.4 0 1.2 1.3 2.7 1 4.3 .4 16.4 -.4 2 -2.7 4.4 -2.6 2.6 -5 1.5 -14.7 .4 -12-.4zM1127.9 2330.0l0-.4z"/><path fill="#0F7BA2" fill-opacity="0.846" fill-rule="evenodd" d="M1103.9 2363.6l-10.3-.6 -11.7 .5 -7.2-2.3 -4.5-3.6 -1.6-3.2 -.6-3.9 .3-13 .7-3.3 2.9-6.7 1.7-2.8 2.6-2.2 4-1.3 .7-.7 1 .8 1-.1 -1.2-1 .2-.4 1.7 .8 2.3-1.1 1.7 1 2-.3 1.6 .6 1-.5 .4 .5 1.8-.6 -.5-1.1 5.3 .9 .7-.6 2.7-.5 4.3 2 2.3-.7 4.4-.1 2 .9 2.6 0 .5 .2 -.6 .3 .3 .3 7.3 4.7 1 3 2.3 4.7 .9 5.6 .4 10.4 -.4 3.5 -1.2 3.1 -3.5 4.3 -5 1.8zM1092.9 2319.9l-.7-.4z"/><g fill="#0F7BA2" fill-opacity="0.075" stroke="#0F7BA2" stroke-opacity="0.075" stroke-width="1.2"><circle cx="1084.0" cy="2303.4" r="8.6"/></g>
<path fill="#43B284" fill-opacity="0.080" fill-rule="evenodd" d="M1547.0 2321.5l-4.3 0 -3-1.3 -1.3-1.3 -2.4-.4 -2.3-1.3 -3.8-3.5 -1.4-2.4 -.6-2.6 .6-6 .6-1.4 -1-3 0-2.6 .3-3.7 -.3-36 .4-4 -.6-12.3 .5-2.4 -.2-6.6 1-4 -.7-8.7 0-9.3 .6-2 -.6-3.7 .7-2.7 1.6-2.3 -2.3-4 0-4.3 1.4-3 2.5-2.5 3-1.4 3-.3 1.1-2.2 2.2-2.1 2.3-1.4 5-.3 3.4 1.7 3-1 3.6 0 4.4 2 4-2 4 .2 2.3-1.2 5 0 3.7 2 1.8 2.1 1 2.7 3.6 2.7 1.7 2.6 .7 3 -.4 2.7 -1.3 3.3 1 2 0 4 -.7 2.4 1 2.3 0 3.7 .7 1.6 0 3.4 -.7 2.3 .4 6.7 -.6 2 1.6 3.6 .3 5.4 -.7 7 .8 20.3 0 9.3 -.7 8.4 .7 13.6 -1 7.7 .6 6 -1.7 4 -2.1 2.2 -2.7 1.3 -4.3 .3 -2.7-.6 -1.7 .6 -3 0 -2.6-.9 -2.4 .9 -4.3 0 -3.7-1.9 -2.6 0 -.9 1.4 -2.5 2.2 -4.3 1.1z"/><path fill="#43B284" fill-opacity="0.098" fill-rule="evenodd" d="M1545.7 2321.1l-3.3-.3 -9.7-4.7 -2.8-3.4 -1.3-3.7 0-4.3 1-2.4 -1.3-4 -.1-2.6 .5-4 -.4-4.7 .4-1.3 -.6-3.4 .1-26.3 .5-4 -.5-2.3 -.1-9 1.5-18 -.1-7.7 -.6-4 .3-8.7 1.9-4 -1.9-4.3 0-4.3 1-2.4 1.8-2.1 3-1.7 4.2-.8 2.2-3.5 3.6-2 4.4 0 3 1.3 2.6-.6 4 0 3.7 1.9 1 0 3.7-1.9 3 0 4.6-1.4 2.4 0 3 1 2.7 2.5 1.6 3.2 4.1 3.5 1.7 4 0 2 -1.4 3.3 0 2 .7 1.3 -.2 6.4 1.1 5.6 0 7.4 -.4 1 .5 2 -.3 5.6 1.6 9.4 -.5 7.3 .6 4.3 -.2 12 .4 3.7 -.4 3.7 .4 5.6 -.8 9 .5 1.7 .3 11.3 -1.1 6.4 .2 7.6 -1 2.7 -1.5 1.8 -1.6 1.3 -2.7 1 -11 0 -1.3-.6 -6.4 1 -5.6-2.2 -2.9 .7 -2.1 2.5 -1.7 1zM1583.9 2182.7l-1.7-3 -2.5-1.9 -2-.7 -3 0 -1.6 .9 1.6 .9 3 3 3 .9zM1542.2 2183.3l3.5-1.8 3.3 0 2.5-2.5 -1.1-.9 -2.4-.6 -4 .6 -1.6 1 -2.6 3.2 .6 .9zM1556.6 2183.0l2.8-1.1 1.6 0 1.2-1.6 -2.8-1.8 -2.7-.4 -2.7 .7 -.2 .5 1 1 1 2.7zM1564.6 2180.3l4.1-.5 1.2-1.1 -.5-.6 -2.4 .4 -2.6 1.3 -.3 .5zM1532.2 2196.7l.7-1 0-3.7 .7-2 1.3-2 2.9-2.3 .2-1.9 -2 0 -3 1.3 -2.2 2.2 -1 2 0 4.7 1 2.3 .6 .6zM1589.2 2195.0l.7-2 0-2.7 -.7-2 -3.5-3.5 -.6 3.5 2.7 4 .7 2.7zM1530.6 2201.0l1.3-2 -1.1 .7 -.7 1.3zM1530.1 2211.7l-.4-1.6 -.2 1.6zM1590.2 2216.0l.4-1.3 -.6-.6 -.4 1.2zM1530.2 2216.7l-.2-.6 -.2 .6zM1530.2 2311.3l0-1.3 -.8-1.9 .1 2.6zM1585.2 2315.3l2.5-1.1 1.9-1.9 1.3-3 -.2-1.2 -.9 2.2 -2.1 2.8 -2.7 1.7 -2.2 .5zM1568.2 2315.7l1.7-.7 -1.2-1.1 -5.8 .8 2.8 1.2zM1577.6 2315.3l-.4-.6 -.8-.2 -3.3 .8zM1552.9 2318.0l1.5-.5 2.2-1.8 -3.2 .4 -1.3 1.9zM1537.2 2317.3l-.4 0zM1546.2 2320.3l2-.6 -1.5-.8 -2.3 .6 -4.3-.5 3.6 1.5z"/><path fill="#43B284" fill-opacity="0.133" fill-rule="evenodd" d="M1572.0 2178.6l-1.3-.3 1.3-.2zM1553.0 2179.6l-.6 0 0-.5 .6 0zM1547.7 2318.5l-2 0 -.7-1.2 -1.6 0 -1.4 .6 .6 .4 -.2 .3 -3.4 0 -2.9-2.6 -.4-2.3 -1-1 -3.3-2.4 -.4 .6 -.9-2.9 .3-.5 .3 .5 .7-1.7 -.4-2.3 -1.4-2.3 -1.2-6 .6-4.7 -.8-10 .6-17 -.5-8 .5-4 -.6-11.3 1.5-17.7 .7-1.7 -.3-.3 1.6-2.7 0-1 -1-.3 0-1.3 .7 0 1-1 -1-2.4 -.7 0 -.1-2 -1.3-3.3 .1-2 1.3-2.6 .7 0 1.3-1.3 -.1-2.4 .6-1 .2-1.7 1.3-2 -.3-1.7 .7-2 -.7 0 .2-.6 4.4-5 1 .3 .7-.3 0-.6 2.7-.4 0 .7 2 0 3 1 .7-2.4 -.4-1 1.7-.6 .3 1 2 .7 1.7 1.6 1-1 .6 .4 0 1.6 .7 .7 1.3 0 2.4-2.7 0-1 2-1.5 .7 .1 -.1-.9 1 .6 6-1.3 0 .6 2 .4 1.7 1 2 .4 .7-.6 1.6 1.2 -.7 .6 1.1 .4 .6 0 .4-.8 2.2 .4 0 .7 3.2 3.7 .4 1.6 1.8 3 -.4 1.4 .7 1.3 .4-.6 .7 1.7 .6 .2 -.5 2 .6 3 -.3 1.4 .8 4.6 -.3 1.4 1.1 3.3 -1.1 3 .3 3 .7 0 0 9.3 1.3 6.7 .4 5 -.6 5 .6 4.3 .1 28.4 -.6 5.6 .6 9.4 -.5 6 -.9 3.3 .4 0 0 4 -1.1 3.7 -2.3 3.2 -.6-.2 .6-.8 -2 1.4 -2.3 .3 -2.1 1.4 .7 .3 -.3 .3 -2 .7 -4-1.4 -4.7 1.4 -1-1 -2.6-.7 0-.6 -1 0 -.4 .6 -1.3 .4 -3 .3 -2-.7 -2.7 1.3 -3.3 .4 -1.3 1 -.7-.3 .3-.4 -2 .4 -2.4 2zM1567.1 2183.7l.6-2.4 -2.1 .4 -.3 .3 .3 1zM1551.1 2187.3l1.9-.9 .7-1.4 -1.7-1.4 -2-.7 -.7 1.4 0 1.7zM1576.7 2184.0l-.7-1.1zM1539.4 2184.1l-.7-.4 .3-.3 .6 .3zM1584.7 2184.3l-.6-.3 .3-.6 .6 .6zM1581.7 2185.3l-1.3-1.3 -1.4 .3zM1547.7 2186.7l-1.3-1.1 -1.4-.3zM1535.4 2193.3l3.3-2.3 -.7-3.7 -2 2.4zM1534.4 2191.6l0-.9zM1585.7 2193.0l-.3-1.7 -.1 1.7zM1587.0 2193.6l0-.9zM1532.0 2198.3l-.4-.3 .4-.5zM1531.7 2201.6l0-.5zM1531.4 2201.9l0-.5zM1531.4 2204.0l.6-1.1zM1589.7 2208.9l0-1.2zM1530.0 2214.8l-.4-.8 .4-.8zM1532.1 2216.3l.3-.4zM1530.0 2220.6l-.4-.9 .4-1zM1529.4 2306.5l-.3-1.2 .6-1.6 .3 .6zM1534.4 2311.7l0-1.4 -2.4-3.3 -.7 1.7 .3 1zM1585.7 2311.3l3.4-2.6 .3-1.4zM1531.4 2311.3l0-.6zM1587.0 2312.3l0-.6zM1580.1 2314.0l.3-.3 -1.8 0zM1532.0 2314.6l0-.5zM1533.7 2315.9l-1.6-1.2 .6-.3 1.3 1.3zM1554.4 2314.7l-.4 0zM1547.1 2317.3l2.3-1.6 -2.4-.7 -1.7 1.7zM1580.4 2315.5l0-.4zM1541.7 2317.3l1.4-.6 -.4-1 -3.1 1.3zM1539.1 2317.7l-.5-.4zM1550.4 2319.1l-.8-.1 1.1-.6 .3 .3z"/><path fill="#43B284" fill-opacity="0.174" fill-rule="evenodd" d="M1569.0 2181.6l-.5-.3 .5-.9 .6 .3zM1545.7 2315.4l-.7 .2 0-.7 -1 0 -.3 .7 -2.3-.2 -.4-.8 -2.3-1 -1.7-.4 -.6 .7 -.8-.6 -.5-1 .7-1 -.8-.4 -.6-1.6 -2.8-3.3 .1-1 -2.1-4.3 -.6-2.7 .2-7.7 -.9-9.3 .6-17 -.4-8 .4-2.7 -.6-11.6 1.8-18.7 2-4.3 0-1.4 1-1.3 -1-3.3 -.9-.7 .2-1.3 -.6-1.7 .6-.6 .4 .3 .6-3.7 -.4 .2 -.2-.5 1.3-2 -.3-1.4 .6-1.6 -.5 0 0-1 .8-1 0-1.6 2.7-2.9 3.1-1.9 -.4-3.6 .7 .6 .7-1.6 -.4-1 .6-.6 .4 .2 -.3-.3 .6-.6 1 0 2.4 1.6 -.2 .7 1.6 4 .8 .4 1.4-1.1 0-1.6 .3 .4 .3-.7 .7 .5 4-1.9 1-1.5 1.2 .8 .5 1.8 1 0 1.6-1.7 .6 .2 -.3 .7 .4 .1 1.4-3.4 -.3-.7 1.2-.9 1.7 0 0-.9 .9 .8 -.7 .7 .8-.3 2.3 2.3 1-.6 .4 .7 2.3-.7 1.1-1.1 -.1-.6 .7 0 1.2 .6 -.2 .4 1.3 1.7 1.3-.7 2 0 -.1 .6 .7 .3 -.7 .7 .5 2.1 3 0 1.6 .7 1-1.4 .6 2.6 -1.4 0 -.6 1 0 1 .8 .4 1-.3 .6 1.2 1.4 .8 2.1 3.2 -.3 3 -.6-.3 0 2.3 1 1.4 .4 2 -.8-.4 .4 1 -.7 1.4 .5 1.1 .3-.7 .3 .3 0 .9 .6 .7 -.6 .6 -.4-.3 0 2 .4 .8 .6-1.1 -.6 5.3 .8 2 -.3 2 .5 5.7 1.8 11.3 -.6 5.7 .7 12.7 .1 20 -.6 5 .4 11 -.7 6.3 -1.2 2.7 .1 .7 .4-.3 .4 .6 0 2 -.8 .2 0 1 -3.6 4.2 -2.5 1.6 -.1 .6 -1.8 .8 -2.6-.1 -1.5 .3 -.2 .6 -2.7-.7 -3 1.2 -.4-.1 .4-.7 -2 .3 -3-1.1 -3.3 .9 -4.3-.5 -.7 .8 -2.7 .6 -1.9-.6 2.1-.3 -1.8-.8 -.5 .1 .3 .3 -.5 1.1 -1 .2 -.3-1.4 -.7 1 -1 .4 -.7-1 -1.6 0 0 .6 -.7-.3zM1574.7 2182.9l-.9-.2 .9-.3zM1564.7 2184.0l-.7-.4 -1.4 .4zM1573.5 2185.7l.3-.4 -1.3-1.6 -1.3 .6zM1555.4 2185.6l0-.8zM1538.7 2186.8l-.6-.1 .9-1.1 .6 .4zM1545.5 2190.7l-.4-1.7 -1.3-2.3 -.8-.5 -1.8 .1 -1 2.4 .2 1.1 .6 .6zM1549.0 2187.6l-.5-.9 .2-.6 .5 .9zM1545.0 2186.9l0-.5zM1583.4 2187.6l0-.5zM1548.7 2188.2l0-.4zM1559.4 2188.0l-.4 0zM1552.1 2189.3l-.5-.3zM1582.1 2190.7l.7-1.4 -1.1-.4 -3.3 0 -.4 .4 2.4 1.4zM1554.1 2193.3l.9-2.7 -1.7 2.1 .4 .7zM1536.8 2194.7l2.2-.3 .4-.7 -1-.5zM1586.7 2200.3l0-.7 -.4 .4zM1530.7 2208.6l-.9-.6 -.1-1.7 .7-1.2zM1532.5 2209.3l-.1-.7zM1587.8 2210.7l-.1-1.4 -.7-.7 0 1.4 .4 .8zM1589.7 2211.9l-.5-.9 .5-.6zM1551.1 2313.0l-.9-.3 .2 .4zM1541.8 2314.0l-.3-1 -1.3 .3 .8 .8zM1571.1 2313.3l-.5 0zM1544.5 2314.3l1.6-.6 -1.4-.1 -.8 .7zM1538.0 2316.9l-1.2-.9 -.1-1.9 1.9 2.2zM1550.7 2315.2l-.9-.2 .6-.6zM1553.0 2315.1l-.5-.1zM1544.7 2316.6l-.6-.6z"/><path fill="#43B284" fill-opacity="0.218" fill-rule="evenodd" d="M1565.4 2186.0l-.7-.7 .3-.6 1.3 .6zM1557.7 2314.0l0-1.1 -3.6-.6 .3-.3 -2.4 .6 -1-.4 -2 .6 -1.3-.3 -.7 1 -1.3-1.5 -1.7 1 -1.6 0 -2.3-.7 -.4-.3 .7-.3 -.7 .3 -1-.7 -.7 .3 -.3-.6 -1 .8 -4-5.1 -1.6-3.4 -1.4-5.3 .3-.5 .7 .8 0-2.3 -1-1.4 .1 2.4 -.4 .5 -.4-1.5 .4-5.3 -.9-8.7 .5-16 -.4-9 .5-3.7 -.5-12 .6-8 1-3.6 .1-5.7 .7-2.6 2.4-4.4 0-4.3 -.7-2.4 1-5 0-2.6 2-1.7 -.3-.7 -1.3 0 .3-1 1.5-1 -.4-.3 .6-.7 2.6-1.3 1.7 .4 .6-1.4 2 1.1 1.4-.4 1-1 -.4-.7 -3.3-1 -.6-.7 .3-.3 -.4-.8 1 .5 3.7-.3 1.3 1.3 .4-.7 .3 1 .3-.3 .7 .8 1.3-.5 -.5-1.3 .5-.3 .7 1.3 1.3-.4 -.4 1.4 -.2 .3 -.4-.7 -.4 .7 2 0 -.6 .4 2.7-.6 1.7-2.8 .9 1.3 -1 1 .7 .4 -.4 .3 .8 0 1-.7 .3-1 -.6-.3 .6-1.3 1 0 -.3-1.1 -1.3 .1 .3-1.2 1.6 0 .4-1.1 .6-.4 .4 .5 1-.5 0 .7 3-.3 .6 1 1 0 .7-.4 .1-1.3 -1.1-1.4 .3-.4 2.3 1.4 .3 1 -.6 0 .4 .7 2 0 1.6 1.1 .7-.1 0-1.6 1.6-.7 -.1 1 1.2 1.3 .6-1 .6 .3 -.3 2.4 1 1 -.6 .3 1.7 .3 1.9-.6 .7 1 2 .3 1.4 1 1.4 2 -.1 1 -2-2.2 -1.1 .2 .4 2 1.3 .7 -.3 1 .6 .3 .1 2.3 .6 .4 -.3 1.6 1.3 2.7 0 1.7 -1 2 2.7 5 -.4 2.3 .7 2.3 -.4 2.7 .6 1.3 -.1 2.3 -.4-.6 0 .3 1.1 3 1.3 8.4 -.4 9 .7 4.3 .1 6.3 -.3 36.7 -1.7 8.3 -.1 4 -3.4 4.4 -3.9 2.9 -5.7 .7 -7-.5 -.7-.5 .4 .7 -.4 .3 -1-.7 -2.6 0 0-.6 -1-.5 -1.4 .8 .6 .4 -2.9 .6 -1.3-.4zM1567.7 2185.3l0-.4zM1561.0 2186.0l0-.8zM1576.7 2185.8l-.6-.5 .5 0zM1574.7 2186.6l0-.6zM1573.4 2187.3l-.7-.6 .9 0zM1550.7 2189.1l-.5-.1 .5-.4zM1563.7 2189.3l1-.7 -1.7 .1zM1549.0 2189.6l0-.4zM1549.7 2191.0l-.9-.7 .9-1.1zM1556.4 2191.0l0-1zM1548.4 2191.6l0-.4zM1580.0 2192.0l-1.3-.7 1.3 0zM1547.7 2192.3l-.3-.3 .6-.6 .3 .3zM1546.7 2192.3l0-.4zM1548.4 2192.6l0-.9zM1550.7 2192.3l0-.6zM1544.7 2193.0l-.4 0zM1540.4 2194.5l0-.8 .6 0zM1549.7 2194.0l-.4 0zM1535.4 2196.0l0-1.1zM1540.0 2195.1l0-.4zM1552.1 2196.3l.6-.3 -.3-1 -.8 .3 .7 .4zM1539.4 2196.0l-.7-.3 .7-.3zM1534.7 2196.4l0-.5zM1587.0 2197.3l0-.6zM1587.7 2198.6l-.6-.3 .6-1.1zM1534.0 2199.3l-.5-.3 .5-1zM1535.0 2198.6l0-.4zM1584.0 2198.7l0-.4zM1534.0 2200.0l0-.6zM1533.7 2202.0l0-2.3 .5 1zM1585.1 2201.0l-.4-.3zM1586.7 2202.3l0-.4zM1533.0 2206.6l0-.9zM1532.0 2211.0l0-.5zM1588.0 2223.3l0-.3zM1534.0 2307.3l-.3-.7zM1582.1 2312.0l-.1-.4 -.7 .4zM1564.0 2312.6l0-.6zM1565.0 2313.0l-.6-.3 .6-.3z"/><path fill="#43B284" fill-opacity="0.269" fill-rule="evenodd" d="M1561.4 2188.7l-.8-.4 .8-.2zM1568.7 2188.4l-.4-.1zM1577.0 2312.7l-7.6-.7 -2.4 .3 -1.3-.3 .3-.5 -3-1.3 -1.9 1.8 .6 .7 -2.7 0 -1.6-.9 -4.7-.2 -1 .4 -1.7-.1 -1-.7 -1.6 .6 -1-.5 -2 .5 -1.7-.3 -.7 .7 -4.3-2.1 -.8 .2 -1.5-1.1 -.7-1.2 .2-1 -2.5-2.1 -1.4-2.6 -.4-2.6 .7-2.7 -1.6-3.7 -1-11.3 .5-17.3 -.5-17.7 .7-13.3 1.1-4.4 0-3.6 1.2-2.7 -.2-1 .9-2.7 .6 0 .3-1.6 1-1 -.6-1.4 .3-1.6 -.7-3.7 .4-2.7 .8-1.6 -.5-2.4 1.7-1.4 .3 .5 .7-.5 .2-.6 -.5-1 1.6-2 .7 .3 1.7-.5 1.3-.5 .7-1.1 2 0 .4 .8 1.2 .2 1.3-.8 .4-1.1 1.3-.6 1.1 .3 .3 1 .7 0 .3 1.3 1.3-.5 1 .3 .6-1.4 -1.2-.7 .2-1 .7 .3 1.7-.7 .7 .4 -.6 1 1.2 1 -.1-1 .7-.3 -.7-.3 2.6-1 -.2-1.7 .7-.7 .4 .3 .3-.7 2-.9 1 .1 2-.8 .4 .7 -1.7 1 .6 1.3 1.8-1.3 .1-1.3 -.6-.4 2.7-.7 .7 .5 1.3-.3 2.4 .8 1.3-.1 .7-.5 .4 1.3 1 .7 .3 1 -.5 .3 .5 .7 3.3-.4 1.7 .7 -1.4-.2 -1.5 .9 .9 .7 -.3 .3 .6 1.3 1.4 1.7 2.6 1.7 -.6 1 .5 1 1.5 .6 -.3 1.4 1 4 -.5 2 1.4 3 .1 1 -.6 .6 .5 1 .4-.3 -.1-1 .8 1 -.8 .7 1 2.6 -.5 3.7 1.2 2.1 -1.4-1.7 -.4 1.3 1.1 1.2 .1 1.4 .9 1.4 -.1 3.6 1.4 5 -.3 8.7 .7 4 .3 27 -.6 5.7 .3 10 -1.4 6.6 0 1.7 -1.6 6.3 -1.7 2.4 -.9 .3 .6-1.3 -1.3 1.3 .6 .5 -1-.4 0 .6 -.7 0 -1 1.2zM1560.7 2189.7l0-.4zM1560.4 2190.4l0-.5zM1566.6 2192.3l.1-.6 -.6 .6zM1560.6 2193.3l0-.6 -.8-.4 0 1zM1547.0 2194.0l0-.4zM1548.0 2195.2l-.5-.5 .2-1.1 .7 .4 0 .6 .3-.3zM1554.9 2195.3l-.2-.6 -.6 .3 .3 .6zM1582.7 2196.4l-.5-.4 .5-.7zM1545.7 2196.0l0-.4zM1555.8 2196.0l-.4-.6 -.3 .3zM1548.4 2196.0l-.3 0zM1558.9 2197.3l-.2-.9 -.8-.1 .1 1zM1538.4 2197.7l-.5 0 .8-.4zM1536.4 2201.4l0-.5zM1588.1 2219.3l-.1-.9zM1530.8 2233.0l-.1-.8 -.5 .8zM1591.0 2240.0l-.3-.5 0 .7zM1588.9 2303.7l-.5 0zM1588.6 2304.3l-.4 0zM1586.8 2307.0l-.4 0zM1536.9 2309.0l-.5-1.1 -.7-.2 .1 1.3zM1537.6 2309.3l-.4 0zM1566.8 2311.0l-.9-.3zM1562.7 2312.0l-.9 0 .9-.4z"/><path fill="#43B284" fill-opacity="0.324" fill-rule="evenodd" d="M1576.0 2312.6l-4.3-2.7 -1.7 .2 -1.6-1.1 0 .6 -.8-.3 1.7 1.7 -.6 .3 -1-.4 -1.3-1.7 -1.3-.2 .1-.7 -.8-.4 -1.4 .4 .2 .4 -.5 .5 -.3-.8 -1 0 -.3 .9 -.9 0 -1.2 1.6 -1.6-1.3 -4 1.7 -.8-.3 -.2-.8 -.7 .4 -.3-.4 -.2 .8 -.8 .3 -2.7-1 0 .9 -1-.9 -1.3 .6 -2.4-.3 -4.5-2.3 -.1 .5 -.7-.2 -.2-.6 -4.7-3.3 -.9-1.4 .1-.4 .5 .1 -1-1 -.4-2 .4-.3 .2-2.7 -1-2.3 0-1.1 -.7-.4 -1.1-11.2 .5-16.7 -.4-21.6 .9-2.4 -.5-3.3 .3-2.7 1.7-2.6 -.7-1.4 .2-4 .5-.3 -.5-.7 3.8-10 -.3-1.6 .6-.4 -.4-.3 .5-1.7 -1-1 -.3-2.3 .6-.9 .3 1 .5-1.4 -.1-2.4 2.6-3.6 1.4-.4 .3-1.2 .7-.4 -.7 .2 .1-.6 1.5-.7 .7 .2 1.7-1.3 2 .7 1.3-.2 1.3 .9 1.4-.8 .3 .3 -.2-1.4 .9 .1 -.2 1.9 .4 .3 -.2 .6 -.7-1 -.2 .4 1.9 1.8 1-1.5 .5 .4 -.2 .6 .8-.3 0-1.6 1.2-.5 1.3 1.6 1-.1 .5-.7 -.5-1.2 2 1.9 .8 0 -.1-.8 2.3-.1 .6-1.1 -.5-1.4 .6-.2 .3-1.4 1.2 .3 1.2 1.1 1.3-.3 .3 .9 2.5 0 .2-.9 .7 .4 .4-.5 -.3-1 .3-1 .6 .4 .3-.8 -1-.7 -.8 .1 .8 .1 .2 .5 -.9 .1 -.1 1.3 -.9 .9 -.6-.7 -1.4 .5 -.5-1.1 1.5-.1 .8-.9 .6-3.2 .6 .3 .4 1.4 2.3 0 .5 .2 -.2 .4 1 0 1.4-.5 0 1 1.8 .4 .8 .7 -1.1 .7 0 .6 1.6 1.4 .3 1.3 1.9-.6 -.1 1.9 2.1 1.1 .4 .9 -.9 1 .7 .4 -.2 .4 .3-.3 1.7 .6 .8 2.6 -.9 2.3 .8-1.2 .5 .2 -.6 2.4 .8 1.3 -.9 .7 .1 .6 .6 2 1.5 1.7 .2 1.3 -.3 1.4 .7 2.3 -.7 3.3 1.1 1.8 -.2 1.9 .7 .7 1.9 9.3 -.4 5.7 1 10 .1 17 -.5 11 .2 5.3 -.5 5 .3-.2 0 .5 -2 9.5 -.6 .2 -2 2.8 -.7 .1 -2.3 4 -1-.1 -3 2.7 -2 .2zM1563.0 2192.4l0-.6zM1568.0 2192.9l0-.5zM1568.0 2193.6l0-.5zM1561.4 2195.9l-1.7-.9 1.9 0 .3 .3zM1568.4 2195.6l0-.5zM1565.1 2198.0l.3-1.1 -1.4-.3 -.2 1.4zM1564.0 2197.6l0-.5zM1569.7 2198.0l-1.1-.3zM1553.0 2198.6l-.6 0 -.3-.6 1.3-.1zM1580.5 2198.7l-.1-.8zM1563.1 2198.7l.3-.5zM1539.0 2200.1l-.9-.1zM1534.7 2207.9l0-1.3zM1529.4 2242.2l0-.4zM1535.1 2304.3l-.7-.7 -.5 .4zM1555.1 2309.7l-.1-.8 -.9 .1zM1564.0 2310.1l-1.2-.8 .6-.6 .9 1zM1564.4 2309.6l0-.5zM1553.5 2310.0l-.5-.3zM1554.4 2310.0l-.6 0zM1569.7 2310.5l0-.4zM1569.4 2310.9l0-.5zM1558.4 2311.2l0-.4zM1560.7 2311.4l-.6-.4 .9-.2zM1559.7 2311.6l0-.4zM1559.7 2312.4l-.7-.1 -.3-.9 1.3 .3z"/><path fill="#43B284" fill-opacity="0.391" fill-rule="evenodd" d="M1574.4 2193.0l-.4 0zM1576.0 2194.3l-.3-.3zM1578.4 2311.0l-2.7-.7 -1 .9 -2.7-2.5 -.5 .3 -1.8-1.4 -1 .4 -1.3-.8 -1.4 .6 -2-1.2 -.3 .6 -4.3 .6 -1 1.2 -2-1.2 -1.4 .2 -1-.7 -2.3 2.3 -1.7-.3 .4-.3 -.4-.7 -2.3 .8 -.7-1.1 -.5 .3 .2 .7 -.7-.5 -.6 .3 -.7-.6 .7 1.5 -.4 .4 -1-.4 .3-1 -.6-.7 -1.3 .4 -1.7-.8 -3-.1 -1.5-.8 .2-.6 1.6 .6 1.3-.4 -1.6-.6 -1 .3 -.8-1 .4-.3 -3.2-4 -1.4-6.7 -1.4-1.7 -1.2-10 .5-17 -.4-19.3 1.2-5.7 -.4-4 .5 0 1.2-3.6 -.5-2 1-4.7 -.3-1 1.1-3.3 1-1 1-4 1.2-1 -1-2 1.2-1.4 -.9-.6 .9-2 1.3-.5 .6-1.9 -.3-.3 .9-.7 .1-1.3 -1-.3 1.2-1.7 -.7-.3 .2-.7 .3 .7 .4-.9 .9-.1 -.6-.4 5.7-.5 1.6 .9 1.5-1.4 -.8-.7 4.3 2.3 2.7-.6 .3-.8 1 .1 .7 .9 0-.5 1.7-.4 2.6 .5 .4-1.8 2.3 .4 1.3-.5 0 .5 2 .3 0-.8 1 1 .5-.5 -.2-.7 .7-.1 1 1.3 1-.1 -.4-.8 -.6 0 .7-2 -.7-.3 2-1.3 -.2 1.3 .9 .3 -.7 .4 .4 .1 2-1.8 .3 .7 -.7 .3 .4 .3 .9 0 -.3-.3 .4-.3 1.3 1.3 2.7 1 .3 1.7 2.1 2.3 -.4 .7 0 1.8 1 1 1.6 .2 -.3 .6 .7 2 .7 .4 -1.2 0 -.2 1 2 3.6 -.7 .7 .2 1 1.2 .7 .4 1 -.1 1.3 -1 0 .3 1.3 -.4 1 .4 .5 .9-.1 -.6-.7 .4-1 .7 1.3 -.9 3 1 1.7 .2 3 .3-.3 .3 1.6 .6 .7 1.5 5.7 -.3 6 1 10.3 -.1 34.7 -.4 .3 -.5 7.3 -1.7 6 -1 1.5 -3.5 2.5 .5 .4 -.6 1 -2.8 3zM1546.7 2199.0l-.4-.3zM1566.4 2199.3l0-.3zM1565.0 2199.7l-.6 0zM1578.6 2199.7l-.4 0zM1557.7 2200.3l-.5 0zM1578.5 2200.3l-.5 0zM1563.3 2201.3l.4-.3 -1-.7 -.1 .7zM1558.9 2201.0l-.8 0zM1563.0 2201.2l0-.4zM1541.2 2202.0l-.5 0zM1580.0 2203.0l-.6 0zM1535.7 2210.0l-.2-1.3 .8-1 -.3-1.7 1-1 .4 .3 -.7 .7 -.2 2.7 -.6 .3zM1583.0 2207.7l-1.2-.7zM1537.7 2207.7l-.3-.4zM1535.3 2218.0l-.5 0zM1531.7 2301.1l0-.4zM1532.7 2302.3l-.7-1 1 .4zM1533.4 2304.3l-.4-.3zM1541.7 2306.7l-1 0zM1542.0 2307.7l-.6 0zM1574.7 2309.7l-.7-.9 -1.1 .2 1.1 1zM1578.2 2310.0l-.2-.8 -1.5 .1 1.2 1z"/><path fill="#43B284" fill-opacity="0.464" fill-rule="evenodd" d="M1577.7 2308.4l-2.7 .1 -.1-.5 -2.9-1.3 -.6 .3 -1-.4 -1.7 .6 -5-1.2 -2.3 .8 -1-.9 -1 .2 -2 1.6 -5-1.2 -2 .6 -1-.4 -1.7 .5 -1-.6 -1 .6 -1-.2 -3.3-1.4 -2.2-.3 -3.5-2 -3.4-7 0-1.6 -.5-2 -1-1.4 -1.2-6 .5-3.3 -.8-2.7 .6-29.3 -.3-3.3 1-3 0-5 1.4-4.4 0-2 .5-.6 -.5-2.2 1-1.5 .5-2 -.8-2 .2-.7 .5-.7 1.3-.1 .7-.7 .1-1.5 -.6-1 1.3-1.6 -.4-.7 .9-1.4 1.1-.3 .6-1 -1.4-2.1 2.4-.7 2.1-1.5 -2.6-1.7 1.1-1.1 1.1 .5 .1-1 -1.5 .1 0-.5 1.7 0 .6-1.1 2.8 .5 .5-1.4 -.3-1.6 -1.8 .6 -1.2 1.5 -.5-.5 .4-1.3 2.5-.6 .3-.7 1.1 0 .5 .6 -.6 .1 -.2 .6 1.2 .2 1.3 1.6 0-1 .7 .3 1-.7 1 1.3 .5-.7 -.7-.7 1.2-.7 .7 .6 2-.8 1 .3 .6-.6 3-.3 1 .4 .7-.6 1.3 1.1 .2-1 1.5 1.7 1.3-.3 1.7 .4 1.3-2.2 1.4 .2 2-.9 .6 .7 .2-1.3 .5 0 2.7 1.4 0 .7 .6-.5 .8 .4 -1.3 .7 1.1 1 1.8-.4 1.1 3.4 2.3 1.6 -.6 .7 1.2-.4 .3 .6 .8-.2 -.8 1.2 -1-.7 -.6 1.2 1.6 1.1 .4 1.9 .6-.5 .5 .5 .3 3.3 .7 .3 -.8 .2 -.2 .8 1 .7 -.1 4.3 1.3 2.3 3.4 10.1 -.2 6 1.3 10 .2 25 -.5 9 -.8 9.3 -1.2 2 -1.2 4.8 -4.4 3.4 -1.6 3 -.4-1.2 -.6 1.2zM1572.7 2201.3l.5-.3 -.5-.6zM1565.0 2201.5l-.3-.3zM1570.9 2202.7l.6-.7 -.8-.5 -.3 .7 -.4-.4zM1560.1 2203.0l-.5-.3zM1576.0 2202.8l0-.4zM1554.2 2203.0l-.4 0zM1563.1 2203.7l-.4-.5zM1548.7 2203.9l0-.4zM1543.9 2206.0l-.7 0zM1542.5 2206.7l-.3 0zM1543.5 2209.3l.2-.4 -.9 .1zM1529.7 2282.2l0-.4zM1587.9 2299.3l-.5-.5z"/><path fill="#43B284" fill-opacity="0.567" fill-rule="evenodd" d="M1558.0 2203.4l-.2-.7 .9-.1zM1558.7 2203.7l-.5 0 .5-.5zM1575.4 2307.4l-1.4-1.4 -1 .2 -1-.8 -1 .4 -1.6-.6 -1 1.2 -1.4-1.5 -2.6-.4 -.7 .7 -.3-.2 0 .5 -3.4 0 -3 1 -.6-.2 .4-.6 -.4-.4 -1 0 -1 1 -3.7-1.3 -6 1 -4.7-1.3 0-.4 -1.7-.3 -2.3-1.8 .1-1.5 -2.8-3.4 -.6-4 -1.4-2.3 -.6-4.7 -.7-1 .4-3 -.8-3.6 .5-5 -.5-.4 .4-7.6 -.4-5.4 .6-12.3 .8-3.3 .3-6 1.1-2.7 -.1-3 .9-1.7 .8-5.1 1.5-1.9 .8-4 .4 0 .3 .9 1-.9 -.7-.3 .5-.3 -.5-.4 -.1-1 .6-1 -.4-.6 1.3-1.1 .8 .4 -.4-2.3 3.6-.5 -.2-1.2 .7-1.7 1.8-.1 1.2-1.5 -.7-.7 1-1 1.2 1.1 1-1.9 1.3-.6 1.4 1.2 .6-.6 1.4 .5 3-1.1 2.6 .1 .9-1 -.2-.6 2-.4 5.7 1 -.3-.4 .9-1.1 .4 .8 -.7 .7 .7 .8 .6-.7 1.4 .1 .9 .4 -.7 .4 1.1 .7 .9-.7 -1.1-.4 .5-1.3 1.5 .7 -.2 .6 .4 .3 2.3-.5 .3 .2 -.6 .8 .7-.6 .7 .5 -1.4 .7 .3 .4 .7 .6 2.3-.1 -.1 1.4 1.4 1 -.5 1 1.9 1.7 .2 1.6 .9 1 -.8 1.5 1.1 .9 .4 3.3 .9 2.7 1.1 1.3 -.4 .7 .7 1.6 -.4 .7 1.3 1.3 .5 2 1 1.4 1.4 6.3 -.4 3 1.4 10.3 .1 21.7 -.7 4.3 .5 2.7 -.7 5 .2 3.3 -1.5 3.7 -.7 4.7 -1.2 1 .1 1.4 -1.7 .9 0 1.3 -1.6 .6 -1 1.6 -3 .5 -1.4 1.4 -2 .2 .3 .4zM1553.0 2205.1l.3-.8 .6 .4zM1569.4 2204.9l0-.6zM1572.8 2206.3l.2-.4zM1578.7 2207.6l0-.5zM1535.7 2301.3l0-.5zM1584.4 2303.4l.3-.6zM1583.7 2303.6l0-.4zM1565.7 2306.0l-.8-.3zM1576.5 2306.0l-.9 0z"/><path fill="#43B284" fill-opacity="0.846" fill-rule="evenodd" d="M1574.4 2305.1l-8-2.2 -1 .4 -.4-.4 -2.3 .2 -.3 .2 .6 .4 -.3 .3 -1.3-.7 0 .5 -2.4 .9 -2.2-.7 -1.1-1 -1 .7 -2.7-.3 -.3-.5 -5.7 2.1 -2.6-.8 -.1-.5 -1.3 .2 0-.7 -2-.3 -2.5-2.2 .1-1.4 -3.1-3 -1.5-3.3 -.1-2 -1.3-2.3 -1.6-10.7 .8-8.3 -.8-10.7 .7-9.3 1.1-4.4 -.5-2 .5-1 -.2-2 .4-1 .1 1 .4 0 .8-2 -.3-2.6 .8-2.4 -.2-1.3 1.4-1.3 0-1.4 -.7-.3 3-3.3 -.3-.4 .9-1.6 .1-1.7 3-1.7 -.4-.3 1.3-1.3 -.3-.7 1.4-3 4-.3 -.5-.4 1-1.6 -.5-.7 1.1-.7 .4-1 -.6-.6 .1-.7 1.7 1 .3-.5 1 1.1 1.4-.6 1.6 .8 1.4-1.8 .3 .8 1.7 0 1.6 1.4 .7 0 .3-1.5 1.7-.1 .2-1.3 1.8-1 0-.7 1 .4 .3 1 -1.2-.3 .5 .3 -.7 1 .2 1 .9 .2 1-1 .7 3.1 2.2-1.6 -.4-2.4 .5-.5 1 .2 0 1.7 -1 1 .4 1 1.6-1.1 1.3 .4 .7-2 .7 .2 0 1.2 2.3-.2 .7 .5 -.3 1 .9 .3 -1.3 .7 1.3-.3 3.4 3.9 1.3 5 1.8 1.7 .3 4.3 2.6 3.6 1.3 3.8 .4 4 -.4-.2 -.2 .8 .9 1.4 .7 3 -.2 4 1.1 3.6 0 .6 -.4-.2 .8 8 -.4 4 .3 10.6 -.8 4 .5 4.7 -.8 2.3 .2 3 -2.7 9 -.8 0 -.1 1.4 -3.3 3.3 0 .7 -3.1 1.4 -4.4-1.1 -1.4 1 1.5 .7zM1570.7 2209.8l-.5-.1 .1-.7zM1558.4 2209.7l-.4 0zM1558.5 2212.3l-1.8-.6 .7 1 .3-.5zM1545.7 2213.4l-.4-.1 .4-.3zM1580.3 2216.7l-.3-.3zM1540.7 2218.7l-.5 0 .5-.4zM1541.0 2219.2l0-.4zM1536.1 2229.0l-.6-.3zM1589.7 2247.8l0-1.1zM1530.4 2272.0l0-.5zM1563.6 2302.7l-.2 .3z"/><g fill="#43B284" fill-opacity="0.075" stroke="#43B284" stroke-opacity="0.075" stroke-width="1.2"><circle cx="1557.8" cy="2183.6" r="8.6"/><circle cx="1573.0" cy="2179.1" r="8.6"/><circle cx="1538.1" cy="2179.6" r="8.6"/><circle cx="1553.1" cy="2182.9" r="8.6"/><circle cx="1582.3" cy="2316.4" r="8.6"/><circle cx="1551.6" cy="2179.6" r="8.6"/><circle cx="1548.2" cy="2181.7" r="8.6"/><circle cx="1574.4" cy="2315.6" r="8.6"/><circle cx="1578.2" cy="2180.7" r="8.6"/><circle cx="1552.0" cy="2179.5" r="8.6"/><circle cx="1544.7" cy="2144.9" r="8.6"/><circle cx="1565.3" cy="2149.8" r="8.6"/><circle cx="1556.8" cy="2170.4" r="8.6"/></g>
<path fill="#DD5129" d="M712.7 1548.8L712.9 1548.8L713.0 1700.0L713.3 1745.0L713.9 1774.0L714.7 1804.0L716.0 1833.0L716.7 1852.0L718.5 1870.0L719.0 1894.0L722.0 1911.0L723.8 1935.0L726.8 1953.0L729.8 1971.0L732.7 1983.0L734.5 2001.0L735.1 2013.0L733.9 2025.0L731.9 2038.0L732.1 2045.0L728.6 2064.0L726.8 2078.0L723.8 2089.0L720.2 2104.0L717.3 2116.0L715.8 2128.0L714.6 2146.0L713.4 2157.0L712.9 2169.0L712.9 2195.5L712.7 2195.5Z"/>
<path fill="#0F7BA2" d="M1174.1 2305.6L1174.3 2305.6L1174.4 2313.6L1174.6 2317.0L1176.6 2317.3L1178.3 2318.2L1177.4 2319.9L1179.9 2323.2L1180.7 2324.4L1186.5 2326.1L1187.8 2327.3L1198.1 2328.6L1199.0 2329.8L1204.8 2330.6L1205.6 2331.9L1223.1 2333.1L1248.1 2335.4L1273.1 2336.8L1297.6 2338.1L1305.1 2339.3L1325.7 2340.0L1358.8 2341.7L1391.9 2343.8L1408.5 2345.5L1419.3 2345.8L1410.1 2346.6L1422.6 2348.1L1422.6 2348.5L1391.9 2349.3L1358.8 2350.0L1325.7 2351.0L1305.1 2351.8L1292.5 2352.6L1259.4 2353.8L1226.3 2354.9L1231.1 2355.1L1193.1 2356.3L1206.1 2356.7L1190.1 2357.6L1180.1 2358.8L1176.6 2360.5L1174.3 2362.1L1174.1 2362.1Z"/>
<path fill="#43B284" d="M1635.0 2145.6L1635.2 2145.6L1635.3 2176.8L1635.4 2193.0L1636.9 2198.9L1638.7 2204.9L1639.9 2210.8L1640.5 2213.8L1643.5 2218.0L1646.4 2223.3L1650.0 2228.1L1657.1 2231.7L1657.4 2234.0L1658.3 2235.8L1671.4 2241.8L1674.4 2244.8L1679.8 2247.7L1691.7 2251.3L1693.5 2254.3L1702.4 2258.5L1716.1 2262.0L1714.9 2264.4L1714.9 2269.2L1716.4 2271.8L1703.6 2277.5L1700.6 2280.5L1690.5 2284.0L1672.6 2288.8L1663.7 2291.8L1653.0 2296.5L1642.9 2300.1L1640.5 2302.5L1636.9 2306.7L1635.4 2312.0L1635.2 2315.0L1635.0 2315.0Z"/>
<line x1="638.3" y1="1795.2" x2="638.3" y2="1947.2" stroke="#333" stroke-width="4.4"/>
<line x1="638.3" y1="2048.5" x2="638.3" y2="2195.8" stroke="#333" stroke-width="4.4"/>
<rect x="592.2" y="1947.2" width="92.2" height="101.3" fill="none" stroke="#333" stroke-width="4.4"/>
<line x1="592.2" y1="2001.8" x2="684.4" y2="2001.8" stroke="#333" stroke-width="9"/>
<line x1="1099.35" y1="2327.1" x2="1099.35" y2="2340.3" stroke="#333" stroke-width="4.4"/>
<line x1="1099.35" y1="2349.2" x2="1099.35" y2="2360.8" stroke="#333" stroke-width="4.4"/>
<rect x="1053.2" y="2340.3" width="92.2" height="8.9" fill="none" stroke="#333" stroke-width="4.4"/>
<line x1="1053.2" y1="2344.7" x2="1145.4" y2="2344.7" stroke="#333" stroke-width="9"/>
<line x1="1560.3" y1="2210.9" x2="1560.3" y2="2250.6" stroke="#333" stroke-width="4.4"/>
<line x1="1560.3" y1="2277.2" x2="1560.3" y2="2315.0" stroke="#333" stroke-width="4.4"/>
<rect x="1514.2" y="2250.6" width="92.2" height="26.6" fill="none" stroke="#333" stroke-width="4.4"/>
<line x1="1514.2" y1="2264.5" x2="1606.4" y2="2264.5" stroke="#333" stroke-width="9"/>
</g>
<text x="8.6" y="75.3" font-size="84" fill="#000">(A)</text>
<text x="9.1" y="1507.8" font-size="84" fill="#000">(B)</text>
<rect x="680.0" y="107" width="67.3" height="67" fill="#DD5129"/>
<text x="777.3" y="160" font-size="56.5" fill="#000">Bull</text>
<rect x="905.0" y="107" width="67.3" height="67" fill="#0F7BA2"/>
<text x="1002.9" y="160" font-size="56.5" fill="#000">Blacktip</text>
<rect x="1232.6" y="107" width="67.3" height="67" fill="#43B284"/>
<text x="1330.8" y="160" font-size="56.5" fill="#000">Bonnethead</text>
<rect x="363.0" y="258.6" width="1555.6" height="892.5" fill="none" stroke="#1f1f1f" stroke-width="2.1"/>
<line x1="349" y1="953.1" x2="363.0" y2="953.1" stroke="#333333" stroke-width="4.3"/>
<text x="338.8" y="979.4" font-size="74.5" fill="#4D4D4D" text-anchor="end">12</text>
<line x1="349" y1="723.5" x2="363.0" y2="723.5" stroke="#333333" stroke-width="4.3"/>
<text x="338.8" y="749.8" font-size="74.5" fill="#4D4D4D" text-anchor="end">16</text>
<line x1="349" y1="494" x2="363.0" y2="494" stroke="#333333" stroke-width="4.3"/>
<text x="338.8" y="520.3" font-size="74.5" fill="#4D4D4D" text-anchor="end">20</text>
<line x1="349" y1="264.4" x2="363.0" y2="264.4" stroke="#333333" stroke-width="4.3"/>
<text x="338.8" y="290.7" font-size="74.5" fill="#4D4D4D" text-anchor="end">24</text>
<line x1="606" y1="1151.1" x2="606" y2="1165.2" stroke="#333333" stroke-width="4.6"/>
<text x="606" y="1229.3" font-size="74.5" fill="#4D4D4D" text-anchor="middle">-20</text>
<line x1="895.3" y1="1151.1" x2="895.3" y2="1165.2" stroke="#333333" stroke-width="4.6"/>
<text x="895.3" y="1229.3" font-size="74.5" fill="#4D4D4D" text-anchor="middle">-18</text>
<line x1="1184.6" y1="1151.1" x2="1184.6" y2="1165.2" stroke="#333333" stroke-width="4.6"/>
<text x="1184.6" y="1229.3" font-size="74.5" fill="#4D4D4D" text-anchor="middle">-16</text>
<line x1="1474" y1="1151.1" x2="1474" y2="1165.2" stroke="#333333" stroke-width="4.6"/>
<text x="1474" y="1229.3" font-size="74.5" fill="#4D4D4D" text-anchor="middle">-14</text>
<line x1="1763.3" y1="1151.1" x2="1763.3" y2="1165.2" stroke="#333333" stroke-width="4.6"/>
<text x="1763.3" y="1229.3" font-size="74.5" fill="#4D4D4D" text-anchor="middle">-12</text>
<text x="974.6" y="1341" font-size="83.5" fill="#000">δ<tspan font-size="58.45" dx="-5" dy="-39.5">13</tspan><tspan dx="2" dy="39.5">C (‰)</tspan></text>
<text transform="translate(205.2,868.3) rotate(-90)" font-size="83.5" fill="#000"><tspan x="-4">δ</tspan><tspan font-size="58.45" dx="-5" dy="-39.5">15</tspan><tspan dx="2" dy="39.5">N (‰)</tspan></text>
<rect x="363.0" y="1509.5" width="1555.6" height="892.7" fill="none" stroke="#1f1f1f" stroke-width="2.1"/>
<line x1="349" y1="2379.6" x2="363.0" y2="2379.6" stroke="#333333" stroke-width="4.3"/>
<text x="338.6" y="2403.2" font-size="66" fill="#4D4D4D" text-anchor="end">0</text>
<line x1="349" y1="2161.5" x2="363.0" y2="2161.5" stroke="#333333" stroke-width="4.3"/>
<text x="338.6" y="2185.1" font-size="66" fill="#4D4D4D" text-anchor="end">20</text>
<line x1="349" y1="1943.5" x2="363.0" y2="1943.5" stroke="#333333" stroke-width="4.3"/>
<text x="338.6" y="1967.1" font-size="66" fill="#4D4D4D" text-anchor="end">40</text>
<line x1="349" y1="1725.4" x2="363.0" y2="1725.4" stroke="#333333" stroke-width="4.3"/>
<text x="338.6" y="1749" font-size="66" fill="#4D4D4D" text-anchor="end">60</text>
<line x1="638.4" y1="2402.2" x2="638.4" y2="2415.8" stroke="#333333" stroke-width="4.6"/>
<text x="638.4" y="2473.1" font-size="65.5" fill="#4D4D4D" text-anchor="middle">Bull</text>
<line x1="1099.3" y1="2402.2" x2="1099.3" y2="2415.8" stroke="#333333" stroke-width="4.6"/>
<text x="1099.3" y="2473.1" font-size="65.5" fill="#4D4D4D" text-anchor="middle">Blacktip</text>
<line x1="1560.4" y1="2402.2" x2="1560.4" y2="2415.8" stroke="#333333" stroke-width="4.6"/>
<text x="1560.4" y="2473.1" font-size="65.5" fill="#4D4D4D" text-anchor="middle">Bonnethead</text>
<g transform="translate(204,2281.6) rotate(-90)" font-size="83.5" fill="#000"><text x="0" y="0">Ellipse Area</text><text transform="translate(468,0) scale(1,1.24)">(</text><text x="500.7" y="0">‰</text><text x="583.7" y="-42.3" font-size="58.45">2</text><text transform="translate(623.9,0) scale(1,1.24)">)</text></g>
</svg></body></html>
